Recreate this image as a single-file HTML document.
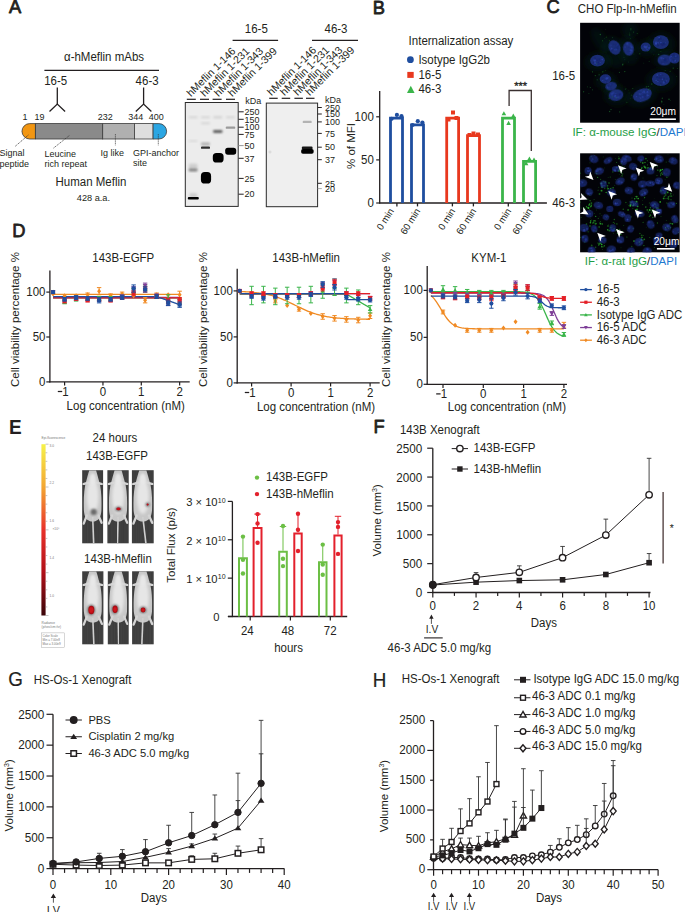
<!DOCTYPE html>
<html><head><meta charset="utf-8"><style>
html,body{margin:0;padding:0;background:#fff;}
body{width:685px;height:912px;overflow:hidden;}
svg{display:block;font-family:"Liberation Sans", sans-serif;}
</style></head><body>
<svg width="685" height="912" viewBox="0 0 685 912">
<rect x="0" y="0" width="685" height="912" fill="#fff"/>
<text transform="translate(8.90,13.20) scale(1,1.05)" font-size="18.3" text-anchor="start" fill="#231f20" stroke="#231f20" stroke-width="0.75" stroke-linejoin="round">A</text>
<text transform="translate(64.00,61.00) scale(1,1.05)" font-size="11.5" text-anchor="start" fill="#231f20" >α-hMeflin mAbs</text>
<line x1="44.40" y1="70.40" x2="159.00" y2="70.40" stroke="#231f20" stroke-width="1.3" />
<text transform="translate(44.20,85.00) scale(1,1.05)" font-size="11.5" text-anchor="start" fill="#231f20" >16-5</text>
<text transform="translate(135.60,85.00) scale(1,1.05)" font-size="11.5" text-anchor="start" fill="#231f20" >46-3</text>
<polyline points="57.30,87.50 57.30,104.10" fill="none" stroke="#231f20" stroke-width="1.3" />
<polyline points="49.50,111.50 57.30,104.10 65.10,111.50" fill="none" stroke="#231f20" stroke-width="1.3" />
<polyline points="143.60,87.50 143.60,104.10" fill="none" stroke="#231f20" stroke-width="1.3" />
<polyline points="135.80,111.50 143.60,104.10 151.40,111.50" fill="none" stroke="#231f20" stroke-width="1.3" />
<text transform="translate(22.50,120.00) scale(1,1.05)" font-size="9" text-anchor="start" fill="#231f20" >1</text>
<text transform="translate(34.50,120.00) scale(1,1.05)" font-size="9" text-anchor="start" fill="#231f20" >19</text>
<text transform="translate(97.80,120.00) scale(1,1.05)" font-size="9" text-anchor="start" fill="#231f20" >232</text>
<text transform="translate(128.20,120.00) scale(1,1.05)" font-size="9" text-anchor="start" fill="#231f20" >344</text>
<text transform="translate(148.70,120.00) scale(1,1.05)" font-size="9" text-anchor="start" fill="#231f20" >400</text>
<path d="M35.4,123.6 L29.700000000000003,123.6 A7.700000000000003,7.700000000000003 0 0 0 29.700000000000003,139.0 L35.4,139.0 Z" fill="#f29612" stroke="#3a3a3a" stroke-width="0.8"/>
<rect x="35.40" y="123.60" width="67.30" height="15.40" fill="#8a8a8a" stroke="#3a3a3a" stroke-width="0.8" />
<rect x="102.70" y="123.60" width="31.70" height="15.40" fill="#b0b0b0" stroke="#3a3a3a" stroke-width="0.8" />
<rect x="134.40" y="123.60" width="18.70" height="15.40" fill="#dedede" stroke="#3a3a3a" stroke-width="0.8" />
<path d="M153.1,123.6 L158.89999999999998,123.6 A7.700000000000003,7.700000000000003 0 0 1 158.89999999999998,139.0 L153.1,139.0 Z" fill="#2ba6e3" stroke="#3a3a3a" stroke-width="0.8"/>
<line x1="28.40" y1="135.00" x2="15.00" y2="146.50" stroke="#333" stroke-width="0.8" stroke-dasharray="1.2,0.9"/>
<line x1="69.30" y1="135.60" x2="53.00" y2="148.50" stroke="#333" stroke-width="0.8" stroke-dasharray="1.2,0.9"/>
<line x1="115.40" y1="134.20" x2="115.40" y2="145.30" stroke="#333" stroke-width="0.8" stroke-dasharray="1.2,0.9"/>
<line x1="158.30" y1="134.20" x2="158.30" y2="145.30" stroke="#333" stroke-width="0.8" stroke-dasharray="1.2,0.9"/>
<text transform="translate(-0.50,156.20) scale(1,1.05)" font-size="9" text-anchor="start" fill="#231f20" >Signal</text>
<text transform="translate(-0.50,166.80) scale(1,1.05)" font-size="9" text-anchor="start" fill="#231f20" >peptide</text>
<text transform="translate(44.60,156.60) scale(1,1.05)" font-size="9" text-anchor="start" fill="#231f20" >Leucine</text>
<text transform="translate(44.60,166.80) scale(1,1.05)" font-size="9" text-anchor="start" fill="#231f20" >rich repeat</text>
<text transform="translate(100.60,155.80) scale(1,1.05)" font-size="9" text-anchor="start" fill="#231f20" >Ig like</text>
<text transform="translate(133.00,155.80) scale(1,1.05)" font-size="9" text-anchor="start" fill="#231f20" >GPI-anchor</text>
<text transform="translate(133.00,165.60) scale(1,1.05)" font-size="9" text-anchor="start" fill="#231f20" >site</text>
<text transform="translate(55.50,186.00) scale(1,1.05)" font-size="11.5" text-anchor="start" fill="#231f20" >Human Meflin</text>
<text transform="translate(76.80,200.60) scale(1,1.05)" font-size="9.2" text-anchor="start" fill="#231f20" >428 a.a.</text>
<defs><filter id="b1" x="-50%" y="-50%" width="200%" height="200%"><feGaussianBlur stdDeviation="0.1"/></filter><filter id="b2" x="-50%" y="-50%" width="200%" height="200%"><feGaussianBlur stdDeviation="0.2"/></filter><filter id="b3" x="-50%" y="-50%" width="200%" height="200%"><feGaussianBlur stdDeviation="0.3"/></filter><filter id="b4" x="-50%" y="-50%" width="200%" height="200%"><feGaussianBlur stdDeviation="0.4"/></filter><filter id="b5" x="-50%" y="-50%" width="200%" height="200%"><feGaussianBlur stdDeviation="0.5"/></filter><filter id="b6" x="-50%" y="-50%" width="200%" height="200%"><feGaussianBlur stdDeviation="0.6"/></filter><filter id="b7" x="-50%" y="-50%" width="200%" height="200%"><feGaussianBlur stdDeviation="0.7"/></filter><filter id="b8" x="-50%" y="-50%" width="200%" height="200%"><feGaussianBlur stdDeviation="0.8"/></filter><filter id="b9" x="-50%" y="-50%" width="200%" height="200%"><feGaussianBlur stdDeviation="0.9"/></filter><filter id="b10" x="-50%" y="-50%" width="200%" height="200%"><feGaussianBlur stdDeviation="1.0"/></filter><filter id="b11" x="-50%" y="-50%" width="200%" height="200%"><feGaussianBlur stdDeviation="1.1"/></filter><filter id="b12" x="-50%" y="-50%" width="200%" height="200%"><feGaussianBlur stdDeviation="1.2"/></filter><filter id="b13" x="-50%" y="-50%" width="200%" height="200%"><feGaussianBlur stdDeviation="1.3"/></filter><filter id="b14" x="-50%" y="-50%" width="200%" height="200%"><feGaussianBlur stdDeviation="1.4"/></filter><filter id="b15" x="-50%" y="-50%" width="200%" height="200%"><feGaussianBlur stdDeviation="1.5"/></filter><filter id="b16" x="-50%" y="-50%" width="200%" height="200%"><feGaussianBlur stdDeviation="1.6"/></filter><filter id="b17" x="-50%" y="-50%" width="200%" height="200%"><feGaussianBlur stdDeviation="1.7"/></filter><filter id="b18" x="-50%" y="-50%" width="200%" height="200%"><feGaussianBlur stdDeviation="1.8"/></filter><filter id="b19" x="-50%" y="-50%" width="200%" height="200%"><feGaussianBlur stdDeviation="1.9"/></filter><filter id="b20" x="-50%" y="-50%" width="200%" height="200%"><feGaussianBlur stdDeviation="2.0"/></filter><filter id="b21" x="-50%" y="-50%" width="200%" height="200%"><feGaussianBlur stdDeviation="2.1"/></filter><filter id="b22" x="-50%" y="-50%" width="200%" height="200%"><feGaussianBlur stdDeviation="2.2"/></filter><filter id="b23" x="-50%" y="-50%" width="200%" height="200%"><feGaussianBlur stdDeviation="2.3"/></filter><filter id="b24" x="-50%" y="-50%" width="200%" height="200%"><feGaussianBlur stdDeviation="2.4"/></filter><filter id="b25" x="-50%" y="-50%" width="200%" height="200%"><feGaussianBlur stdDeviation="2.5"/></filter><filter id="b26" x="-50%" y="-50%" width="200%" height="200%"><feGaussianBlur stdDeviation="2.6"/></filter><filter id="b27" x="-50%" y="-50%" width="200%" height="200%"><feGaussianBlur stdDeviation="2.7"/></filter><filter id="b28" x="-50%" y="-50%" width="200%" height="200%"><feGaussianBlur stdDeviation="2.8"/></filter><filter id="b29" x="-50%" y="-50%" width="200%" height="200%"><feGaussianBlur stdDeviation="2.9"/></filter><filter id="b30" x="-50%" y="-50%" width="200%" height="200%"><feGaussianBlur stdDeviation="3.0"/></filter><filter id="b31" x="-50%" y="-50%" width="200%" height="200%"><feGaussianBlur stdDeviation="3.1"/></filter><filter id="b32" x="-50%" y="-50%" width="200%" height="200%"><feGaussianBlur stdDeviation="3.2"/></filter><filter id="b33" x="-50%" y="-50%" width="200%" height="200%"><feGaussianBlur stdDeviation="3.3"/></filter><filter id="b34" x="-50%" y="-50%" width="200%" height="200%"><feGaussianBlur stdDeviation="3.4"/></filter><filter id="b35" x="-50%" y="-50%" width="200%" height="200%"><feGaussianBlur stdDeviation="3.5"/></filter><filter id="b36" x="-50%" y="-50%" width="200%" height="200%"><feGaussianBlur stdDeviation="3.6"/></filter><filter id="b37" x="-50%" y="-50%" width="200%" height="200%"><feGaussianBlur stdDeviation="3.7"/></filter><filter id="b38" x="-50%" y="-50%" width="200%" height="200%"><feGaussianBlur stdDeviation="3.8"/></filter><filter id="b39" x="-50%" y="-50%" width="200%" height="200%"><feGaussianBlur stdDeviation="3.9"/></filter></defs>
<text transform="translate(244.80,33.40) scale(1,1.05)" font-size="11.5" text-anchor="start" fill="#231f20" >16-5</text>
<line x1="232.60" y1="40.40" x2="278.10" y2="40.40" stroke="#231f20" stroke-width="1.3" />
<text transform="translate(324.50,33.40) scale(1,1.05)" font-size="11.5" text-anchor="start" fill="#231f20" >46-3</text>
<line x1="312.00" y1="40.40" x2="358.00" y2="40.40" stroke="#231f20" stroke-width="1.3" />
<rect x="185.30" y="102.50" width="52.90" height="103.90" fill="#ececec" stroke="#2a2a2a" stroke-width="1" />
<clipPath id="cb1"><rect x="185.8" y="103" width="51.9" height="102.9"/></clipPath><g clip-path="url(#cb1)">
<rect x="187.80" y="196.90" width="11.00" height="2.60" rx="0.99" fill="#000" fill-opacity="1" filter="url(#b5)"/>
<rect x="189.30" y="193.00" width="8.00" height="5.00" rx="1.90" fill="#000" fill-opacity="0.12" filter="url(#b10)"/>
<rect x="188.60" y="168.40" width="9.00" height="3.00" rx="1.14" fill="#000" fill-opacity="0.45" filter="url(#b9)"/>
<rect x="188.60" y="163.50" width="9.00" height="5.00" rx="1.90" fill="#000" fill-opacity="0.12" filter="url(#b12)"/>
<rect x="188.60" y="140.00" width="9.00" height="2.00" rx="0.76" fill="#000" fill-opacity="0.08" filter="url(#b10)"/>
<rect x="188.60" y="116.30" width="9.00" height="2.00" rx="0.76" fill="#000" fill-opacity="0.1" filter="url(#b8)"/>
<rect x="200.90" y="172.05" width="10.20" height="11.50" rx="3.88" fill="#000" fill-opacity="1" filter="url(#b7)"/>
<rect x="201.00" y="146.40" width="9.00" height="2.40" rx="0.91" fill="#000" fill-opacity="0.8" filter="url(#b6)"/>
<rect x="201.00" y="142.50" width="9.00" height="3.00" rx="1.14" fill="#000" fill-opacity="0.25" filter="url(#b10)"/>
<rect x="201.00" y="122.30" width="9.00" height="2.00" rx="0.76" fill="#000" fill-opacity="0.1" filter="url(#b10)"/>
<rect x="201.00" y="116.30" width="9.00" height="2.00" rx="0.76" fill="#000" fill-opacity="0.1" filter="url(#b8)"/>
<rect x="212.80" y="153.00" width="10.80" height="9.60" rx="3.65" fill="#000" fill-opacity="1" filter="url(#b7)"/>
<rect x="213.05" y="130.00" width="9.50" height="3.00" rx="1.14" fill="#000" fill-opacity="0.6" filter="url(#b8)"/>
<rect x="213.30" y="116.05" width="9.00" height="2.50" rx="0.95" fill="#000" fill-opacity="0.1" filter="url(#b8)"/>
<rect x="225.20" y="147.70" width="11.00" height="7.00" rx="2.66" fill="#000" fill-opacity="1" filter="url(#b6)"/>
<rect x="225.75" y="126.40" width="9.50" height="2.40" rx="0.91" fill="#000" fill-opacity="0.35" filter="url(#b7)"/>
<rect x="226.00" y="116.30" width="9.00" height="2.00" rx="0.76" fill="#000" fill-opacity="0.1" filter="url(#b8)"/>
</g>
<line x1="186.80" y1="99.30" x2="195.80" y2="99.30" stroke="#231f20" stroke-width="1.2" />
<line x1="200.00" y1="99.30" x2="209.00" y2="99.30" stroke="#231f20" stroke-width="1.2" />
<line x1="212.60" y1="99.30" x2="221.60" y2="99.30" stroke="#231f20" stroke-width="1.2" />
<line x1="226.00" y1="99.30" x2="235.00" y2="99.30" stroke="#231f20" stroke-width="1.2" />
<text transform="translate(245.30,103.90) scale(1,1.05)" font-size="9" text-anchor="start" fill="#231f20" >kDa</text>
<line x1="238.50" y1="111.80" x2="243.70" y2="111.80" stroke="#231f20" stroke-width="1" />
<text transform="translate(244.40,115.00) scale(1,1.05)" font-size="9" text-anchor="start" fill="#231f20" >250</text>
<line x1="238.50" y1="119.30" x2="243.70" y2="119.30" stroke="#231f20" stroke-width="1" />
<text transform="translate(244.40,122.50) scale(1,1.05)" font-size="9" text-anchor="start" fill="#231f20" >150</text>
<line x1="238.50" y1="127.20" x2="243.70" y2="127.20" stroke="#231f20" stroke-width="1" />
<text transform="translate(244.40,130.40) scale(1,1.05)" font-size="9" text-anchor="start" fill="#231f20" >100</text>
<line x1="238.50" y1="134.40" x2="243.70" y2="134.40" stroke="#231f20" stroke-width="1" />
<text transform="translate(244.40,137.60) scale(1,1.05)" font-size="9" text-anchor="start" fill="#231f20" >75</text>
<line x1="238.50" y1="145.60" x2="243.70" y2="145.60" stroke="#999" stroke-width="1" />
<text transform="translate(244.40,148.80) scale(1,1.05)" font-size="9" text-anchor="start" fill="#231f20" >50</text>
<line x1="238.50" y1="158.30" x2="243.70" y2="158.30" stroke="#231f20" stroke-width="1" />
<text transform="translate(244.40,161.50) scale(1,1.05)" font-size="9" text-anchor="start" fill="#231f20" >37</text>
<line x1="238.50" y1="178.40" x2="243.70" y2="178.40" stroke="#231f20" stroke-width="1" />
<text transform="translate(244.40,181.60) scale(1,1.05)" font-size="9" text-anchor="start" fill="#231f20" >25</text>
<line x1="238.50" y1="194.20" x2="243.70" y2="194.20" stroke="#231f20" stroke-width="1" />
<text transform="translate(244.40,197.40) scale(1,1.05)" font-size="9" text-anchor="start" fill="#231f20" >20</text>
<rect x="266.30" y="103.10" width="51.30" height="103.60" fill="#efefef" stroke="#2a2a2a" stroke-width="1" />
<clipPath id="cb2"><rect x="266.8" y="103.6" width="50.3" height="102.6"/></clipPath><g clip-path="url(#cb2)">
<rect x="301.80" y="146.40" width="10.80" height="3.00" rx="1.14" fill="#000" fill-opacity="0.9" filter="url(#b6)"/>
<rect x="301.15" y="149.10" width="12.50" height="4.60" rx="1.75" fill="#000" fill-opacity="1" filter="url(#b6)"/>
<rect x="302.70" y="120.80" width="9.00" height="2.20" rx="0.84" fill="#000" fill-opacity="0.25" filter="url(#b7)"/>
<rect x="268.50" y="150.50" width="3.00" height="3.00" rx="1.14" fill="#000" fill-opacity="0.08" filter="url(#b7)"/>
</g>
<line x1="269.20" y1="98.30" x2="277.70" y2="98.30" stroke="#231f20" stroke-width="1.2" />
<line x1="281.70" y1="98.30" x2="290.20" y2="98.30" stroke="#231f20" stroke-width="1.2" />
<line x1="294.40" y1="98.30" x2="302.90" y2="98.30" stroke="#231f20" stroke-width="1.2" />
<line x1="306.00" y1="98.30" x2="314.50" y2="98.30" stroke="#231f20" stroke-width="1.2" />
<text transform="translate(325.00,102.90) scale(1,1.05)" font-size="9" text-anchor="start" fill="#231f20" >kDa</text>
<line x1="317.80" y1="107.50" x2="321.80" y2="107.50" stroke="#231f20" stroke-width="1" />
<text transform="translate(325.00,110.70) scale(1,1.05)" font-size="9" text-anchor="start" fill="#231f20" >250</text>
<line x1="317.80" y1="114.00" x2="321.80" y2="114.00" stroke="#231f20" stroke-width="1" />
<text transform="translate(325.00,117.20) scale(1,1.05)" font-size="9" text-anchor="start" fill="#231f20" >150</text>
<line x1="317.80" y1="121.90" x2="321.80" y2="121.90" stroke="#231f20" stroke-width="1" />
<text transform="translate(325.00,125.10) scale(1,1.05)" font-size="9" text-anchor="start" fill="#231f20" >100</text>
<line x1="317.80" y1="133.40" x2="321.80" y2="133.40" stroke="#231f20" stroke-width="1" />
<text transform="translate(325.00,136.60) scale(1,1.05)" font-size="9" text-anchor="start" fill="#231f20" >75</text>
<line x1="317.80" y1="147.20" x2="321.80" y2="147.20" stroke="#231f20" stroke-width="1" />
<text transform="translate(325.00,150.40) scale(1,1.05)" font-size="9" text-anchor="start" fill="#231f20" >50</text>
<line x1="317.80" y1="159.70" x2="321.80" y2="159.70" stroke="#231f20" stroke-width="1" />
<text transform="translate(325.00,162.90) scale(1,1.05)" font-size="9" text-anchor="start" fill="#231f20" >37</text>
<line x1="317.80" y1="183.30" x2="321.80" y2="183.30" stroke="#231f20" stroke-width="1" />
<text transform="translate(325.00,186.50) scale(1,1.05)" font-size="9" text-anchor="start" fill="#231f20" >25</text>
<line x1="317.80" y1="188.60" x2="321.80" y2="188.60" stroke="#aaa" stroke-width="1" />
<text transform="translate(325.00,191.80) scale(1,1.05)" font-size="9" text-anchor="start" fill="#231f20" >20</text>
<text x="0" y="0" font-size="10.6" text-anchor="start" fill="#231f20" transform="translate(190.9,97.2) rotate(-45)">hMeflin 1-146</text>
<text x="0" y="0" font-size="10.6" text-anchor="start" fill="#231f20" transform="translate(271.5,96.2) rotate(-45)">hMeflin 1-146</text>
<text x="0" y="0" font-size="10.6" text-anchor="start" fill="#231f20" transform="translate(204.7,97.2) rotate(-45)">hMeflin 1-231</text>
<text x="0" y="0" font-size="10.6" text-anchor="start" fill="#231f20" transform="translate(284.6,96.2) rotate(-45)">hMeflin 1-231</text>
<text x="0" y="0" font-size="10.6" text-anchor="start" fill="#231f20" transform="translate(218.5,97.2) rotate(-45)">hMeflin 1-343</text>
<text x="0" y="0" font-size="10.6" text-anchor="start" fill="#231f20" transform="translate(297.7,96.2) rotate(-45)">hMeflin 1-343</text>
<text x="0" y="0" font-size="10.6" text-anchor="start" fill="#231f20" transform="translate(232.3,97.2) rotate(-45)">hMeflin 1-399</text>
<text x="0" y="0" font-size="10.6" text-anchor="start" fill="#231f20" transform="translate(309.8,96.2) rotate(-45)">hMeflin 1-399</text>
<text transform="translate(372.80,13.60) scale(1,1.05)" font-size="18.3" text-anchor="start" fill="#231f20" stroke="#231f20" stroke-width="0.75" stroke-linejoin="round">B</text>
<text transform="translate(408.60,44.80) scale(1,1.05)" font-size="11.5" text-anchor="start" fill="#231f20" >Internalization assay</text>
<circle cx="410.40" cy="59.70" r="3.4" fill="#1f4e9f" stroke="none" stroke-width="1"/>
<text transform="translate(418.40,63.60) scale(1,1.05)" font-size="11.5" text-anchor="start" fill="#231f20" >Isotype IgG2b</text>
<rect x="407.30" y="71.90" width="6.40" height="6.00" fill="#e8381e" stroke="none" stroke-width="1" />
<text transform="translate(418.40,78.80) scale(1,1.05)" font-size="11.5" text-anchor="start" fill="#231f20" >16-5</text>
<polygon points="410.80,85.80 407.00,92.90 414.60,92.90" fill="#3bb54a" stroke="none" stroke-width="1"/>
<text transform="translate(418.40,92.80) scale(1,1.05)" font-size="11.5" text-anchor="start" fill="#231f20" >46-3</text>
<line x1="379.70" y1="90.90" x2="379.70" y2="203.60" stroke="#231f20" stroke-width="1.3" />
<line x1="379.10" y1="203.00" x2="546.90" y2="203.00" stroke="#231f20" stroke-width="1.3" />
<line x1="376.20" y1="116.80" x2="379.70" y2="116.80" stroke="#231f20" stroke-width="1.2" />
<text transform="translate(373.80,120.80) scale(1,1.05)" font-size="11.5" text-anchor="end" fill="#231f20" >100</text>
<line x1="376.20" y1="159.90" x2="379.70" y2="159.90" stroke="#231f20" stroke-width="1.2" />
<text transform="translate(373.80,163.90) scale(1,1.05)" font-size="11.5" text-anchor="end" fill="#231f20" >50</text>
<line x1="376.20" y1="203.00" x2="379.70" y2="203.00" stroke="#231f20" stroke-width="1.2" />
<text transform="translate(373.80,207.00) scale(1,1.05)" font-size="11.5" text-anchor="end" fill="#231f20" >0</text>
<text x="0" y="0" font-size="11.5" text-anchor="middle" fill="#231f20" transform="translate(355.0,146.0) rotate(-90)">% of MFI</text>
<path d="M390.50,203.0 V118.20 H402.50 V203.0" fill="none" stroke="#1f4e9f" stroke-width="2.8"/>
<path d="M411.50,203.0 V124.92 H423.50 V203.0" fill="none" stroke="#1f4e9f" stroke-width="2.8"/>
<path d="M446.70,203.0 V118.20 H458.60 V203.0" fill="none" stroke="#e8381e" stroke-width="2.8"/>
<path d="M467.50,203.0 V135.70 H479.50 V203.0" fill="none" stroke="#e8381e" stroke-width="2.8"/>
<path d="M502.50,203.0 V118.20 H514.50 V203.0" fill="none" stroke="#3bb54a" stroke-width="2.8"/>
<path d="M523.50,203.0 V161.39 H535.60 V203.0" fill="none" stroke="#3bb54a" stroke-width="2.8"/>
<circle cx="391.60" cy="118.80" r="2.1" fill="#1f4e9f" stroke="none" stroke-width="1"/>
<circle cx="396.90" cy="114.90" r="2.1" fill="#1f4e9f" stroke="none" stroke-width="1"/>
<circle cx="401.50" cy="116.20" r="2.1" fill="#1f4e9f" stroke="none" stroke-width="1"/>
<circle cx="412.60" cy="125.00" r="2.1" fill="#1f4e9f" stroke="none" stroke-width="1"/>
<circle cx="417.80" cy="121.20" r="2.1" fill="#1f4e9f" stroke="none" stroke-width="1"/>
<circle cx="422.40" cy="122.60" r="2.1" fill="#1f4e9f" stroke="none" stroke-width="1"/>
<rect x="446.50" y="117.50" width="4.00" height="4.00" fill="#e8381e" stroke="none" stroke-width="1" />
<rect x="451.00" y="110.50" width="4.00" height="4.00" fill="#e8381e" stroke="none" stroke-width="1" />
<rect x="454.50" y="116.00" width="4.00" height="4.00" fill="#e8381e" stroke="none" stroke-width="1" />
<rect x="467.50" y="133.00" width="4.00" height="4.00" fill="#e8381e" stroke="none" stroke-width="1" />
<rect x="471.50" y="131.50" width="4.00" height="4.00" fill="#e8381e" stroke="none" stroke-width="1" />
<rect x="476.00" y="132.50" width="4.00" height="4.00" fill="#e8381e" stroke="none" stroke-width="1" />
<polygon points="503.90,111.20 501.60,115.30 506.20,115.30" fill="#3bb54a" stroke="none" stroke-width="1"/>
<polygon points="508.60,120.80 506.30,124.90 510.90,124.90" fill="#3bb54a" stroke="none" stroke-width="1"/>
<polygon points="513.30,113.60 511.00,117.70 515.60,117.70" fill="#3bb54a" stroke="none" stroke-width="1"/>
<polygon points="529.40,156.40 527.10,160.50 531.70,160.50" fill="#3bb54a" stroke="none" stroke-width="1"/>
<polygon points="534.00,157.40 531.70,161.50 536.30,161.50" fill="#3bb54a" stroke="none" stroke-width="1"/>
<polygon points="526.10,161.20 523.80,165.30 528.40,165.30" fill="#3bb54a" stroke="none" stroke-width="1"/>
<polyline points="509.10,105.90 509.10,90.50 531.30,90.50 531.30,150.90" fill="none" stroke="#3a3030" stroke-width="1.3" />
<text transform="translate(520.60,90.40) scale(1,1.05)" font-size="11" text-anchor="middle" fill="#231f20" stroke="#231f20" stroke-width="0.3">***</text>
<line x1="396.90" y1="203.00" x2="396.90" y2="206.40" stroke="#231f20" stroke-width="1.3" />
<text x="0" y="0" font-size="9.6" text-anchor="end" fill="#231f20" transform="translate(394.3,210.9) rotate(-58)">0 min</text>
<line x1="417.50" y1="203.00" x2="417.50" y2="206.40" stroke="#231f20" stroke-width="1.3" />
<text x="0" y="0" font-size="9.6" text-anchor="end" fill="#231f20" transform="translate(420.7,210.9) rotate(-58)">60 min</text>
<line x1="452.40" y1="203.00" x2="452.40" y2="206.40" stroke="#231f20" stroke-width="1.3" />
<text x="0" y="0" font-size="9.6" text-anchor="end" fill="#231f20" transform="translate(455.6,210.9) rotate(-58)">0 min</text>
<line x1="473.40" y1="203.00" x2="473.40" y2="206.40" stroke="#231f20" stroke-width="1.3" />
<text x="0" y="0" font-size="9.6" text-anchor="end" fill="#231f20" transform="translate(476.6,210.9) rotate(-58)">60 min</text>
<line x1="508.30" y1="203.00" x2="508.30" y2="206.40" stroke="#231f20" stroke-width="1.3" />
<text x="0" y="0" font-size="9.6" text-anchor="end" fill="#231f20" transform="translate(511.5,210.9) rotate(-58)">0 min</text>
<line x1="529.50" y1="203.00" x2="529.50" y2="206.40" stroke="#231f20" stroke-width="1.3" />
<text x="0" y="0" font-size="9.6" text-anchor="end" fill="#231f20" transform="translate(532.7,210.9) rotate(-58)">60 min</text>
<text transform="translate(546.60,13.40) scale(1,1.05)" font-size="18.3" text-anchor="start" fill="#231f20" stroke="#231f20" stroke-width="0.75" stroke-linejoin="round">C</text>
<text transform="translate(577.80,12.80) scale(1,1.05)" font-size="11.5" text-anchor="start" fill="#231f20" >CHO Flp-In-hMeflin</text>
<rect x="580.10" y="22.80" width="99.60" height="99.90" fill="#020308" stroke="none" stroke-width="1" />
<clipPath id="cc1"><rect x="580.1" y="22.8" width="99.6" height="99.9"/></clipPath><g clip-path="url(#cc1)">
<ellipse cx="614" cy="52" rx="12" ry="16" transform="rotate(-20 614 52)" fill="#0c2a22" fill-opacity="0.28" filter="url(#b30)"/>
<ellipse cx="629" cy="50" rx="10" ry="15" transform="rotate(-10 629 50)" fill="#0c2a22" fill-opacity="0.28" filter="url(#b30)"/>
<ellipse cx="647" cy="48" rx="10" ry="9" transform="rotate(0 647 48)" fill="#0c2a22" fill-opacity="0.28" filter="url(#b30)"/>
<ellipse cx="661" cy="44" rx="14" ry="12" transform="rotate(0 661 44)" fill="#0c2a22" fill-opacity="0.28" filter="url(#b30)"/>
<ellipse cx="668" cy="60" rx="15" ry="9" transform="rotate(0 668 60)" fill="#0c2a22" fill-opacity="0.28" filter="url(#b30)"/>
<ellipse cx="598" cy="62" rx="13" ry="10" transform="rotate(0 598 62)" fill="#0c2a22" fill-opacity="0.28" filter="url(#b30)"/>
<ellipse cx="606" cy="81" rx="11" ry="9" transform="rotate(0 606 81)" fill="#0c2a22" fill-opacity="0.28" filter="url(#b30)"/>
<ellipse cx="612" cy="88" rx="10" ry="7" transform="rotate(0 612 88)" fill="#0c2a22" fill-opacity="0.28" filter="url(#b30)"/>
<ellipse cx="617" cy="96" rx="13" ry="10" transform="rotate(0 617 96)" fill="#0c2a22" fill-opacity="0.28" filter="url(#b30)"/>
<ellipse cx="661" cy="80" rx="15" ry="11" transform="rotate(0 661 80)" fill="#0c2a22" fill-opacity="0.28" filter="url(#b30)"/>
<ellipse cx="642" cy="96" rx="16" ry="10" transform="rotate(-20 642 96)" fill="#0c2a22" fill-opacity="0.28" filter="url(#b30)"/>
<ellipse cx="600" cy="40" rx="6" ry="14" transform="rotate(-30 600 40)" fill="#0c2a22" fill-opacity="0.28" filter="url(#b30)"/>
<ellipse cx="630" cy="30" rx="8" ry="8" transform="rotate(0 630 30)" fill="#0c2a22" fill-opacity="0.28" filter="url(#b30)"/>
<g transform="rotate(-25.0 614.5 47.5)">
<ellipse cx="614.5" cy="47.5" rx="5.8" ry="7.4" fill="#22338f" fill-opacity="0.8" filter="url(#b5)"/>
<circle cx="611.6" cy="48.6" r="0.83" fill="#16236a" fill-opacity="0.6" filter="url(#b4)"/>
<circle cx="611.4" cy="47.3" r="0.86" fill="#2e46b0" fill-opacity="0.6" filter="url(#b4)"/>
<circle cx="612.0" cy="44.1" r="0.71" fill="#2e46b0" fill-opacity="0.6" filter="url(#b4)"/>
<circle cx="617.6" cy="50.0" r="0.53" fill="#16236a" fill-opacity="0.6" filter="url(#b4)"/>
<circle cx="618.5" cy="46.9" r="0.93" fill="#16236a" fill-opacity="0.6" filter="url(#b4)"/>
<circle cx="614.8" cy="48.0" r="0.54" fill="#16236a" fill-opacity="0.6" filter="url(#b4)"/>
<circle cx="615.2" cy="49.9" r="0.82" fill="#2e46b0" fill-opacity="0.6" filter="url(#b4)"/>
<circle cx="611.0" cy="49.2" r="0.95" fill="#16236a" fill-opacity="0.6" filter="url(#b4)"/>
<circle cx="611.2" cy="47.5" r="0.69" fill="#2e46b0" fill-opacity="0.6" filter="url(#b4)"/>
<circle cx="618.6" cy="47.4" r="1.00" fill="#16236a" fill-opacity="0.6" filter="url(#b4)"/>
<circle cx="613.7" cy="49.8" r="0.55" fill="#2e46b0" fill-opacity="0.6" filter="url(#b4)"/>
<circle cx="614.8" cy="44.2" r="0.77" fill="#16236a" fill-opacity="0.6" filter="url(#b4)"/>
<circle cx="618.1" cy="46.3" r="0.65" fill="#2e46b0" fill-opacity="0.6" filter="url(#b4)"/>
<circle cx="616.9" cy="45.6" r="0.78" fill="#16236a" fill-opacity="0.6" filter="url(#b4)"/>
<circle cx="617.4" cy="49.3" r="0.69" fill="#16236a" fill-opacity="0.6" filter="url(#b4)"/>
<circle cx="616.5" cy="49.1" r="1.03" fill="#16236a" fill-opacity="0.6" filter="url(#b4)"/>
</g>
<g transform="rotate(-10.0 628.5 48.6)">
<ellipse cx="628.5" cy="48.6" rx="5.4" ry="7.2" fill="#22338f" fill-opacity="0.8" filter="url(#b5)"/>
<circle cx="629.9" cy="50.3" r="0.54" fill="#2e46b0" fill-opacity="0.6" filter="url(#b4)"/>
<circle cx="629.0" cy="46.6" r="0.81" fill="#16236a" fill-opacity="0.6" filter="url(#b4)"/>
<circle cx="629.7" cy="52.6" r="0.95" fill="#2e46b0" fill-opacity="0.6" filter="url(#b4)"/>
<circle cx="630.3" cy="50.8" r="0.69" fill="#2e46b0" fill-opacity="0.6" filter="url(#b4)"/>
<circle cx="631.8" cy="47.8" r="1.12" fill="#2e46b0" fill-opacity="0.6" filter="url(#b4)"/>
<circle cx="629.1" cy="51.7" r="0.95" fill="#16236a" fill-opacity="0.6" filter="url(#b4)"/>
<circle cx="631.5" cy="51.6" r="0.68" fill="#2e46b0" fill-opacity="0.6" filter="url(#b4)"/>
<circle cx="628.8" cy="45.7" r="0.55" fill="#2e46b0" fill-opacity="0.6" filter="url(#b4)"/>
<circle cx="630.9" cy="50.7" r="0.92" fill="#2e46b0" fill-opacity="0.6" filter="url(#b4)"/>
<circle cx="626.7" cy="51.0" r="0.84" fill="#16236a" fill-opacity="0.6" filter="url(#b4)"/>
<circle cx="625.4" cy="46.5" r="0.61" fill="#2e46b0" fill-opacity="0.6" filter="url(#b4)"/>
<circle cx="631.4" cy="46.1" r="0.63" fill="#2e46b0" fill-opacity="0.6" filter="url(#b4)"/>
<circle cx="628.3" cy="43.7" r="1.17" fill="#2e46b0" fill-opacity="0.6" filter="url(#b4)"/>
<circle cx="630.7" cy="46.0" r="0.57" fill="#2e46b0" fill-opacity="0.6" filter="url(#b4)"/>
</g>
<g transform="rotate(0.0 645.7 47.0)">
<ellipse cx="645.7" cy="47.0" rx="5.0" ry="4.6" fill="#22338f" fill-opacity="0.8" filter="url(#b5)"/>
<circle cx="649.0" cy="47.8" r="0.99" fill="#2e46b0" fill-opacity="0.6" filter="url(#b4)"/>
<circle cx="645.6" cy="49.9" r="0.71" fill="#16236a" fill-opacity="0.6" filter="url(#b4)"/>
<circle cx="647.0" cy="49.4" r="0.66" fill="#2e46b0" fill-opacity="0.6" filter="url(#b4)"/>
<circle cx="642.7" cy="45.9" r="0.70" fill="#16236a" fill-opacity="0.6" filter="url(#b4)"/>
<circle cx="647.1" cy="46.3" r="0.69" fill="#2e46b0" fill-opacity="0.6" filter="url(#b4)"/>
<circle cx="644.9" cy="47.3" r="0.76" fill="#2e46b0" fill-opacity="0.6" filter="url(#b4)"/>
<circle cx="644.6" cy="46.5" r="1.12" fill="#2e46b0" fill-opacity="0.6" filter="url(#b4)"/>
<circle cx="648.5" cy="46.7" r="0.91" fill="#16236a" fill-opacity="0.6" filter="url(#b4)"/>
<circle cx="646.1" cy="47.5" r="1.14" fill="#2e46b0" fill-opacity="0.6" filter="url(#b4)"/>
</g>
<g transform="rotate(0.0 660.9 42.1)">
<ellipse cx="660.9" cy="42.1" rx="8.0" ry="6.8" fill="#22338f" fill-opacity="0.8" filter="url(#b5)"/>
<circle cx="659.2" cy="37.6" r="0.95" fill="#2e46b0" fill-opacity="0.6" filter="url(#b4)"/>
<circle cx="656.1" cy="42.6" r="1.20" fill="#2e46b0" fill-opacity="0.6" filter="url(#b4)"/>
<circle cx="664.6" cy="43.7" r="1.13" fill="#16236a" fill-opacity="0.6" filter="url(#b4)"/>
<circle cx="660.5" cy="38.1" r="1.14" fill="#16236a" fill-opacity="0.6" filter="url(#b4)"/>
<circle cx="658.1" cy="45.3" r="1.11" fill="#16236a" fill-opacity="0.6" filter="url(#b4)"/>
<circle cx="656.6" cy="44.2" r="0.90" fill="#16236a" fill-opacity="0.6" filter="url(#b4)"/>
<circle cx="658.5" cy="40.0" r="0.93" fill="#16236a" fill-opacity="0.6" filter="url(#b4)"/>
<circle cx="664.8" cy="43.9" r="1.12" fill="#16236a" fill-opacity="0.6" filter="url(#b4)"/>
<circle cx="660.4" cy="39.2" r="0.91" fill="#16236a" fill-opacity="0.6" filter="url(#b4)"/>
<circle cx="656.1" cy="43.7" r="1.03" fill="#2e46b0" fill-opacity="0.6" filter="url(#b4)"/>
<circle cx="665.2" cy="42.8" r="0.66" fill="#2e46b0" fill-opacity="0.6" filter="url(#b4)"/>
<circle cx="659.6" cy="38.9" r="1.14" fill="#16236a" fill-opacity="0.6" filter="url(#b4)"/>
<circle cx="660.9" cy="42.6" r="0.97" fill="#2e46b0" fill-opacity="0.6" filter="url(#b4)"/>
<circle cx="661.6" cy="44.0" r="0.96" fill="#16236a" fill-opacity="0.6" filter="url(#b4)"/>
<circle cx="656.0" cy="43.7" r="0.97" fill="#2e46b0" fill-opacity="0.6" filter="url(#b4)"/>
<circle cx="662.1" cy="45.1" r="1.14" fill="#16236a" fill-opacity="0.6" filter="url(#b4)"/>
<circle cx="663.4" cy="40.1" r="0.72" fill="#16236a" fill-opacity="0.6" filter="url(#b4)"/>
<circle cx="663.5" cy="44.6" r="1.09" fill="#16236a" fill-opacity="0.6" filter="url(#b4)"/>
<circle cx="659.6" cy="37.6" r="0.62" fill="#2e46b0" fill-opacity="0.6" filter="url(#b4)"/>
<circle cx="658.1" cy="42.9" r="0.79" fill="#2e46b0" fill-opacity="0.6" filter="url(#b4)"/>
</g>
<g transform="rotate(-5.0 664.5 60.0)">
<ellipse cx="664.5" cy="60.0" rx="7.0" ry="5.6" fill="#22338f" fill-opacity="0.8" filter="url(#b5)"/>
<circle cx="662.1" cy="58.0" r="1.09" fill="#2e46b0" fill-opacity="0.6" filter="url(#b4)"/>
<circle cx="667.8" cy="59.7" r="0.52" fill="#2e46b0" fill-opacity="0.6" filter="url(#b4)"/>
<circle cx="665.2" cy="59.4" r="0.90" fill="#16236a" fill-opacity="0.6" filter="url(#b4)"/>
<circle cx="662.9" cy="63.3" r="0.60" fill="#2e46b0" fill-opacity="0.6" filter="url(#b4)"/>
<circle cx="663.8" cy="60.2" r="0.67" fill="#16236a" fill-opacity="0.6" filter="url(#b4)"/>
<circle cx="665.2" cy="60.7" r="0.81" fill="#16236a" fill-opacity="0.6" filter="url(#b4)"/>
<circle cx="661.8" cy="57.7" r="1.17" fill="#16236a" fill-opacity="0.6" filter="url(#b4)"/>
<circle cx="663.6" cy="58.4" r="0.63" fill="#2e46b0" fill-opacity="0.6" filter="url(#b4)"/>
<circle cx="667.9" cy="60.2" r="0.63" fill="#16236a" fill-opacity="0.6" filter="url(#b4)"/>
<circle cx="664.1" cy="62.3" r="0.86" fill="#16236a" fill-opacity="0.6" filter="url(#b4)"/>
<circle cx="661.3" cy="57.8" r="1.05" fill="#2e46b0" fill-opacity="0.6" filter="url(#b4)"/>
<circle cx="665.7" cy="59.4" r="1.01" fill="#16236a" fill-opacity="0.6" filter="url(#b4)"/>
<circle cx="666.8" cy="61.9" r="1.14" fill="#16236a" fill-opacity="0.6" filter="url(#b4)"/>
<circle cx="661.9" cy="62.1" r="1.06" fill="#16236a" fill-opacity="0.6" filter="url(#b4)"/>
<circle cx="667.6" cy="59.1" r="0.64" fill="#16236a" fill-opacity="0.6" filter="url(#b4)"/>
</g>
<g transform="rotate(0.0 674.5 58.0)">
<ellipse cx="674.5" cy="58.0" rx="5.5" ry="5.6" fill="#22338f" fill-opacity="0.8" filter="url(#b5)"/>
<circle cx="673.9" cy="54.5" r="1.00" fill="#16236a" fill-opacity="0.6" filter="url(#b4)"/>
<circle cx="675.3" cy="61.6" r="1.18" fill="#16236a" fill-opacity="0.6" filter="url(#b4)"/>
<circle cx="671.2" cy="57.2" r="1.14" fill="#2e46b0" fill-opacity="0.6" filter="url(#b4)"/>
<circle cx="675.9" cy="56.2" r="0.81" fill="#2e46b0" fill-opacity="0.6" filter="url(#b4)"/>
<circle cx="671.3" cy="56.9" r="0.52" fill="#2e46b0" fill-opacity="0.6" filter="url(#b4)"/>
<circle cx="674.9" cy="57.1" r="0.62" fill="#16236a" fill-opacity="0.6" filter="url(#b4)"/>
<circle cx="672.8" cy="61.0" r="0.60" fill="#2e46b0" fill-opacity="0.6" filter="url(#b4)"/>
<circle cx="671.2" cy="57.7" r="0.98" fill="#16236a" fill-opacity="0.6" filter="url(#b4)"/>
<circle cx="677.0" cy="57.1" r="0.56" fill="#16236a" fill-opacity="0.6" filter="url(#b4)"/>
<circle cx="675.0" cy="60.8" r="1.01" fill="#2e46b0" fill-opacity="0.6" filter="url(#b4)"/>
<circle cx="672.7" cy="55.8" r="0.89" fill="#16236a" fill-opacity="0.6" filter="url(#b4)"/>
<circle cx="673.6" cy="60.2" r="1.13" fill="#16236a" fill-opacity="0.6" filter="url(#b4)"/>
</g>
<g transform="rotate(0.0 597.5 60.6)">
<ellipse cx="597.5" cy="60.6" rx="7.4" ry="5.8" fill="#22338f" fill-opacity="0.8" filter="url(#b5)"/>
<circle cx="598.7" cy="64.2" r="0.87" fill="#16236a" fill-opacity="0.6" filter="url(#b4)"/>
<circle cx="595.4" cy="59.8" r="0.85" fill="#16236a" fill-opacity="0.6" filter="url(#b4)"/>
<circle cx="596.8" cy="60.2" r="0.86" fill="#16236a" fill-opacity="0.6" filter="url(#b4)"/>
<circle cx="593.7" cy="62.7" r="0.84" fill="#16236a" fill-opacity="0.6" filter="url(#b4)"/>
<circle cx="597.0" cy="59.6" r="0.79" fill="#16236a" fill-opacity="0.6" filter="url(#b4)"/>
<circle cx="602.3" cy="59.6" r="0.83" fill="#2e46b0" fill-opacity="0.6" filter="url(#b4)"/>
<circle cx="599.9" cy="62.5" r="1.13" fill="#16236a" fill-opacity="0.6" filter="url(#b4)"/>
<circle cx="594.6" cy="60.9" r="0.93" fill="#2e46b0" fill-opacity="0.6" filter="url(#b4)"/>
<circle cx="599.2" cy="59.9" r="0.52" fill="#16236a" fill-opacity="0.6" filter="url(#b4)"/>
<circle cx="598.3" cy="62.4" r="0.73" fill="#16236a" fill-opacity="0.6" filter="url(#b4)"/>
<circle cx="595.0" cy="63.1" r="1.01" fill="#2e46b0" fill-opacity="0.6" filter="url(#b4)"/>
<circle cx="600.2" cy="62.6" r="0.64" fill="#2e46b0" fill-opacity="0.6" filter="url(#b4)"/>
<circle cx="594.1" cy="60.1" r="0.79" fill="#2e46b0" fill-opacity="0.6" filter="url(#b4)"/>
<circle cx="595.5" cy="60.3" r="0.94" fill="#2e46b0" fill-opacity="0.6" filter="url(#b4)"/>
<circle cx="595.1" cy="58.3" r="0.93" fill="#16236a" fill-opacity="0.6" filter="url(#b4)"/>
<circle cx="599.1" cy="59.1" r="1.07" fill="#16236a" fill-opacity="0.6" filter="url(#b4)"/>
</g>
<g transform="rotate(0.0 605.5 79.0)">
<ellipse cx="605.5" cy="79.0" rx="5.8" ry="4.7" fill="#22338f" fill-opacity="0.8" filter="url(#b5)"/>
<circle cx="607.4" cy="77.9" r="1.15" fill="#2e46b0" fill-opacity="0.6" filter="url(#b4)"/>
<circle cx="606.3" cy="82.2" r="0.59" fill="#16236a" fill-opacity="0.6" filter="url(#b4)"/>
<circle cx="605.7" cy="81.8" r="0.57" fill="#2e46b0" fill-opacity="0.6" filter="url(#b4)"/>
<circle cx="606.8" cy="77.1" r="0.59" fill="#16236a" fill-opacity="0.6" filter="url(#b4)"/>
<circle cx="602.7" cy="80.6" r="0.64" fill="#2e46b0" fill-opacity="0.6" filter="url(#b4)"/>
<circle cx="603.9" cy="76.1" r="0.58" fill="#16236a" fill-opacity="0.6" filter="url(#b4)"/>
<circle cx="602.0" cy="78.9" r="0.98" fill="#16236a" fill-opacity="0.6" filter="url(#b4)"/>
<circle cx="605.9" cy="79.8" r="0.53" fill="#2e46b0" fill-opacity="0.6" filter="url(#b4)"/>
<circle cx="602.7" cy="78.2" r="0.60" fill="#16236a" fill-opacity="0.6" filter="url(#b4)"/>
<circle cx="606.2" cy="80.4" r="1.19" fill="#16236a" fill-opacity="0.6" filter="url(#b4)"/>
<circle cx="606.6" cy="78.5" r="1.17" fill="#2e46b0" fill-opacity="0.6" filter="url(#b4)"/>
</g>
<g transform="rotate(-10.0 611.1 86.3)">
<ellipse cx="611.1" cy="86.3" rx="5.8" ry="4.2" fill="#22338f" fill-opacity="0.8" filter="url(#b5)"/>
<circle cx="607.7" cy="86.9" r="0.83" fill="#2e46b0" fill-opacity="0.6" filter="url(#b4)"/>
<circle cx="608.4" cy="86.1" r="0.51" fill="#16236a" fill-opacity="0.6" filter="url(#b4)"/>
<circle cx="610.0" cy="83.7" r="0.82" fill="#2e46b0" fill-opacity="0.6" filter="url(#b4)"/>
<circle cx="610.9" cy="84.4" r="0.62" fill="#2e46b0" fill-opacity="0.6" filter="url(#b4)"/>
<circle cx="610.6" cy="86.3" r="1.06" fill="#16236a" fill-opacity="0.6" filter="url(#b4)"/>
<circle cx="610.0" cy="83.7" r="0.78" fill="#16236a" fill-opacity="0.6" filter="url(#b4)"/>
<circle cx="608.8" cy="85.1" r="1.06" fill="#16236a" fill-opacity="0.6" filter="url(#b4)"/>
<circle cx="610.9" cy="89.1" r="1.04" fill="#16236a" fill-opacity="0.6" filter="url(#b4)"/>
<circle cx="612.1" cy="84.6" r="1.12" fill="#16236a" fill-opacity="0.6" filter="url(#b4)"/>
<circle cx="609.9" cy="83.9" r="0.78" fill="#16236a" fill-opacity="0.6" filter="url(#b4)"/>
</g>
<g transform="rotate(-10.0 616.0 95.1)">
<ellipse cx="616.0" cy="95.1" rx="7.4" ry="5.8" fill="#22338f" fill-opacity="0.8" filter="url(#b5)"/>
<circle cx="615.8" cy="94.0" r="0.83" fill="#2e46b0" fill-opacity="0.6" filter="url(#b4)"/>
<circle cx="619.1" cy="95.3" r="0.94" fill="#16236a" fill-opacity="0.6" filter="url(#b4)"/>
<circle cx="616.6" cy="99.0" r="0.74" fill="#16236a" fill-opacity="0.6" filter="url(#b4)"/>
<circle cx="613.9" cy="92.5" r="0.77" fill="#16236a" fill-opacity="0.6" filter="url(#b4)"/>
<circle cx="620.2" cy="95.1" r="1.03" fill="#16236a" fill-opacity="0.6" filter="url(#b4)"/>
<circle cx="616.8" cy="95.0" r="1.02" fill="#16236a" fill-opacity="0.6" filter="url(#b4)"/>
<circle cx="615.9" cy="97.7" r="0.64" fill="#2e46b0" fill-opacity="0.6" filter="url(#b4)"/>
<circle cx="614.8" cy="96.0" r="1.13" fill="#2e46b0" fill-opacity="0.6" filter="url(#b4)"/>
<circle cx="612.5" cy="94.2" r="0.90" fill="#16236a" fill-opacity="0.6" filter="url(#b4)"/>
<circle cx="620.1" cy="95.0" r="0.55" fill="#16236a" fill-opacity="0.6" filter="url(#b4)"/>
<circle cx="612.3" cy="93.1" r="1.15" fill="#2e46b0" fill-opacity="0.6" filter="url(#b4)"/>
<circle cx="617.9" cy="97.5" r="0.85" fill="#2e46b0" fill-opacity="0.6" filter="url(#b4)"/>
<circle cx="615.0" cy="94.5" r="0.79" fill="#16236a" fill-opacity="0.6" filter="url(#b4)"/>
<circle cx="612.1" cy="94.6" r="0.70" fill="#2e46b0" fill-opacity="0.6" filter="url(#b4)"/>
<circle cx="613.8" cy="92.6" r="1.00" fill="#2e46b0" fill-opacity="0.6" filter="url(#b4)"/>
<circle cx="615.8" cy="95.6" r="0.53" fill="#2e46b0" fill-opacity="0.6" filter="url(#b4)"/>
</g>
<g transform="rotate(0.0 660.9 79.0)">
<ellipse cx="660.9" cy="79.0" rx="9.0" ry="6.9" fill="#22338f" fill-opacity="0.8" filter="url(#b5)"/>
<circle cx="663.9" cy="82.5" r="1.13" fill="#2e46b0" fill-opacity="0.6" filter="url(#b4)"/>
<circle cx="660.9" cy="77.9" r="1.16" fill="#16236a" fill-opacity="0.6" filter="url(#b4)"/>
<circle cx="666.3" cy="81.0" r="0.83" fill="#2e46b0" fill-opacity="0.6" filter="url(#b4)"/>
<circle cx="664.0" cy="78.6" r="1.16" fill="#16236a" fill-opacity="0.6" filter="url(#b4)"/>
<circle cx="660.2" cy="75.7" r="1.07" fill="#16236a" fill-opacity="0.6" filter="url(#b4)"/>
<circle cx="659.2" cy="78.0" r="0.82" fill="#16236a" fill-opacity="0.6" filter="url(#b4)"/>
<circle cx="661.3" cy="80.1" r="0.59" fill="#16236a" fill-opacity="0.6" filter="url(#b4)"/>
<circle cx="656.1" cy="80.4" r="0.68" fill="#2e46b0" fill-opacity="0.6" filter="url(#b4)"/>
<circle cx="657.4" cy="77.5" r="0.87" fill="#16236a" fill-opacity="0.6" filter="url(#b4)"/>
<circle cx="667.0" cy="78.9" r="0.67" fill="#16236a" fill-opacity="0.6" filter="url(#b4)"/>
<circle cx="665.4" cy="82.0" r="0.94" fill="#16236a" fill-opacity="0.6" filter="url(#b4)"/>
<circle cx="658.8" cy="80.9" r="0.90" fill="#16236a" fill-opacity="0.6" filter="url(#b4)"/>
<circle cx="656.7" cy="76.9" r="0.63" fill="#16236a" fill-opacity="0.6" filter="url(#b4)"/>
<circle cx="660.9" cy="83.8" r="1.12" fill="#16236a" fill-opacity="0.6" filter="url(#b4)"/>
<circle cx="662.4" cy="79.3" r="0.80" fill="#2e46b0" fill-opacity="0.6" filter="url(#b4)"/>
<circle cx="659.5" cy="77.9" r="0.55" fill="#16236a" fill-opacity="0.6" filter="url(#b4)"/>
<circle cx="665.3" cy="81.1" r="0.94" fill="#16236a" fill-opacity="0.6" filter="url(#b4)"/>
<circle cx="657.9" cy="81.4" r="0.74" fill="#2e46b0" fill-opacity="0.6" filter="url(#b4)"/>
<circle cx="660.7" cy="74.6" r="0.58" fill="#2e46b0" fill-opacity="0.6" filter="url(#b4)"/>
<circle cx="662.7" cy="75.4" r="0.65" fill="#16236a" fill-opacity="0.6" filter="url(#b4)"/>
<circle cx="658.1" cy="80.1" r="0.76" fill="#16236a" fill-opacity="0.6" filter="url(#b4)"/>
<circle cx="657.3" cy="75.1" r="0.88" fill="#2e46b0" fill-opacity="0.6" filter="url(#b4)"/>
</g>
<g transform="rotate(-20.0 642.4 95.1)">
<ellipse cx="642.4" cy="95.1" rx="9.8" ry="6.4" fill="#22338f" fill-opacity="0.8" filter="url(#b5)"/>
<circle cx="642.2" cy="90.8" r="0.76" fill="#2e46b0" fill-opacity="0.6" filter="url(#b4)"/>
<circle cx="647.7" cy="97.5" r="0.56" fill="#2e46b0" fill-opacity="0.6" filter="url(#b4)"/>
<circle cx="638.0" cy="93.9" r="0.71" fill="#16236a" fill-opacity="0.6" filter="url(#b4)"/>
<circle cx="642.7" cy="93.9" r="0.96" fill="#2e46b0" fill-opacity="0.6" filter="url(#b4)"/>
<circle cx="645.7" cy="96.3" r="0.99" fill="#16236a" fill-opacity="0.6" filter="url(#b4)"/>
<circle cx="641.9" cy="96.8" r="1.01" fill="#2e46b0" fill-opacity="0.6" filter="url(#b4)"/>
<circle cx="640.8" cy="96.2" r="0.90" fill="#16236a" fill-opacity="0.6" filter="url(#b4)"/>
<circle cx="648.2" cy="93.0" r="0.81" fill="#16236a" fill-opacity="0.6" filter="url(#b4)"/>
<circle cx="643.6" cy="92.8" r="0.78" fill="#2e46b0" fill-opacity="0.6" filter="url(#b4)"/>
<circle cx="648.3" cy="93.4" r="0.75" fill="#2e46b0" fill-opacity="0.6" filter="url(#b4)"/>
<circle cx="639.7" cy="97.1" r="0.77" fill="#2e46b0" fill-opacity="0.6" filter="url(#b4)"/>
<circle cx="644.1" cy="98.3" r="0.88" fill="#16236a" fill-opacity="0.6" filter="url(#b4)"/>
<circle cx="645.1" cy="92.2" r="1.03" fill="#2e46b0" fill-opacity="0.6" filter="url(#b4)"/>
<circle cx="645.1" cy="93.5" r="0.86" fill="#2e46b0" fill-opacity="0.6" filter="url(#b4)"/>
<circle cx="637.4" cy="94.2" r="0.96" fill="#16236a" fill-opacity="0.6" filter="url(#b4)"/>
<circle cx="643.0" cy="94.0" r="1.05" fill="#16236a" fill-opacity="0.6" filter="url(#b4)"/>
<circle cx="644.1" cy="95.7" r="1.13" fill="#16236a" fill-opacity="0.6" filter="url(#b4)"/>
<circle cx="647.1" cy="96.9" r="1.02" fill="#2e46b0" fill-opacity="0.6" filter="url(#b4)"/>
<circle cx="640.4" cy="93.3" r="1.04" fill="#2e46b0" fill-opacity="0.6" filter="url(#b4)"/>
<circle cx="636.5" cy="94.6" r="0.74" fill="#2e46b0" fill-opacity="0.6" filter="url(#b4)"/>
<circle cx="647.9" cy="94.4" r="0.88" fill="#2e46b0" fill-opacity="0.6" filter="url(#b4)"/>
<circle cx="641.4" cy="91.4" r="0.79" fill="#16236a" fill-opacity="0.6" filter="url(#b4)"/>
</g>
<circle cx="600.3" cy="34.5" r="0.67" fill="#2a9a3a" fill-opacity="0.53"/>
<circle cx="605.3" cy="29.2" r="0.36" fill="#2a9a3a" fill-opacity="0.39"/>
<circle cx="612.5" cy="37.6" r="0.71" fill="#2a9a3a" fill-opacity="0.28"/>
<circle cx="602.5" cy="40.7" r="0.57" fill="#2a9a3a" fill-opacity="0.42"/>
<circle cx="609.3" cy="40.3" r="0.46" fill="#2a9a3a" fill-opacity="0.52"/>
<circle cx="606.3" cy="37.2" r="0.67" fill="#2a9a3a" fill-opacity="0.29"/>
<circle cx="604.2" cy="38.3" r="0.35" fill="#2a9a3a" fill-opacity="0.51"/>
<circle cx="622.7" cy="64.8" r="0.74" fill="#2a9a3a" fill-opacity="0.51"/>
<circle cx="619.4" cy="72.4" r="0.57" fill="#2a9a3a" fill-opacity="0.45"/>
<circle cx="624.8" cy="71.6" r="0.63" fill="#2a9a3a" fill-opacity="0.54"/>
<circle cx="624.8" cy="59.8" r="0.49" fill="#2a9a3a" fill-opacity="0.30"/>
<circle cx="622.9" cy="63.2" r="0.47" fill="#2a9a3a" fill-opacity="0.43"/>
<circle cx="628.3" cy="62.1" r="0.49" fill="#2a9a3a" fill-opacity="0.34"/>
<circle cx="624.0" cy="57.6" r="0.48" fill="#2a9a3a" fill-opacity="0.39"/>
<circle cx="639.7" cy="53.8" r="0.74" fill="#2a9a3a" fill-opacity="0.26"/>
<circle cx="640.0" cy="48.0" r="0.36" fill="#2a9a3a" fill-opacity="0.49"/>
<circle cx="636.8" cy="58.5" r="0.35" fill="#2a9a3a" fill-opacity="0.26"/>
<circle cx="643.8" cy="63.1" r="0.43" fill="#2a9a3a" fill-opacity="0.48"/>
<circle cx="647.8" cy="51.3" r="0.49" fill="#2a9a3a" fill-opacity="0.36"/>
<circle cx="633.9" cy="54.0" r="0.39" fill="#2a9a3a" fill-opacity="0.47"/>
<circle cx="642.1" cy="48.2" r="0.36" fill="#2a9a3a" fill-opacity="0.53"/>
<circle cx="658.7" cy="54.4" r="0.59" fill="#2a9a3a" fill-opacity="0.53"/>
<circle cx="649.2" cy="61.2" r="0.57" fill="#2a9a3a" fill-opacity="0.34"/>
<circle cx="653.8" cy="54.7" r="0.38" fill="#2a9a3a" fill-opacity="0.29"/>
<circle cx="648.9" cy="36.9" r="0.41" fill="#2a9a3a" fill-opacity="0.26"/>
<circle cx="660.9" cy="51.5" r="0.51" fill="#2a9a3a" fill-opacity="0.32"/>
<circle cx="647.5" cy="47.0" r="0.53" fill="#2a9a3a" fill-opacity="0.38"/>
<circle cx="665.0" cy="55.7" r="0.36" fill="#2a9a3a" fill-opacity="0.40"/>
<circle cx="673.2" cy="68.1" r="0.64" fill="#2a9a3a" fill-opacity="0.53"/>
<circle cx="666.9" cy="64.6" r="0.39" fill="#2a9a3a" fill-opacity="0.38"/>
<circle cx="676.8" cy="76.5" r="0.47" fill="#2a9a3a" fill-opacity="0.39"/>
<circle cx="680.2" cy="70.0" r="0.74" fill="#2a9a3a" fill-opacity="0.39"/>
<circle cx="665.2" cy="70.5" r="0.54" fill="#2a9a3a" fill-opacity="0.34"/>
<circle cx="670.1" cy="71.3" r="0.50" fill="#2a9a3a" fill-opacity="0.55"/>
<circle cx="677.7" cy="68.5" r="0.55" fill="#2a9a3a" fill-opacity="0.35"/>
<circle cx="602.8" cy="71.8" r="0.66" fill="#2a9a3a" fill-opacity="0.51"/>
<circle cx="595.3" cy="75.6" r="0.66" fill="#2a9a3a" fill-opacity="0.46"/>
<circle cx="596.4" cy="63.9" r="0.50" fill="#2a9a3a" fill-opacity="0.46"/>
<circle cx="599.1" cy="74.8" r="0.66" fill="#2a9a3a" fill-opacity="0.46"/>
<circle cx="597.2" cy="79.8" r="0.61" fill="#2a9a3a" fill-opacity="0.42"/>
<circle cx="605.3" cy="70.4" r="0.45" fill="#2a9a3a" fill-opacity="0.45"/>
<circle cx="592.5" cy="71.8" r="0.61" fill="#2a9a3a" fill-opacity="0.49"/>
<circle cx="611.0" cy="109.6" r="0.65" fill="#2a9a3a" fill-opacity="0.50"/>
<circle cx="609.6" cy="111.5" r="0.70" fill="#2a9a3a" fill-opacity="0.46"/>
<circle cx="626.9" cy="102.2" r="0.56" fill="#2a9a3a" fill-opacity="0.41"/>
<circle cx="619.6" cy="111.9" r="0.72" fill="#2a9a3a" fill-opacity="0.39"/>
<circle cx="612.2" cy="96.9" r="0.64" fill="#2a9a3a" fill-opacity="0.30"/>
<circle cx="616.2" cy="97.8" r="0.62" fill="#2a9a3a" fill-opacity="0.38"/>
<circle cx="609.1" cy="98.2" r="0.60" fill="#2a9a3a" fill-opacity="0.47"/>
<circle cx="632.8" cy="88.5" r="0.53" fill="#2a9a3a" fill-opacity="0.45"/>
<circle cx="631.4" cy="95.2" r="0.60" fill="#2a9a3a" fill-opacity="0.26"/>
<circle cx="626.6" cy="88.6" r="0.37" fill="#2a9a3a" fill-opacity="0.29"/>
<circle cx="628.8" cy="90.8" r="0.43" fill="#2a9a3a" fill-opacity="0.26"/>
<circle cx="625.4" cy="89.0" r="0.59" fill="#2a9a3a" fill-opacity="0.43"/>
<circle cx="630.8" cy="98.3" r="0.35" fill="#2a9a3a" fill-opacity="0.37"/>
<circle cx="629.1" cy="92.9" r="0.40" fill="#2a9a3a" fill-opacity="0.50"/>
<circle cx="649.2" cy="88.8" r="0.60" fill="#2a9a3a" fill-opacity="0.28"/>
<circle cx="646.3" cy="86.9" r="0.58" fill="#2a9a3a" fill-opacity="0.54"/>
<circle cx="651.8" cy="84.0" r="0.68" fill="#2a9a3a" fill-opacity="0.44"/>
<circle cx="648.4" cy="89.7" r="0.59" fill="#2a9a3a" fill-opacity="0.42"/>
<circle cx="660.6" cy="85.1" r="0.59" fill="#2a9a3a" fill-opacity="0.36"/>
<circle cx="650.1" cy="87.9" r="0.39" fill="#2a9a3a" fill-opacity="0.42"/>
<circle cx="648.3" cy="86.5" r="0.60" fill="#2a9a3a" fill-opacity="0.52"/>
<circle cx="661.8" cy="103.1" r="0.44" fill="#2a9a3a" fill-opacity="0.34"/>
<circle cx="669.0" cy="99.3" r="0.73" fill="#2a9a3a" fill-opacity="0.52"/>
<circle cx="662.3" cy="98.2" r="0.74" fill="#2a9a3a" fill-opacity="0.40"/>
<circle cx="661.8" cy="101.9" r="0.74" fill="#2a9a3a" fill-opacity="0.40"/>
<circle cx="663.9" cy="104.7" r="0.40" fill="#2a9a3a" fill-opacity="0.44"/>
<circle cx="661.7" cy="101.2" r="0.66" fill="#2a9a3a" fill-opacity="0.50"/>
<circle cx="670.2" cy="100.4" r="0.46" fill="#2a9a3a" fill-opacity="0.53"/>
<circle cx="590.4" cy="87.8" r="0.46" fill="#2a9a3a" fill-opacity="0.30"/>
<circle cx="592.5" cy="89.8" r="0.59" fill="#2a9a3a" fill-opacity="0.39"/>
<circle cx="587.5" cy="86.8" r="0.65" fill="#2a9a3a" fill-opacity="0.29"/>
<circle cx="590.2" cy="87.5" r="0.56" fill="#2a9a3a" fill-opacity="0.35"/>
<circle cx="588.9" cy="93.5" r="0.54" fill="#2a9a3a" fill-opacity="0.36"/>
<circle cx="589.9" cy="86.0" r="0.36" fill="#2a9a3a" fill-opacity="0.33"/>
<circle cx="583.6" cy="91.8" r="0.71" fill="#2a9a3a" fill-opacity="0.41"/>
<circle cx="637.2" cy="33.5" r="0.52" fill="#2a9a3a" fill-opacity="0.42"/>
<circle cx="630.9" cy="28.9" r="0.54" fill="#2a9a3a" fill-opacity="0.52"/>
<circle cx="629.7" cy="35.0" r="0.69" fill="#2a9a3a" fill-opacity="0.31"/>
<circle cx="630.4" cy="38.4" r="0.38" fill="#2a9a3a" fill-opacity="0.50"/>
<circle cx="630.9" cy="30.0" r="0.46" fill="#2a9a3a" fill-opacity="0.48"/>
<circle cx="633.4" cy="32.1" r="0.54" fill="#2a9a3a" fill-opacity="0.41"/>
<circle cx="629.3" cy="33.0" r="0.41" fill="#2a9a3a" fill-opacity="0.43"/>
</g>
<text transform="translate(650.30,115.20) scale(1,1.05)" font-size="10.2" text-anchor="start" fill="#fff" >20μm</text>
<line x1="649.70" y1="119.20" x2="675.90" y2="119.20" stroke="#fff" stroke-width="1.6" />
<text transform="translate(552.20,79.80) scale(1,1.05)" font-size="11.5" text-anchor="start" fill="#231f20" >16-5</text>
<text x="572.4" y="135.6" font-size="11.6" fill="#1f9e48">IF: α-mouse IgG<tspan fill="#231f20">/</tspan><tspan fill="#1f7ad0">DAPI</tspan></text>
<rect x="580.10" y="153.30" width="99.60" height="99.00" fill="#020308" stroke="none" stroke-width="1" />
<clipPath id="cc2"><rect x="580.1" y="153.3" width="99.6" height="99.1"/></clipPath><g clip-path="url(#cc2)">
<circle cx="604.7" cy="188.5" r="0.74" fill="#2fc02f" fill-opacity="0.39"/>
<circle cx="601.4" cy="184.9" r="0.38" fill="#2fc02f" fill-opacity="0.60"/>
<circle cx="611.1" cy="187.2" r="0.39" fill="#2fc02f" fill-opacity="0.40"/>
<circle cx="597.8" cy="190.2" r="0.42" fill="#2fc02f" fill-opacity="0.46"/>
<circle cx="597.6" cy="177.4" r="0.70" fill="#2fc02f" fill-opacity="0.55"/>
<circle cx="607.5" cy="185.8" r="0.87" fill="#2fc02f" fill-opacity="0.49"/>
<circle cx="607.5" cy="188.0" r="0.54" fill="#2fc02f" fill-opacity="0.76"/>
<circle cx="608.8" cy="191.9" r="0.73" fill="#2fc02f" fill-opacity="0.54"/>
<circle cx="604.3" cy="185.5" r="0.39" fill="#2fc02f" fill-opacity="0.45"/>
<circle cx="603.8" cy="181.3" r="0.54" fill="#2fc02f" fill-opacity="0.64"/>
<circle cx="602.0" cy="187.2" r="0.83" fill="#2fc02f" fill-opacity="0.70"/>
<circle cx="606.2" cy="192.5" r="0.67" fill="#2fc02f" fill-opacity="0.79"/>
<circle cx="605.5" cy="182.0" r="0.94" fill="#2fc02f" fill-opacity="0.41"/>
<circle cx="598.7" cy="190.1" r="0.44" fill="#2fc02f" fill-opacity="0.59"/>
<circle cx="613.1" cy="187.8" r="0.81" fill="#2fc02f" fill-opacity="0.64"/>
<circle cx="609.0" cy="183.0" r="0.77" fill="#2fc02f" fill-opacity="0.65"/>
<circle cx="601.2" cy="183.4" r="0.85" fill="#2fc02f" fill-opacity="0.82"/>
<circle cx="598.8" cy="187.2" r="0.39" fill="#2fc02f" fill-opacity="0.70"/>
<circle cx="596.6" cy="173.5" r="0.84" fill="#2fc02f" fill-opacity="0.49"/>
<circle cx="600.5" cy="190.8" r="0.36" fill="#2fc02f" fill-opacity="0.58"/>
<circle cx="607.2" cy="188.2" r="0.39" fill="#2fc02f" fill-opacity="0.73"/>
<circle cx="608.6" cy="188.7" r="0.58" fill="#2fc02f" fill-opacity="0.79"/>
<circle cx="610.7" cy="188.6" r="0.68" fill="#2fc02f" fill-opacity="0.79"/>
<circle cx="610.2" cy="177.0" r="0.52" fill="#2fc02f" fill-opacity="0.56"/>
<circle cx="599.5" cy="194.0" r="0.92" fill="#2fc02f" fill-opacity="0.43"/>
<circle cx="607.6" cy="189.2" r="0.49" fill="#2fc02f" fill-opacity="0.59"/>
<circle cx="602.7" cy="183.9" r="0.35" fill="#2fc02f" fill-opacity="0.56"/>
<circle cx="601.6" cy="190.7" r="0.92" fill="#2fc02f" fill-opacity="0.70"/>
<circle cx="625.9" cy="202.4" r="0.76" fill="#2fc02f" fill-opacity="0.38"/>
<circle cx="638.2" cy="198.5" r="0.87" fill="#2fc02f" fill-opacity="0.75"/>
<circle cx="628.5" cy="205.8" r="0.41" fill="#2fc02f" fill-opacity="0.67"/>
<circle cx="633.5" cy="203.6" r="0.48" fill="#2fc02f" fill-opacity="0.43"/>
<circle cx="631.2" cy="204.2" r="0.35" fill="#2fc02f" fill-opacity="0.43"/>
<circle cx="635.4" cy="205.5" r="0.37" fill="#2fc02f" fill-opacity="0.79"/>
<circle cx="630.1" cy="201.4" r="0.50" fill="#2fc02f" fill-opacity="0.52"/>
<circle cx="630.5" cy="204.7" r="0.86" fill="#2fc02f" fill-opacity="0.85"/>
<circle cx="627.1" cy="204.1" r="0.40" fill="#2fc02f" fill-opacity="0.40"/>
<circle cx="630.1" cy="205.9" r="0.85" fill="#2fc02f" fill-opacity="0.43"/>
<circle cx="642.7" cy="204.6" r="0.67" fill="#2fc02f" fill-opacity="0.42"/>
<circle cx="631.0" cy="202.7" r="0.67" fill="#2fc02f" fill-opacity="0.84"/>
<circle cx="636.4" cy="197.9" r="0.51" fill="#2fc02f" fill-opacity="0.53"/>
<circle cx="635.8" cy="209.6" r="0.67" fill="#2fc02f" fill-opacity="0.74"/>
<circle cx="630.5" cy="205.7" r="0.84" fill="#2fc02f" fill-opacity="0.84"/>
<circle cx="636.8" cy="196.6" r="0.84" fill="#2fc02f" fill-opacity="0.72"/>
<circle cx="632.8" cy="208.3" r="0.56" fill="#2fc02f" fill-opacity="0.36"/>
<circle cx="635.5" cy="203.6" r="0.51" fill="#2fc02f" fill-opacity="0.70"/>
<circle cx="636.6" cy="201.7" r="0.91" fill="#2fc02f" fill-opacity="0.84"/>
<circle cx="636.0" cy="201.8" r="0.48" fill="#2fc02f" fill-opacity="0.46"/>
<circle cx="633.0" cy="205.8" r="0.72" fill="#2fc02f" fill-opacity="0.80"/>
<circle cx="634.7" cy="198.8" r="0.74" fill="#2fc02f" fill-opacity="0.75"/>
<circle cx="637.6" cy="206.3" r="0.90" fill="#2fc02f" fill-opacity="0.74"/>
<circle cx="632.0" cy="198.0" r="0.46" fill="#2fc02f" fill-opacity="0.74"/>
<circle cx="628.1" cy="209.9" r="0.93" fill="#2fc02f" fill-opacity="0.55"/>
<circle cx="623.3" cy="209.2" r="0.78" fill="#2fc02f" fill-opacity="0.44"/>
<circle cx="633.8" cy="204.8" r="0.89" fill="#2fc02f" fill-opacity="0.75"/>
<circle cx="637.0" cy="209.5" r="0.94" fill="#2fc02f" fill-opacity="0.68"/>
<circle cx="645.5" cy="168.4" r="0.43" fill="#2fc02f" fill-opacity="0.36"/>
<circle cx="652.7" cy="164.1" r="0.67" fill="#2fc02f" fill-opacity="0.82"/>
<circle cx="641.9" cy="167.7" r="0.85" fill="#2fc02f" fill-opacity="0.46"/>
<circle cx="648.0" cy="167.7" r="0.49" fill="#2fc02f" fill-opacity="0.64"/>
<circle cx="647.8" cy="168.4" r="0.43" fill="#2fc02f" fill-opacity="0.81"/>
<circle cx="645.8" cy="167.9" r="0.70" fill="#2fc02f" fill-opacity="0.80"/>
<circle cx="641.5" cy="168.5" r="0.65" fill="#2fc02f" fill-opacity="0.62"/>
<circle cx="647.4" cy="164.9" r="0.61" fill="#2fc02f" fill-opacity="0.44"/>
<circle cx="653.9" cy="165.1" r="0.45" fill="#2fc02f" fill-opacity="0.59"/>
<circle cx="647.3" cy="160.8" r="0.55" fill="#2fc02f" fill-opacity="0.61"/>
<circle cx="642.6" cy="163.0" r="0.41" fill="#2fc02f" fill-opacity="0.63"/>
<circle cx="648.0" cy="167.7" r="0.81" fill="#2fc02f" fill-opacity="0.60"/>
<circle cx="642.8" cy="162.9" r="0.90" fill="#2fc02f" fill-opacity="0.57"/>
<circle cx="645.0" cy="162.5" r="0.66" fill="#2fc02f" fill-opacity="0.70"/>
<circle cx="644.1" cy="166.2" r="0.64" fill="#2fc02f" fill-opacity="0.82"/>
<circle cx="645.9" cy="158.6" r="0.92" fill="#2fc02f" fill-opacity="0.48"/>
<circle cx="640.6" cy="162.1" r="0.85" fill="#2fc02f" fill-opacity="0.42"/>
<circle cx="650.6" cy="167.5" r="0.39" fill="#2fc02f" fill-opacity="0.47"/>
<circle cx="652.4" cy="167.2" r="0.82" fill="#2fc02f" fill-opacity="0.80"/>
<circle cx="651.0" cy="169.3" r="0.75" fill="#2fc02f" fill-opacity="0.42"/>
<circle cx="654.4" cy="159.2" r="0.48" fill="#2fc02f" fill-opacity="0.83"/>
<circle cx="644.9" cy="167.3" r="0.94" fill="#2fc02f" fill-opacity="0.77"/>
<circle cx="596.2" cy="223.5" r="0.66" fill="#2fc02f" fill-opacity="0.52"/>
<circle cx="595.1" cy="223.2" r="0.78" fill="#2fc02f" fill-opacity="0.36"/>
<circle cx="590.1" cy="218.6" r="0.36" fill="#2fc02f" fill-opacity="0.52"/>
<circle cx="590.7" cy="216.8" r="0.39" fill="#2fc02f" fill-opacity="0.84"/>
<circle cx="596.5" cy="210.0" r="0.41" fill="#2fc02f" fill-opacity="0.48"/>
<circle cx="600.5" cy="221.6" r="0.51" fill="#2fc02f" fill-opacity="0.41"/>
<circle cx="586.5" cy="224.0" r="0.84" fill="#2fc02f" fill-opacity="0.48"/>
<circle cx="599.1" cy="227.0" r="0.69" fill="#2fc02f" fill-opacity="0.70"/>
<circle cx="595.1" cy="220.7" r="0.76" fill="#2fc02f" fill-opacity="0.56"/>
<circle cx="602.2" cy="224.0" r="0.73" fill="#2fc02f" fill-opacity="0.75"/>
<circle cx="600.6" cy="223.8" r="0.39" fill="#2fc02f" fill-opacity="0.78"/>
<circle cx="590.6" cy="221.0" r="0.68" fill="#2fc02f" fill-opacity="0.81"/>
<circle cx="593.8" cy="222.0" r="0.67" fill="#2fc02f" fill-opacity="0.47"/>
<circle cx="595.8" cy="221.5" r="0.38" fill="#2fc02f" fill-opacity="0.45"/>
<circle cx="592.8" cy="223.0" r="0.81" fill="#2fc02f" fill-opacity="0.49"/>
<circle cx="591.6" cy="220.0" r="0.56" fill="#2fc02f" fill-opacity="0.36"/>
<circle cx="594.0" cy="220.7" r="0.79" fill="#2fc02f" fill-opacity="0.63"/>
<circle cx="595.6" cy="224.1" r="0.91" fill="#2fc02f" fill-opacity="0.40"/>
<circle cx="595.7" cy="216.3" r="0.65" fill="#2fc02f" fill-opacity="0.77"/>
<circle cx="590.4" cy="222.8" r="0.76" fill="#2fc02f" fill-opacity="0.84"/>
<circle cx="590.0" cy="226.1" r="0.77" fill="#2fc02f" fill-opacity="0.67"/>
<circle cx="591.1" cy="222.0" r="0.38" fill="#2fc02f" fill-opacity="0.41"/>
<circle cx="599.7" cy="222.7" r="0.50" fill="#2fc02f" fill-opacity="0.43"/>
<circle cx="600.4" cy="223.7" r="0.87" fill="#2fc02f" fill-opacity="0.69"/>
<circle cx="593.4" cy="222.8" r="0.53" fill="#2fc02f" fill-opacity="0.58"/>
<circle cx="617.3" cy="233.5" r="0.51" fill="#2fc02f" fill-opacity="0.83"/>
<circle cx="619.8" cy="229.2" r="0.50" fill="#2fc02f" fill-opacity="0.83"/>
<circle cx="613.7" cy="233.4" r="0.35" fill="#2fc02f" fill-opacity="0.54"/>
<circle cx="610.5" cy="230.7" r="0.47" fill="#2fc02f" fill-opacity="0.60"/>
<circle cx="618.0" cy="230.1" r="0.40" fill="#2fc02f" fill-opacity="0.55"/>
<circle cx="615.8" cy="230.2" r="0.53" fill="#2fc02f" fill-opacity="0.47"/>
<circle cx="610.9" cy="227.6" r="0.80" fill="#2fc02f" fill-opacity="0.68"/>
<circle cx="613.3" cy="222.3" r="0.58" fill="#2fc02f" fill-opacity="0.51"/>
<circle cx="617.2" cy="229.8" r="0.78" fill="#2fc02f" fill-opacity="0.67"/>
<circle cx="622.0" cy="232.0" r="0.89" fill="#2fc02f" fill-opacity="0.66"/>
<circle cx="614.3" cy="223.0" r="0.43" fill="#2fc02f" fill-opacity="0.61"/>
<circle cx="607.7" cy="229.8" r="0.83" fill="#2fc02f" fill-opacity="0.76"/>
<circle cx="608.0" cy="225.9" r="0.76" fill="#2fc02f" fill-opacity="0.70"/>
<circle cx="615.1" cy="231.0" r="0.43" fill="#2fc02f" fill-opacity="0.53"/>
<circle cx="620.8" cy="234.5" r="0.69" fill="#2fc02f" fill-opacity="0.66"/>
<circle cx="610.9" cy="225.9" r="0.64" fill="#2fc02f" fill-opacity="0.35"/>
<circle cx="616.9" cy="223.9" r="0.65" fill="#2fc02f" fill-opacity="0.62"/>
<circle cx="614.2" cy="228.8" r="0.79" fill="#2fc02f" fill-opacity="0.48"/>
<circle cx="617.7" cy="231.4" r="0.79" fill="#2fc02f" fill-opacity="0.45"/>
<circle cx="614.3" cy="219.5" r="0.65" fill="#2fc02f" fill-opacity="0.54"/>
<circle cx="609.2" cy="230.8" r="0.81" fill="#2fc02f" fill-opacity="0.66"/>
<circle cx="614.0" cy="228.8" r="0.44" fill="#2fc02f" fill-opacity="0.48"/>
<circle cx="665.9" cy="193.2" r="0.69" fill="#2fc02f" fill-opacity="0.36"/>
<circle cx="668.4" cy="197.0" r="0.75" fill="#2fc02f" fill-opacity="0.70"/>
<circle cx="664.8" cy="193.6" r="0.66" fill="#2fc02f" fill-opacity="0.58"/>
<circle cx="664.4" cy="196.3" r="0.89" fill="#2fc02f" fill-opacity="0.45"/>
<circle cx="673.7" cy="194.9" r="0.36" fill="#2fc02f" fill-opacity="0.58"/>
<circle cx="669.7" cy="188.2" r="0.62" fill="#2fc02f" fill-opacity="0.48"/>
<circle cx="668.0" cy="203.7" r="0.48" fill="#2fc02f" fill-opacity="0.64"/>
<circle cx="668.5" cy="199.1" r="0.92" fill="#2fc02f" fill-opacity="0.42"/>
<circle cx="667.7" cy="192.4" r="0.88" fill="#2fc02f" fill-opacity="0.70"/>
<circle cx="666.8" cy="203.0" r="0.64" fill="#2fc02f" fill-opacity="0.36"/>
<circle cx="669.8" cy="196.1" r="0.62" fill="#2fc02f" fill-opacity="0.50"/>
<circle cx="667.9" cy="198.3" r="0.54" fill="#2fc02f" fill-opacity="0.77"/>
<circle cx="671.5" cy="196.1" r="0.85" fill="#2fc02f" fill-opacity="0.41"/>
<circle cx="670.7" cy="193.7" r="0.89" fill="#2fc02f" fill-opacity="0.49"/>
<circle cx="663.7" cy="198.4" r="0.95" fill="#2fc02f" fill-opacity="0.64"/>
<circle cx="663.8" cy="198.7" r="0.52" fill="#2fc02f" fill-opacity="0.37"/>
<circle cx="671.0" cy="199.7" r="0.52" fill="#2fc02f" fill-opacity="0.82"/>
<circle cx="666.0" cy="198.6" r="0.66" fill="#2fc02f" fill-opacity="0.44"/>
<circle cx="660.2" cy="201.9" r="0.88" fill="#2fc02f" fill-opacity="0.76"/>
<circle cx="661.0" cy="190.7" r="0.91" fill="#2fc02f" fill-opacity="0.62"/>
<circle cx="665.8" cy="195.0" r="0.79" fill="#2fc02f" fill-opacity="0.58"/>
<circle cx="666.1" cy="191.3" r="0.52" fill="#2fc02f" fill-opacity="0.37"/>
<circle cx="653.5" cy="209.2" r="0.63" fill="#2fc02f" fill-opacity="0.52"/>
<circle cx="650.4" cy="215.2" r="0.94" fill="#2fc02f" fill-opacity="0.48"/>
<circle cx="650.4" cy="207.7" r="0.68" fill="#2fc02f" fill-opacity="0.55"/>
<circle cx="653.0" cy="211.7" r="0.47" fill="#2fc02f" fill-opacity="0.80"/>
<circle cx="649.7" cy="210.0" r="0.89" fill="#2fc02f" fill-opacity="0.85"/>
<circle cx="650.3" cy="210.6" r="0.47" fill="#2fc02f" fill-opacity="0.40"/>
<circle cx="651.2" cy="211.2" r="0.49" fill="#2fc02f" fill-opacity="0.48"/>
<circle cx="645.8" cy="207.1" r="0.80" fill="#2fc02f" fill-opacity="0.56"/>
<circle cx="648.6" cy="212.1" r="0.58" fill="#2fc02f" fill-opacity="0.52"/>
<circle cx="654.5" cy="211.0" r="0.93" fill="#2fc02f" fill-opacity="0.41"/>
<circle cx="647.3" cy="209.9" r="0.87" fill="#2fc02f" fill-opacity="0.46"/>
<circle cx="651.7" cy="212.5" r="0.59" fill="#2fc02f" fill-opacity="0.57"/>
<circle cx="658.1" cy="208.2" r="0.87" fill="#2fc02f" fill-opacity="0.36"/>
<circle cx="657.1" cy="211.0" r="0.89" fill="#2fc02f" fill-opacity="0.59"/>
<circle cx="651.9" cy="210.0" r="0.58" fill="#2fc02f" fill-opacity="0.81"/>
<circle cx="655.0" cy="204.2" r="0.93" fill="#2fc02f" fill-opacity="0.47"/>
<circle cx="653.5" cy="211.2" r="0.66" fill="#2fc02f" fill-opacity="0.69"/>
<circle cx="656.9" cy="208.1" r="0.74" fill="#2fc02f" fill-opacity="0.73"/>
<circle cx="648.0" cy="211.1" r="0.37" fill="#2fc02f" fill-opacity="0.74"/>
<circle cx="652.8" cy="217.4" r="0.74" fill="#2fc02f" fill-opacity="0.50"/>
<circle cx="653.7" cy="211.8" r="0.73" fill="#2fc02f" fill-opacity="0.70"/>
<circle cx="653.0" cy="210.8" r="0.66" fill="#2fc02f" fill-opacity="0.64"/>
<circle cx="618.5" cy="169.3" r="0.71" fill="#2fc02f" fill-opacity="0.36"/>
<circle cx="619.0" cy="170.9" r="0.93" fill="#2fc02f" fill-opacity="0.67"/>
<circle cx="622.3" cy="165.9" r="0.49" fill="#2fc02f" fill-opacity="0.47"/>
<circle cx="624.2" cy="166.9" r="0.53" fill="#2fc02f" fill-opacity="0.36"/>
<circle cx="615.9" cy="168.0" r="0.60" fill="#2fc02f" fill-opacity="0.48"/>
<circle cx="616.9" cy="162.6" r="0.49" fill="#2fc02f" fill-opacity="0.37"/>
<circle cx="618.5" cy="170.4" r="0.76" fill="#2fc02f" fill-opacity="0.45"/>
<circle cx="621.3" cy="163.7" r="0.65" fill="#2fc02f" fill-opacity="0.45"/>
<circle cx="622.3" cy="167.6" r="0.84" fill="#2fc02f" fill-opacity="0.47"/>
<circle cx="620.8" cy="172.6" r="0.53" fill="#2fc02f" fill-opacity="0.83"/>
<circle cx="618.2" cy="168.0" r="0.48" fill="#2fc02f" fill-opacity="0.56"/>
<circle cx="616.6" cy="162.2" r="0.44" fill="#2fc02f" fill-opacity="0.55"/>
<circle cx="621.7" cy="175.2" r="0.44" fill="#2fc02f" fill-opacity="0.38"/>
<circle cx="622.6" cy="169.0" r="0.89" fill="#2fc02f" fill-opacity="0.79"/>
<circle cx="619.0" cy="158.5" r="0.91" fill="#2fc02f" fill-opacity="0.51"/>
<circle cx="622.5" cy="173.9" r="0.80" fill="#2fc02f" fill-opacity="0.37"/>
<circle cx="618.6" cy="165.7" r="0.57" fill="#2fc02f" fill-opacity="0.52"/>
<circle cx="620.1" cy="168.2" r="0.52" fill="#2fc02f" fill-opacity="0.53"/>
<circle cx="621.4" cy="167.6" r="0.93" fill="#2fc02f" fill-opacity="0.45"/>
<circle cx="584.8" cy="209.0" r="0.84" fill="#2fc02f" fill-opacity="0.57"/>
<circle cx="591.0" cy="205.9" r="0.57" fill="#2fc02f" fill-opacity="0.81"/>
<circle cx="588.9" cy="207.5" r="0.89" fill="#2fc02f" fill-opacity="0.37"/>
<circle cx="583.7" cy="207.7" r="0.81" fill="#2fc02f" fill-opacity="0.37"/>
<circle cx="589.0" cy="205.2" r="0.90" fill="#2fc02f" fill-opacity="0.48"/>
<circle cx="587.9" cy="199.1" r="0.55" fill="#2fc02f" fill-opacity="0.49"/>
<circle cx="591.7" cy="204.0" r="0.51" fill="#2fc02f" fill-opacity="0.71"/>
<circle cx="587.1" cy="207.0" r="0.35" fill="#2fc02f" fill-opacity="0.73"/>
<circle cx="591.4" cy="203.0" r="0.92" fill="#2fc02f" fill-opacity="0.36"/>
<circle cx="588.3" cy="208.1" r="0.92" fill="#2fc02f" fill-opacity="0.83"/>
<circle cx="586.4" cy="206.4" r="0.61" fill="#2fc02f" fill-opacity="0.60"/>
<circle cx="589.6" cy="204.2" r="0.83" fill="#2fc02f" fill-opacity="0.72"/>
<circle cx="590.1" cy="200.8" r="0.71" fill="#2fc02f" fill-opacity="0.51"/>
<circle cx="586.9" cy="207.4" r="0.82" fill="#2fc02f" fill-opacity="0.39"/>
<circle cx="589.5" cy="209.3" r="0.50" fill="#2fc02f" fill-opacity="0.38"/>
<circle cx="591.4" cy="205.7" r="0.55" fill="#2fc02f" fill-opacity="0.84"/>
<circle cx="594.1" cy="199.5" r="0.51" fill="#2fc02f" fill-opacity="0.39"/>
<circle cx="590.7" cy="206.8" r="0.78" fill="#2fc02f" fill-opacity="0.57"/>
<circle cx="588.3" cy="207.8" r="0.72" fill="#2fc02f" fill-opacity="0.69"/>
<circle cx="639.9" cy="233.6" r="0.75" fill="#2fc02f" fill-opacity="0.41"/>
<circle cx="641.5" cy="237.7" r="0.69" fill="#2fc02f" fill-opacity="0.54"/>
<circle cx="639.8" cy="237.8" r="0.50" fill="#2fc02f" fill-opacity="0.47"/>
<circle cx="643.9" cy="245.6" r="0.70" fill="#2fc02f" fill-opacity="0.51"/>
<circle cx="631.8" cy="246.3" r="0.65" fill="#2fc02f" fill-opacity="0.47"/>
<circle cx="641.7" cy="235.5" r="0.94" fill="#2fc02f" fill-opacity="0.40"/>
<circle cx="634.0" cy="241.0" r="0.85" fill="#2fc02f" fill-opacity="0.81"/>
<circle cx="642.7" cy="240.7" r="0.42" fill="#2fc02f" fill-opacity="0.44"/>
<circle cx="644.3" cy="239.3" r="0.91" fill="#2fc02f" fill-opacity="0.54"/>
<circle cx="642.4" cy="237.3" r="0.51" fill="#2fc02f" fill-opacity="0.74"/>
<circle cx="641.5" cy="239.5" r="0.71" fill="#2fc02f" fill-opacity="0.66"/>
<circle cx="640.6" cy="243.1" r="0.43" fill="#2fc02f" fill-opacity="0.45"/>
<circle cx="639.9" cy="244.5" r="0.74" fill="#2fc02f" fill-opacity="0.45"/>
<circle cx="642.9" cy="240.2" r="0.76" fill="#2fc02f" fill-opacity="0.44"/>
<circle cx="639.2" cy="242.1" r="0.83" fill="#2fc02f" fill-opacity="0.62"/>
<circle cx="641.4" cy="240.6" r="0.59" fill="#2fc02f" fill-opacity="0.63"/>
<circle cx="669.2" cy="224.1" r="0.45" fill="#2fc02f" fill-opacity="0.70"/>
<circle cx="668.1" cy="226.2" r="0.53" fill="#2fc02f" fill-opacity="0.83"/>
<circle cx="668.6" cy="228.3" r="0.56" fill="#2fc02f" fill-opacity="0.56"/>
<circle cx="676.1" cy="218.0" r="0.57" fill="#2fc02f" fill-opacity="0.45"/>
<circle cx="669.7" cy="223.2" r="0.35" fill="#2fc02f" fill-opacity="0.80"/>
<circle cx="665.5" cy="227.3" r="0.59" fill="#2fc02f" fill-opacity="0.79"/>
<circle cx="668.4" cy="225.4" r="0.36" fill="#2fc02f" fill-opacity="0.63"/>
<circle cx="666.2" cy="220.3" r="0.40" fill="#2fc02f" fill-opacity="0.66"/>
<circle cx="667.8" cy="227.4" r="0.44" fill="#2fc02f" fill-opacity="0.49"/>
<circle cx="663.8" cy="224.2" r="0.42" fill="#2fc02f" fill-opacity="0.60"/>
<circle cx="672.4" cy="218.2" r="0.47" fill="#2fc02f" fill-opacity="0.41"/>
<circle cx="677.0" cy="222.4" r="0.64" fill="#2fc02f" fill-opacity="0.38"/>
<circle cx="672.4" cy="223.8" r="0.89" fill="#2fc02f" fill-opacity="0.66"/>
<circle cx="670.7" cy="223.5" r="0.82" fill="#2fc02f" fill-opacity="0.46"/>
<circle cx="665.6" cy="228.0" r="0.85" fill="#2fc02f" fill-opacity="0.44"/>
<circle cx="670.6" cy="227.7" r="0.66" fill="#2fc02f" fill-opacity="0.54"/>
<circle cx="601.8" cy="246.7" r="0.78" fill="#2fc02f" fill-opacity="0.80"/>
<circle cx="604.1" cy="246.1" r="0.80" fill="#2fc02f" fill-opacity="0.37"/>
<circle cx="600.9" cy="243.6" r="0.71" fill="#2fc02f" fill-opacity="0.63"/>
<circle cx="598.0" cy="243.0" r="0.60" fill="#2fc02f" fill-opacity="0.64"/>
<circle cx="595.7" cy="247.2" r="0.62" fill="#2fc02f" fill-opacity="0.57"/>
<circle cx="604.5" cy="245.7" r="0.64" fill="#2fc02f" fill-opacity="0.47"/>
<circle cx="600.5" cy="239.3" r="0.62" fill="#2fc02f" fill-opacity="0.44"/>
<circle cx="598.5" cy="245.3" r="0.43" fill="#2fc02f" fill-opacity="0.57"/>
<circle cx="603.0" cy="246.9" r="0.66" fill="#2fc02f" fill-opacity="0.37"/>
<circle cx="599.1" cy="244.0" r="0.79" fill="#2fc02f" fill-opacity="0.74"/>
<circle cx="598.9" cy="244.9" r="0.65" fill="#2fc02f" fill-opacity="0.54"/>
<circle cx="601.7" cy="244.5" r="0.86" fill="#2fc02f" fill-opacity="0.85"/>
<circle cx="599.3" cy="239.0" r="0.47" fill="#2fc02f" fill-opacity="0.84"/>
<circle cx="591.7" cy="245.4" r="0.90" fill="#2fc02f" fill-opacity="0.43"/>
<circle cx="601.8" cy="237.6" r="0.39" fill="#2fc02f" fill-opacity="0.53"/>
<circle cx="600.1" cy="243.1" r="0.89" fill="#2fc02f" fill-opacity="0.49"/>
<circle cx="660.6" cy="170.6" r="0.65" fill="#2fc02f" fill-opacity="0.81"/>
<circle cx="660.6" cy="174.1" r="0.65" fill="#2fc02f" fill-opacity="0.51"/>
<circle cx="661.7" cy="172.4" r="0.45" fill="#2fc02f" fill-opacity="0.82"/>
<circle cx="657.5" cy="166.7" r="0.45" fill="#2fc02f" fill-opacity="0.74"/>
<circle cx="662.5" cy="174.2" r="0.73" fill="#2fc02f" fill-opacity="0.53"/>
<circle cx="662.4" cy="169.5" r="0.70" fill="#2fc02f" fill-opacity="0.79"/>
<circle cx="666.9" cy="177.3" r="0.73" fill="#2fc02f" fill-opacity="0.55"/>
<circle cx="660.6" cy="169.9" r="0.94" fill="#2fc02f" fill-opacity="0.64"/>
<circle cx="657.0" cy="175.6" r="0.62" fill="#2fc02f" fill-opacity="0.44"/>
<circle cx="660.0" cy="171.1" r="0.84" fill="#2fc02f" fill-opacity="0.48"/>
<circle cx="654.9" cy="165.9" r="0.70" fill="#2fc02f" fill-opacity="0.68"/>
<circle cx="659.9" cy="172.2" r="0.37" fill="#2fc02f" fill-opacity="0.42"/>
<circle cx="657.8" cy="170.1" r="0.66" fill="#2fc02f" fill-opacity="0.80"/>
<circle cx="661.3" cy="173.5" r="0.74" fill="#2fc02f" fill-opacity="0.36"/>
<circle cx="662.6" cy="172.0" r="0.41" fill="#2fc02f" fill-opacity="0.53"/>
<circle cx="660.6" cy="175.6" r="0.70" fill="#2fc02f" fill-opacity="0.45"/>
<circle cx="642.4" cy="200.5" r="0.35" fill="#2fb52f" fill-opacity="0.62"/>
<circle cx="604.4" cy="167.9" r="0.34" fill="#2fb52f" fill-opacity="0.51"/>
<circle cx="667.1" cy="231.2" r="0.46" fill="#2fb52f" fill-opacity="0.36"/>
<circle cx="581.1" cy="217.5" r="0.52" fill="#2fb52f" fill-opacity="0.39"/>
<circle cx="644.6" cy="197.4" r="0.67" fill="#2fb52f" fill-opacity="0.54"/>
<circle cx="604.8" cy="243.4" r="0.32" fill="#2fb52f" fill-opacity="0.46"/>
<circle cx="620.6" cy="176.8" r="0.32" fill="#2fb52f" fill-opacity="0.56"/>
<circle cx="581.2" cy="208.1" r="0.68" fill="#2fb52f" fill-opacity="0.31"/>
<circle cx="600.0" cy="213.8" r="0.50" fill="#2fb52f" fill-opacity="0.51"/>
<circle cx="661.3" cy="170.5" r="0.42" fill="#2fb52f" fill-opacity="0.37"/>
<circle cx="584.8" cy="241.9" r="0.61" fill="#2fb52f" fill-opacity="0.54"/>
<circle cx="580.6" cy="237.4" r="0.60" fill="#2fb52f" fill-opacity="0.44"/>
<circle cx="654.2" cy="198.2" r="0.39" fill="#2fb52f" fill-opacity="0.29"/>
<circle cx="603.2" cy="156.9" r="0.43" fill="#2fb52f" fill-opacity="0.55"/>
<circle cx="649.5" cy="237.5" r="0.58" fill="#2fb52f" fill-opacity="0.36"/>
<circle cx="635.4" cy="196.6" r="0.62" fill="#2fb52f" fill-opacity="0.46"/>
<circle cx="606.5" cy="217.2" r="0.69" fill="#2fb52f" fill-opacity="0.34"/>
<circle cx="668.0" cy="154.5" r="0.40" fill="#2fb52f" fill-opacity="0.34"/>
<circle cx="654.4" cy="247.5" r="0.60" fill="#2fb52f" fill-opacity="0.38"/>
<circle cx="668.0" cy="185.9" r="0.40" fill="#2fb52f" fill-opacity="0.61"/>
<circle cx="643.1" cy="222.3" r="0.57" fill="#2fb52f" fill-opacity="0.64"/>
<circle cx="626.9" cy="237.0" r="0.58" fill="#2fb52f" fill-opacity="0.59"/>
<circle cx="623.7" cy="225.5" r="0.53" fill="#2fb52f" fill-opacity="0.37"/>
<circle cx="601.2" cy="215.3" r="0.33" fill="#2fb52f" fill-opacity="0.61"/>
<circle cx="594.5" cy="155.7" r="0.34" fill="#2fb52f" fill-opacity="0.62"/>
<circle cx="614.5" cy="167.2" r="0.31" fill="#2fb52f" fill-opacity="0.27"/>
<circle cx="649.3" cy="216.4" r="0.58" fill="#2fb52f" fill-opacity="0.54"/>
<circle cx="586.6" cy="212.0" r="0.45" fill="#2fb52f" fill-opacity="0.58"/>
<circle cx="662.0" cy="242.1" r="0.33" fill="#2fb52f" fill-opacity="0.60"/>
<circle cx="671.4" cy="247.4" r="0.34" fill="#2fb52f" fill-opacity="0.33"/>
<circle cx="591.2" cy="156.4" r="0.64" fill="#2fb52f" fill-opacity="0.57"/>
<circle cx="643.4" cy="235.5" r="0.55" fill="#2fb52f" fill-opacity="0.36"/>
<circle cx="590.0" cy="162.8" r="0.60" fill="#2fb52f" fill-opacity="0.33"/>
<circle cx="611.9" cy="195.4" r="0.31" fill="#2fb52f" fill-opacity="0.35"/>
<circle cx="608.3" cy="224.6" r="0.45" fill="#2fb52f" fill-opacity="0.38"/>
<circle cx="676.4" cy="203.4" r="0.64" fill="#2fb52f" fill-opacity="0.50"/>
<circle cx="583.1" cy="194.3" r="0.47" fill="#2fb52f" fill-opacity="0.56"/>
<circle cx="614.7" cy="223.5" r="0.52" fill="#2fb52f" fill-opacity="0.34"/>
<circle cx="666.2" cy="162.1" r="0.63" fill="#2fb52f" fill-opacity="0.32"/>
<circle cx="580.1" cy="173.2" r="0.60" fill="#2fb52f" fill-opacity="0.64"/>
<circle cx="580.4" cy="202.1" r="0.50" fill="#2fb52f" fill-opacity="0.57"/>
<circle cx="598.5" cy="202.5" r="0.44" fill="#2fb52f" fill-opacity="0.58"/>
<circle cx="606.1" cy="247.4" r="0.41" fill="#2fb52f" fill-opacity="0.34"/>
<circle cx="649.9" cy="202.8" r="0.34" fill="#2fb52f" fill-opacity="0.50"/>
<circle cx="588.1" cy="231.8" r="0.58" fill="#2fb52f" fill-opacity="0.56"/>
<circle cx="642.8" cy="188.6" r="0.46" fill="#2fb52f" fill-opacity="0.41"/>
<circle cx="669.0" cy="161.6" r="0.66" fill="#2fb52f" fill-opacity="0.26"/>
<circle cx="600.6" cy="179.3" r="0.66" fill="#2fb52f" fill-opacity="0.45"/>
<circle cx="617.9" cy="241.4" r="0.39" fill="#2fb52f" fill-opacity="0.43"/>
<circle cx="633.2" cy="228.4" r="0.60" fill="#2fb52f" fill-opacity="0.51"/>
<circle cx="614.8" cy="185.7" r="0.36" fill="#2fb52f" fill-opacity="0.59"/>
<circle cx="646.2" cy="227.2" r="0.37" fill="#2fb52f" fill-opacity="0.43"/>
<circle cx="657.3" cy="210.9" r="0.35" fill="#2fb52f" fill-opacity="0.43"/>
<circle cx="668.5" cy="176.8" r="0.38" fill="#2fb52f" fill-opacity="0.37"/>
<circle cx="650.3" cy="237.4" r="0.36" fill="#2fb52f" fill-opacity="0.31"/>
<circle cx="604.8" cy="185.7" r="0.51" fill="#2fb52f" fill-opacity="0.31"/>
<circle cx="612.8" cy="171.9" r="0.69" fill="#2fb52f" fill-opacity="0.54"/>
<circle cx="590.2" cy="249.2" r="0.34" fill="#2fb52f" fill-opacity="0.40"/>
<circle cx="678.4" cy="232.5" r="0.59" fill="#2fb52f" fill-opacity="0.42"/>
<circle cx="599.6" cy="216.8" r="0.34" fill="#2fb52f" fill-opacity="0.33"/>
<circle cx="618.8" cy="156.4" r="0.46" fill="#2fb52f" fill-opacity="0.57"/>
<circle cx="649.3" cy="203.0" r="0.55" fill="#2fb52f" fill-opacity="0.44"/>
<circle cx="594.2" cy="213.4" r="0.46" fill="#2fb52f" fill-opacity="0.55"/>
<circle cx="670.8" cy="196.0" r="0.53" fill="#2fb52f" fill-opacity="0.55"/>
<circle cx="622.1" cy="175.9" r="0.59" fill="#2fb52f" fill-opacity="0.60"/>
<circle cx="657.4" cy="223.0" r="0.64" fill="#2fb52f" fill-opacity="0.52"/>
<circle cx="644.2" cy="198.4" r="0.43" fill="#2fb52f" fill-opacity="0.50"/>
<circle cx="589.8" cy="195.0" r="0.61" fill="#2fb52f" fill-opacity="0.54"/>
<circle cx="643.0" cy="178.0" r="0.47" fill="#2fb52f" fill-opacity="0.43"/>
<circle cx="642.2" cy="193.9" r="0.57" fill="#2fb52f" fill-opacity="0.62"/>
<circle cx="598.3" cy="218.4" r="0.61" fill="#2fb52f" fill-opacity="0.41"/>
<circle cx="629.0" cy="250.5" r="0.32" fill="#2fb52f" fill-opacity="0.47"/>
<circle cx="596.1" cy="231.2" r="0.68" fill="#2fb52f" fill-opacity="0.46"/>
<circle cx="590.1" cy="210.5" r="0.52" fill="#2fb52f" fill-opacity="0.54"/>
<circle cx="631.2" cy="216.9" r="0.63" fill="#2fb52f" fill-opacity="0.46"/>
<circle cx="621.0" cy="247.8" r="0.38" fill="#2fb52f" fill-opacity="0.52"/>
<circle cx="619.2" cy="229.3" r="0.35" fill="#2fb52f" fill-opacity="0.64"/>
<circle cx="615.5" cy="158.7" r="0.41" fill="#2fb52f" fill-opacity="0.41"/>
<circle cx="581.3" cy="194.9" r="0.47" fill="#2fb52f" fill-opacity="0.53"/>
<circle cx="615.2" cy="179.5" r="0.39" fill="#2fb52f" fill-opacity="0.55"/>
<circle cx="674.0" cy="205.7" r="0.39" fill="#2fb52f" fill-opacity="0.57"/>
<circle cx="619.2" cy="174.2" r="0.35" fill="#2fb52f" fill-opacity="0.56"/>
<circle cx="661.0" cy="216.4" r="0.49" fill="#2fb52f" fill-opacity="0.47"/>
<circle cx="602.6" cy="249.4" r="0.44" fill="#2fb52f" fill-opacity="0.51"/>
<circle cx="661.9" cy="234.6" r="0.49" fill="#2fb52f" fill-opacity="0.37"/>
<circle cx="634.8" cy="165.5" r="0.63" fill="#2fb52f" fill-opacity="0.39"/>
<circle cx="665.1" cy="179.7" r="0.45" fill="#2fb52f" fill-opacity="0.35"/>
<circle cx="622.6" cy="171.6" r="0.30" fill="#2fb52f" fill-opacity="0.54"/>
<circle cx="608.1" cy="177.5" r="0.42" fill="#2fb52f" fill-opacity="0.44"/>
<circle cx="622.8" cy="216.7" r="0.56" fill="#2fb52f" fill-opacity="0.39"/>
<g transform="rotate(24.3 593.7 159.0)">
<ellipse cx="593.7" cy="159.0" rx="4.9" ry="4.0" fill="#22338f" fill-opacity="0.55" filter="url(#b5)"/>
<circle cx="595.0" cy="157.0" r="1.06" fill="#16236a" fill-opacity="0.6" filter="url(#b4)"/>
<circle cx="595.3" cy="156.7" r="0.95" fill="#16236a" fill-opacity="0.6" filter="url(#b4)"/>
<circle cx="590.8" cy="158.6" r="0.80" fill="#16236a" fill-opacity="0.6" filter="url(#b4)"/>
<circle cx="592.5" cy="159.5" r="1.19" fill="#16236a" fill-opacity="0.6" filter="url(#b4)"/>
<circle cx="592.7" cy="159.8" r="0.80" fill="#2e46b0" fill-opacity="0.6" filter="url(#b4)"/>
<circle cx="592.8" cy="161.6" r="0.72" fill="#2e46b0" fill-opacity="0.6" filter="url(#b4)"/>
<circle cx="595.7" cy="160.5" r="0.63" fill="#16236a" fill-opacity="0.6" filter="url(#b4)"/>
<circle cx="595.8" cy="159.7" r="1.14" fill="#16236a" fill-opacity="0.6" filter="url(#b4)"/>
</g>
<g transform="rotate(-29.1 608.0 160.4)">
<ellipse cx="608.0" cy="160.4" rx="4.6" ry="3.0" fill="#22338f" fill-opacity="0.55" filter="url(#b5)"/>
<circle cx="609.0" cy="160.6" r="0.65" fill="#2e46b0" fill-opacity="0.6" filter="url(#b4)"/>
<circle cx="608.2" cy="162.2" r="0.66" fill="#16236a" fill-opacity="0.6" filter="url(#b4)"/>
<circle cx="608.7" cy="161.4" r="1.03" fill="#2e46b0" fill-opacity="0.6" filter="url(#b4)"/>
<circle cx="607.1" cy="161.8" r="0.84" fill="#16236a" fill-opacity="0.6" filter="url(#b4)"/>
<circle cx="607.8" cy="162.4" r="0.74" fill="#16236a" fill-opacity="0.6" filter="url(#b4)"/>
<circle cx="605.0" cy="159.8" r="0.65" fill="#2e46b0" fill-opacity="0.6" filter="url(#b4)"/>
</g>
<g transform="rotate(-23.9 623.5 161.3)">
<ellipse cx="623.5" cy="161.3" rx="3.2" ry="4.1" fill="#22338f" fill-opacity="0.55" filter="url(#b5)"/>
<circle cx="625.6" cy="162.1" r="0.77" fill="#16236a" fill-opacity="0.6" filter="url(#b4)"/>
<circle cx="621.9" cy="160.9" r="1.19" fill="#2e46b0" fill-opacity="0.6" filter="url(#b4)"/>
<circle cx="622.9" cy="160.1" r="0.83" fill="#2e46b0" fill-opacity="0.6" filter="url(#b4)"/>
<circle cx="622.1" cy="163.1" r="0.92" fill="#16236a" fill-opacity="0.6" filter="url(#b4)"/>
<circle cx="624.0" cy="162.2" r="0.68" fill="#2e46b0" fill-opacity="0.6" filter="url(#b4)"/>
<circle cx="624.6" cy="159.7" r="1.20" fill="#16236a" fill-opacity="0.6" filter="url(#b4)"/>
</g>
<g transform="rotate(-20.8 640.8 158.5)">
<ellipse cx="640.8" cy="158.5" rx="3.5" ry="3.1" fill="#22338f" fill-opacity="0.55" filter="url(#b5)"/>
<circle cx="640.6" cy="160.1" r="1.04" fill="#2e46b0" fill-opacity="0.6" filter="url(#b4)"/>
<circle cx="643.0" cy="158.6" r="1.08" fill="#16236a" fill-opacity="0.6" filter="url(#b4)"/>
<circle cx="641.9" cy="159.1" r="0.57" fill="#16236a" fill-opacity="0.6" filter="url(#b4)"/>
<circle cx="639.2" cy="158.7" r="0.91" fill="#16236a" fill-opacity="0.6" filter="url(#b4)"/>
<circle cx="641.7" cy="157.6" r="0.79" fill="#16236a" fill-opacity="0.6" filter="url(#b4)"/>
</g>
<g transform="rotate(6.5 659.0 159.2)">
<ellipse cx="659.0" cy="159.2" rx="4.8" ry="3.9" fill="#22338f" fill-opacity="0.55" filter="url(#b5)"/>
<circle cx="659.9" cy="158.8" r="0.65" fill="#16236a" fill-opacity="0.6" filter="url(#b4)"/>
<circle cx="656.6" cy="158.6" r="1.08" fill="#2e46b0" fill-opacity="0.6" filter="url(#b4)"/>
<circle cx="658.3" cy="160.6" r="0.71" fill="#2e46b0" fill-opacity="0.6" filter="url(#b4)"/>
<circle cx="656.2" cy="159.6" r="0.98" fill="#2e46b0" fill-opacity="0.6" filter="url(#b4)"/>
<circle cx="660.7" cy="160.2" r="1.18" fill="#2e46b0" fill-opacity="0.6" filter="url(#b4)"/>
<circle cx="660.3" cy="157.2" r="0.76" fill="#2e46b0" fill-opacity="0.6" filter="url(#b4)"/>
<circle cx="658.6" cy="157.9" r="0.82" fill="#16236a" fill-opacity="0.6" filter="url(#b4)"/>
<circle cx="662.4" cy="159.4" r="0.64" fill="#16236a" fill-opacity="0.6" filter="url(#b4)"/>
</g>
<g transform="rotate(20.3 673.2 160.9)">
<ellipse cx="673.2" cy="160.9" rx="4.6" ry="3.7" fill="#22338f" fill-opacity="0.55" filter="url(#b5)"/>
<circle cx="671.9" cy="159.9" r="0.88" fill="#2e46b0" fill-opacity="0.6" filter="url(#b4)"/>
<circle cx="672.6" cy="162.3" r="0.97" fill="#2e46b0" fill-opacity="0.6" filter="url(#b4)"/>
<circle cx="673.1" cy="162.0" r="0.73" fill="#16236a" fill-opacity="0.6" filter="url(#b4)"/>
<circle cx="675.5" cy="160.2" r="0.73" fill="#16236a" fill-opacity="0.6" filter="url(#b4)"/>
<circle cx="673.6" cy="160.2" r="0.57" fill="#2e46b0" fill-opacity="0.6" filter="url(#b4)"/>
<circle cx="672.0" cy="158.9" r="0.78" fill="#2e46b0" fill-opacity="0.6" filter="url(#b4)"/>
<circle cx="674.5" cy="159.1" r="0.66" fill="#2e46b0" fill-opacity="0.6" filter="url(#b4)"/>
</g>
<g transform="rotate(-3.7 588.1 170.7)">
<ellipse cx="588.1" cy="170.7" rx="3.6" ry="3.8" fill="#22338f" fill-opacity="0.55" filter="url(#b5)"/>
<circle cx="588.6" cy="171.5" r="0.55" fill="#2e46b0" fill-opacity="0.6" filter="url(#b4)"/>
<circle cx="589.5" cy="169.9" r="0.95" fill="#16236a" fill-opacity="0.6" filter="url(#b4)"/>
<circle cx="588.3" cy="168.3" r="0.73" fill="#2e46b0" fill-opacity="0.6" filter="url(#b4)"/>
<circle cx="587.8" cy="170.9" r="0.99" fill="#2e46b0" fill-opacity="0.6" filter="url(#b4)"/>
<circle cx="590.3" cy="170.5" r="0.93" fill="#16236a" fill-opacity="0.6" filter="url(#b4)"/>
<circle cx="589.5" cy="170.9" r="0.96" fill="#2e46b0" fill-opacity="0.6" filter="url(#b4)"/>
</g>
<g transform="rotate(-21.6 599.3 171.2)">
<ellipse cx="599.3" cy="171.2" rx="4.8" ry="3.6" fill="#22338f" fill-opacity="0.55" filter="url(#b5)"/>
<circle cx="600.9" cy="172.2" r="1.05" fill="#16236a" fill-opacity="0.6" filter="url(#b4)"/>
<circle cx="600.5" cy="169.5" r="1.04" fill="#2e46b0" fill-opacity="0.6" filter="url(#b4)"/>
<circle cx="601.3" cy="170.1" r="0.85" fill="#2e46b0" fill-opacity="0.6" filter="url(#b4)"/>
<circle cx="601.1" cy="172.8" r="0.86" fill="#16236a" fill-opacity="0.6" filter="url(#b4)"/>
<circle cx="598.6" cy="169.0" r="1.16" fill="#2e46b0" fill-opacity="0.6" filter="url(#b4)"/>
<circle cx="598.3" cy="170.4" r="0.67" fill="#2e46b0" fill-opacity="0.6" filter="url(#b4)"/>
<circle cx="596.8" cy="170.2" r="1.15" fill="#2e46b0" fill-opacity="0.6" filter="url(#b4)"/>
</g>
<g transform="rotate(-0.5 615.9 168.9)">
<ellipse cx="615.9" cy="168.9" rx="4.1" ry="2.9" fill="#22338f" fill-opacity="0.55" filter="url(#b5)"/>
<circle cx="614.6" cy="170.0" r="1.18" fill="#2e46b0" fill-opacity="0.6" filter="url(#b4)"/>
<circle cx="617.7" cy="170.4" r="0.89" fill="#16236a" fill-opacity="0.6" filter="url(#b4)"/>
<circle cx="614.5" cy="168.5" r="1.19" fill="#16236a" fill-opacity="0.6" filter="url(#b4)"/>
<circle cx="616.8" cy="167.5" r="1.08" fill="#2e46b0" fill-opacity="0.6" filter="url(#b4)"/>
<circle cx="615.3" cy="170.8" r="0.90" fill="#2e46b0" fill-opacity="0.6" filter="url(#b4)"/>
</g>
<g transform="rotate(20.4 633.1 166.5)">
<ellipse cx="633.1" cy="166.5" rx="4.1" ry="3.6" fill="#22338f" fill-opacity="0.55" filter="url(#b5)"/>
<circle cx="633.7" cy="165.6" r="0.55" fill="#16236a" fill-opacity="0.6" filter="url(#b4)"/>
<circle cx="634.3" cy="166.7" r="1.16" fill="#16236a" fill-opacity="0.6" filter="url(#b4)"/>
<circle cx="632.2" cy="165.4" r="1.02" fill="#16236a" fill-opacity="0.6" filter="url(#b4)"/>
<circle cx="631.5" cy="167.8" r="0.51" fill="#16236a" fill-opacity="0.6" filter="url(#b4)"/>
<circle cx="633.7" cy="168.1" r="0.77" fill="#2e46b0" fill-opacity="0.6" filter="url(#b4)"/>
<circle cx="632.0" cy="166.1" r="0.68" fill="#16236a" fill-opacity="0.6" filter="url(#b4)"/>
</g>
<g transform="rotate(-7.5 650.5 171.0)">
<ellipse cx="650.5" cy="171.0" rx="4.0" ry="3.6" fill="#22338f" fill-opacity="0.55" filter="url(#b5)"/>
<circle cx="649.0" cy="170.4" r="0.53" fill="#16236a" fill-opacity="0.6" filter="url(#b4)"/>
<circle cx="650.0" cy="170.2" r="0.92" fill="#16236a" fill-opacity="0.6" filter="url(#b4)"/>
<circle cx="648.7" cy="171.3" r="0.98" fill="#16236a" fill-opacity="0.6" filter="url(#b4)"/>
<circle cx="650.6" cy="168.8" r="1.20" fill="#2e46b0" fill-opacity="0.6" filter="url(#b4)"/>
<circle cx="651.9" cy="169.0" r="0.80" fill="#2e46b0" fill-opacity="0.6" filter="url(#b4)"/>
<circle cx="648.0" cy="170.1" r="0.87" fill="#16236a" fill-opacity="0.6" filter="url(#b4)"/>
</g>
<g transform="rotate(8.2 666.7 172.4)">
<ellipse cx="666.7" cy="172.4" rx="4.0" ry="4.1" fill="#22338f" fill-opacity="0.55" filter="url(#b5)"/>
<circle cx="664.3" cy="173.6" r="0.54" fill="#2e46b0" fill-opacity="0.6" filter="url(#b4)"/>
<circle cx="666.3" cy="169.7" r="0.92" fill="#16236a" fill-opacity="0.6" filter="url(#b4)"/>
<circle cx="666.7" cy="170.8" r="0.55" fill="#16236a" fill-opacity="0.6" filter="url(#b4)"/>
<circle cx="668.0" cy="173.8" r="0.78" fill="#16236a" fill-opacity="0.6" filter="url(#b4)"/>
<circle cx="668.9" cy="173.2" r="0.67" fill="#16236a" fill-opacity="0.6" filter="url(#b4)"/>
<circle cx="666.1" cy="174.1" r="0.55" fill="#2e46b0" fill-opacity="0.6" filter="url(#b4)"/>
<circle cx="669.0" cy="170.9" r="1.11" fill="#16236a" fill-opacity="0.6" filter="url(#b4)"/>
</g>
<g transform="rotate(-10.2 603.5 184.3)">
<ellipse cx="603.5" cy="184.3" rx="3.3" ry="3.7" fill="#22338f" fill-opacity="0.55" filter="url(#b5)"/>
<circle cx="601.7" cy="185.4" r="1.02" fill="#2e46b0" fill-opacity="0.6" filter="url(#b4)"/>
<circle cx="601.6" cy="183.3" r="1.05" fill="#2e46b0" fill-opacity="0.6" filter="url(#b4)"/>
<circle cx="604.7" cy="185.6" r="0.50" fill="#16236a" fill-opacity="0.6" filter="url(#b4)"/>
<circle cx="603.6" cy="185.7" r="0.54" fill="#2e46b0" fill-opacity="0.6" filter="url(#b4)"/>
<circle cx="605.2" cy="182.9" r="0.75" fill="#2e46b0" fill-opacity="0.6" filter="url(#b4)"/>
</g>
<g transform="rotate(-28.0 620.0 181.2)">
<ellipse cx="620.0" cy="181.2" rx="5.0" ry="3.5" fill="#22338f" fill-opacity="0.55" filter="url(#b5)"/>
<circle cx="619.3" cy="180.9" r="1.13" fill="#2e46b0" fill-opacity="0.6" filter="url(#b4)"/>
<circle cx="619.1" cy="182.8" r="1.18" fill="#16236a" fill-opacity="0.6" filter="url(#b4)"/>
<circle cx="618.4" cy="181.4" r="1.15" fill="#2e46b0" fill-opacity="0.6" filter="url(#b4)"/>
<circle cx="621.2" cy="180.5" r="0.75" fill="#16236a" fill-opacity="0.6" filter="url(#b4)"/>
<circle cx="618.5" cy="181.4" r="1.20" fill="#16236a" fill-opacity="0.6" filter="url(#b4)"/>
<circle cx="620.8" cy="183.1" r="1.12" fill="#2e46b0" fill-opacity="0.6" filter="url(#b4)"/>
<circle cx="621.0" cy="181.4" r="0.72" fill="#16236a" fill-opacity="0.6" filter="url(#b4)"/>
</g>
<g transform="rotate(-8.0 642.5 184.1)">
<ellipse cx="642.5" cy="184.1" rx="4.5" ry="3.7" fill="#22338f" fill-opacity="0.55" filter="url(#b5)"/>
<circle cx="644.9" cy="182.7" r="0.59" fill="#16236a" fill-opacity="0.6" filter="url(#b4)"/>
<circle cx="641.5" cy="181.7" r="0.56" fill="#2e46b0" fill-opacity="0.6" filter="url(#b4)"/>
<circle cx="642.8" cy="185.5" r="0.64" fill="#16236a" fill-opacity="0.6" filter="url(#b4)"/>
<circle cx="643.2" cy="185.2" r="1.05" fill="#16236a" fill-opacity="0.6" filter="url(#b4)"/>
<circle cx="640.7" cy="185.6" r="0.91" fill="#16236a" fill-opacity="0.6" filter="url(#b4)"/>
<circle cx="642.7" cy="185.5" r="0.97" fill="#16236a" fill-opacity="0.6" filter="url(#b4)"/>
<circle cx="642.1" cy="186.1" r="1.19" fill="#2e46b0" fill-opacity="0.6" filter="url(#b4)"/>
</g>
<g transform="rotate(-3.9 658.8 181.1)">
<ellipse cx="658.8" cy="181.1" rx="4.1" ry="3.5" fill="#22338f" fill-opacity="0.55" filter="url(#b5)"/>
<circle cx="656.9" cy="181.8" r="0.53" fill="#16236a" fill-opacity="0.6" filter="url(#b4)"/>
<circle cx="657.6" cy="180.4" r="1.06" fill="#2e46b0" fill-opacity="0.6" filter="url(#b4)"/>
<circle cx="660.1" cy="181.8" r="0.67" fill="#16236a" fill-opacity="0.6" filter="url(#b4)"/>
<circle cx="658.4" cy="182.9" r="1.13" fill="#2e46b0" fill-opacity="0.6" filter="url(#b4)"/>
<circle cx="659.3" cy="181.1" r="1.03" fill="#2e46b0" fill-opacity="0.6" filter="url(#b4)"/>
<circle cx="656.8" cy="182.7" r="0.63" fill="#2e46b0" fill-opacity="0.6" filter="url(#b4)"/>
</g>
<g transform="rotate(19.7 677.0 185.4)">
<ellipse cx="677.0" cy="185.4" rx="4.0" ry="3.6" fill="#22338f" fill-opacity="0.55" filter="url(#b5)"/>
<circle cx="674.9" cy="184.7" r="0.96" fill="#2e46b0" fill-opacity="0.6" filter="url(#b4)"/>
<circle cx="677.4" cy="183.6" r="1.09" fill="#16236a" fill-opacity="0.6" filter="url(#b4)"/>
<circle cx="676.2" cy="183.7" r="0.62" fill="#16236a" fill-opacity="0.6" filter="url(#b4)"/>
<circle cx="677.2" cy="184.4" r="0.66" fill="#16236a" fill-opacity="0.6" filter="url(#b4)"/>
<circle cx="674.7" cy="186.2" r="1.05" fill="#16236a" fill-opacity="0.6" filter="url(#b4)"/>
<circle cx="677.2" cy="187.1" r="0.91" fill="#2e46b0" fill-opacity="0.6" filter="url(#b4)"/>
</g>
<g transform="rotate(28.5 589.3 192.0)">
<ellipse cx="589.3" cy="192.0" rx="3.9" ry="3.5" fill="#22338f" fill-opacity="0.55" filter="url(#b5)"/>
<circle cx="588.8" cy="192.0" r="1.00" fill="#16236a" fill-opacity="0.6" filter="url(#b4)"/>
<circle cx="587.0" cy="191.0" r="0.61" fill="#2e46b0" fill-opacity="0.6" filter="url(#b4)"/>
<circle cx="591.2" cy="192.2" r="0.81" fill="#2e46b0" fill-opacity="0.6" filter="url(#b4)"/>
<circle cx="589.1" cy="194.2" r="1.14" fill="#2e46b0" fill-opacity="0.6" filter="url(#b4)"/>
<circle cx="587.5" cy="191.3" r="0.67" fill="#16236a" fill-opacity="0.6" filter="url(#b4)"/>
<circle cx="590.2" cy="193.1" r="0.72" fill="#2e46b0" fill-opacity="0.6" filter="url(#b4)"/>
</g>
<g transform="rotate(-12.0 611.5 192.5)">
<ellipse cx="611.5" cy="192.5" rx="4.4" ry="3.9" fill="#22338f" fill-opacity="0.55" filter="url(#b5)"/>
<circle cx="609.9" cy="191.1" r="0.91" fill="#2e46b0" fill-opacity="0.6" filter="url(#b4)"/>
<circle cx="613.9" cy="193.8" r="0.68" fill="#2e46b0" fill-opacity="0.6" filter="url(#b4)"/>
<circle cx="612.9" cy="194.4" r="1.05" fill="#16236a" fill-opacity="0.6" filter="url(#b4)"/>
<circle cx="613.3" cy="193.1" r="0.65" fill="#2e46b0" fill-opacity="0.6" filter="url(#b4)"/>
<circle cx="612.1" cy="192.3" r="1.03" fill="#2e46b0" fill-opacity="0.6" filter="url(#b4)"/>
<circle cx="612.7" cy="192.4" r="1.02" fill="#2e46b0" fill-opacity="0.6" filter="url(#b4)"/>
<circle cx="613.0" cy="192.8" r="0.60" fill="#16236a" fill-opacity="0.6" filter="url(#b4)"/>
</g>
<g transform="rotate(13.4 628.9 190.6)">
<ellipse cx="628.9" cy="190.6" rx="4.3" ry="3.7" fill="#22338f" fill-opacity="0.55" filter="url(#b5)"/>
<circle cx="627.6" cy="191.5" r="0.55" fill="#2e46b0" fill-opacity="0.6" filter="url(#b4)"/>
<circle cx="631.8" cy="191.2" r="1.01" fill="#16236a" fill-opacity="0.6" filter="url(#b4)"/>
<circle cx="629.0" cy="191.9" r="0.67" fill="#16236a" fill-opacity="0.6" filter="url(#b4)"/>
<circle cx="626.1" cy="191.2" r="0.74" fill="#2e46b0" fill-opacity="0.6" filter="url(#b4)"/>
<circle cx="631.2" cy="190.4" r="0.78" fill="#2e46b0" fill-opacity="0.6" filter="url(#b4)"/>
<circle cx="628.4" cy="190.1" r="0.99" fill="#2e46b0" fill-opacity="0.6" filter="url(#b4)"/>
<circle cx="630.4" cy="189.1" r="0.82" fill="#16236a" fill-opacity="0.6" filter="url(#b4)"/>
</g>
<g transform="rotate(-29.6 643.6 192.4)">
<ellipse cx="643.6" cy="192.4" rx="4.8" ry="3.6" fill="#22338f" fill-opacity="0.55" filter="url(#b5)"/>
<circle cx="641.2" cy="193.8" r="1.05" fill="#2e46b0" fill-opacity="0.6" filter="url(#b4)"/>
<circle cx="644.1" cy="193.8" r="0.88" fill="#2e46b0" fill-opacity="0.6" filter="url(#b4)"/>
<circle cx="644.4" cy="193.4" r="0.83" fill="#2e46b0" fill-opacity="0.6" filter="url(#b4)"/>
<circle cx="642.8" cy="194.0" r="0.98" fill="#16236a" fill-opacity="0.6" filter="url(#b4)"/>
<circle cx="644.6" cy="191.5" r="0.55" fill="#2e46b0" fill-opacity="0.6" filter="url(#b4)"/>
<circle cx="642.9" cy="191.0" r="0.51" fill="#2e46b0" fill-opacity="0.6" filter="url(#b4)"/>
<circle cx="644.4" cy="193.6" r="1.15" fill="#2e46b0" fill-opacity="0.6" filter="url(#b4)"/>
</g>
<g transform="rotate(17.3 663.3 190.5)">
<ellipse cx="663.3" cy="190.5" rx="3.5" ry="4.1" fill="#22338f" fill-opacity="0.55" filter="url(#b5)"/>
<circle cx="663.0" cy="189.0" r="0.61" fill="#2e46b0" fill-opacity="0.6" filter="url(#b4)"/>
<circle cx="664.7" cy="189.8" r="1.01" fill="#16236a" fill-opacity="0.6" filter="url(#b4)"/>
<circle cx="663.6" cy="190.2" r="0.77" fill="#2e46b0" fill-opacity="0.6" filter="url(#b4)"/>
<circle cx="665.3" cy="191.8" r="1.04" fill="#2e46b0" fill-opacity="0.6" filter="url(#b4)"/>
<circle cx="662.7" cy="190.4" r="0.67" fill="#2e46b0" fill-opacity="0.6" filter="url(#b4)"/>
<circle cx="664.3" cy="190.8" r="0.52" fill="#16236a" fill-opacity="0.6" filter="url(#b4)"/>
</g>
<g transform="rotate(11.8 598.4 205.4)">
<ellipse cx="598.4" cy="205.4" rx="4.8" ry="3.7" fill="#22338f" fill-opacity="0.55" filter="url(#b5)"/>
<circle cx="597.5" cy="206.9" r="0.60" fill="#16236a" fill-opacity="0.6" filter="url(#b4)"/>
<circle cx="597.9" cy="204.1" r="0.97" fill="#16236a" fill-opacity="0.6" filter="url(#b4)"/>
<circle cx="599.3" cy="206.3" r="1.00" fill="#2e46b0" fill-opacity="0.6" filter="url(#b4)"/>
<circle cx="596.6" cy="206.3" r="0.66" fill="#16236a" fill-opacity="0.6" filter="url(#b4)"/>
<circle cx="597.8" cy="206.8" r="0.53" fill="#2e46b0" fill-opacity="0.6" filter="url(#b4)"/>
<circle cx="601.0" cy="205.7" r="1.07" fill="#16236a" fill-opacity="0.6" filter="url(#b4)"/>
<circle cx="600.2" cy="205.2" r="1.14" fill="#16236a" fill-opacity="0.6" filter="url(#b4)"/>
</g>
<g transform="rotate(-2.5 617.1 202.5)">
<ellipse cx="617.1" cy="202.5" rx="4.3" ry="3.8" fill="#22338f" fill-opacity="0.55" filter="url(#b5)"/>
<circle cx="617.7" cy="204.6" r="1.17" fill="#16236a" fill-opacity="0.6" filter="url(#b4)"/>
<circle cx="618.1" cy="201.6" r="0.56" fill="#16236a" fill-opacity="0.6" filter="url(#b4)"/>
<circle cx="615.5" cy="203.2" r="0.77" fill="#2e46b0" fill-opacity="0.6" filter="url(#b4)"/>
<circle cx="616.1" cy="204.1" r="0.61" fill="#2e46b0" fill-opacity="0.6" filter="url(#b4)"/>
<circle cx="615.5" cy="203.5" r="0.97" fill="#2e46b0" fill-opacity="0.6" filter="url(#b4)"/>
<circle cx="617.2" cy="203.3" r="0.80" fill="#2e46b0" fill-opacity="0.6" filter="url(#b4)"/>
<circle cx="618.5" cy="204.1" r="0.89" fill="#16236a" fill-opacity="0.6" filter="url(#b4)"/>
</g>
<g transform="rotate(16.5 634.0 203.6)">
<ellipse cx="634.0" cy="203.6" rx="4.6" ry="2.9" fill="#22338f" fill-opacity="0.55" filter="url(#b5)"/>
<circle cx="633.9" cy="203.3" r="0.76" fill="#2e46b0" fill-opacity="0.6" filter="url(#b4)"/>
<circle cx="635.9" cy="204.1" r="0.85" fill="#2e46b0" fill-opacity="0.6" filter="url(#b4)"/>
<circle cx="632.2" cy="202.9" r="0.68" fill="#2e46b0" fill-opacity="0.6" filter="url(#b4)"/>
<circle cx="635.9" cy="203.8" r="0.90" fill="#16236a" fill-opacity="0.6" filter="url(#b4)"/>
<circle cx="633.8" cy="205.3" r="0.83" fill="#2e46b0" fill-opacity="0.6" filter="url(#b4)"/>
<circle cx="631.7" cy="202.3" r="0.90" fill="#2e46b0" fill-opacity="0.6" filter="url(#b4)"/>
</g>
<g transform="rotate(17.2 654.6 205.0)">
<ellipse cx="654.6" cy="205.0" rx="4.8" ry="3.7" fill="#22338f" fill-opacity="0.55" filter="url(#b5)"/>
<circle cx="657.4" cy="204.2" r="0.93" fill="#16236a" fill-opacity="0.6" filter="url(#b4)"/>
<circle cx="652.8" cy="205.9" r="1.08" fill="#2e46b0" fill-opacity="0.6" filter="url(#b4)"/>
<circle cx="656.1" cy="203.9" r="0.53" fill="#16236a" fill-opacity="0.6" filter="url(#b4)"/>
<circle cx="656.2" cy="206.4" r="0.75" fill="#2e46b0" fill-opacity="0.6" filter="url(#b4)"/>
<circle cx="655.9" cy="204.8" r="0.66" fill="#2e46b0" fill-opacity="0.6" filter="url(#b4)"/>
<circle cx="653.9" cy="203.8" r="0.88" fill="#2e46b0" fill-opacity="0.6" filter="url(#b4)"/>
<circle cx="653.3" cy="205.8" r="0.96" fill="#2e46b0" fill-opacity="0.6" filter="url(#b4)"/>
<circle cx="652.0" cy="204.4" r="1.08" fill="#16236a" fill-opacity="0.6" filter="url(#b4)"/>
</g>
<g transform="rotate(-10.9 671.4 204.8)">
<ellipse cx="671.4" cy="204.8" rx="4.2" ry="3.2" fill="#22338f" fill-opacity="0.55" filter="url(#b5)"/>
<circle cx="673.1" cy="204.5" r="1.12" fill="#2e46b0" fill-opacity="0.6" filter="url(#b4)"/>
<circle cx="670.4" cy="206.5" r="0.98" fill="#16236a" fill-opacity="0.6" filter="url(#b4)"/>
<circle cx="674.0" cy="204.3" r="0.94" fill="#2e46b0" fill-opacity="0.6" filter="url(#b4)"/>
<circle cx="669.2" cy="204.9" r="0.70" fill="#2e46b0" fill-opacity="0.6" filter="url(#b4)"/>
<circle cx="671.4" cy="203.1" r="0.67" fill="#2e46b0" fill-opacity="0.6" filter="url(#b4)"/>
<circle cx="670.8" cy="205.6" r="0.59" fill="#16236a" fill-opacity="0.6" filter="url(#b4)"/>
</g>
<g transform="rotate(4.1 589.3 213.7)">
<ellipse cx="589.3" cy="213.7" rx="4.0" ry="3.7" fill="#22338f" fill-opacity="0.55" filter="url(#b5)"/>
<circle cx="590.0" cy="213.9" r="0.99" fill="#2e46b0" fill-opacity="0.6" filter="url(#b4)"/>
<circle cx="590.7" cy="214.8" r="0.84" fill="#16236a" fill-opacity="0.6" filter="url(#b4)"/>
<circle cx="590.7" cy="215.7" r="0.54" fill="#16236a" fill-opacity="0.6" filter="url(#b4)"/>
<circle cx="589.3" cy="215.5" r="0.77" fill="#16236a" fill-opacity="0.6" filter="url(#b4)"/>
<circle cx="589.0" cy="212.4" r="0.73" fill="#16236a" fill-opacity="0.6" filter="url(#b4)"/>
<circle cx="588.1" cy="215.6" r="1.08" fill="#16236a" fill-opacity="0.6" filter="url(#b4)"/>
</g>
<g transform="rotate(25.1 605.9 217.2)">
<ellipse cx="605.9" cy="217.2" rx="3.3" ry="3.0" fill="#22338f" fill-opacity="0.55" filter="url(#b5)"/>
<circle cx="604.6" cy="216.7" r="0.94" fill="#16236a" fill-opacity="0.6" filter="url(#b4)"/>
<circle cx="606.9" cy="215.6" r="0.76" fill="#2e46b0" fill-opacity="0.6" filter="url(#b4)"/>
<circle cx="605.4" cy="216.4" r="0.51" fill="#2e46b0" fill-opacity="0.6" filter="url(#b4)"/>
<circle cx="604.0" cy="216.2" r="0.59" fill="#16236a" fill-opacity="0.6" filter="url(#b4)"/>
<circle cx="605.4" cy="216.0" r="0.78" fill="#16236a" fill-opacity="0.6" filter="url(#b4)"/>
</g>
<g transform="rotate(26.3 621.7 214.3)">
<ellipse cx="621.7" cy="214.3" rx="4.0" ry="2.8" fill="#22338f" fill-opacity="0.55" filter="url(#b5)"/>
<circle cx="624.2" cy="213.5" r="1.00" fill="#2e46b0" fill-opacity="0.6" filter="url(#b4)"/>
<circle cx="622.1" cy="214.6" r="1.01" fill="#2e46b0" fill-opacity="0.6" filter="url(#b4)"/>
<circle cx="622.6" cy="214.2" r="0.52" fill="#2e46b0" fill-opacity="0.6" filter="url(#b4)"/>
<circle cx="619.8" cy="213.9" r="0.72" fill="#2e46b0" fill-opacity="0.6" filter="url(#b4)"/>
<circle cx="622.5" cy="212.6" r="0.77" fill="#2e46b0" fill-opacity="0.6" filter="url(#b4)"/>
</g>
<g transform="rotate(8.7 639.7 213.8)">
<ellipse cx="639.7" cy="213.8" rx="5.0" ry="3.5" fill="#22338f" fill-opacity="0.55" filter="url(#b5)"/>
<circle cx="637.5" cy="212.4" r="0.77" fill="#16236a" fill-opacity="0.6" filter="url(#b4)"/>
<circle cx="638.9" cy="212.1" r="0.60" fill="#16236a" fill-opacity="0.6" filter="url(#b4)"/>
<circle cx="640.3" cy="214.5" r="0.68" fill="#16236a" fill-opacity="0.6" filter="url(#b4)"/>
<circle cx="638.5" cy="213.9" r="0.51" fill="#2e46b0" fill-opacity="0.6" filter="url(#b4)"/>
<circle cx="638.5" cy="213.4" r="0.69" fill="#16236a" fill-opacity="0.6" filter="url(#b4)"/>
<circle cx="640.1" cy="215.5" r="0.68" fill="#2e46b0" fill-opacity="0.6" filter="url(#b4)"/>
<circle cx="640.6" cy="214.0" r="0.72" fill="#16236a" fill-opacity="0.6" filter="url(#b4)"/>
</g>
<g transform="rotate(11.0 658.5 211.5)">
<ellipse cx="658.5" cy="211.5" rx="3.6" ry="3.0" fill="#22338f" fill-opacity="0.55" filter="url(#b5)"/>
<circle cx="659.5" cy="211.9" r="1.20" fill="#2e46b0" fill-opacity="0.6" filter="url(#b4)"/>
<circle cx="659.2" cy="213.4" r="0.79" fill="#2e46b0" fill-opacity="0.6" filter="url(#b4)"/>
<circle cx="659.1" cy="210.3" r="0.89" fill="#2e46b0" fill-opacity="0.6" filter="url(#b4)"/>
<circle cx="657.5" cy="210.1" r="1.16" fill="#2e46b0" fill-opacity="0.6" filter="url(#b4)"/>
<circle cx="660.2" cy="209.9" r="1.08" fill="#2e46b0" fill-opacity="0.6" filter="url(#b4)"/>
</g>
<g transform="rotate(-22.3 674.8 219.1)">
<ellipse cx="674.8" cy="219.1" rx="3.4" ry="4.2" fill="#22338f" fill-opacity="0.55" filter="url(#b5)"/>
<circle cx="674.6" cy="217.9" r="0.62" fill="#2e46b0" fill-opacity="0.6" filter="url(#b4)"/>
<circle cx="675.2" cy="219.6" r="1.03" fill="#2e46b0" fill-opacity="0.6" filter="url(#b4)"/>
<circle cx="674.1" cy="221.0" r="0.65" fill="#2e46b0" fill-opacity="0.6" filter="url(#b4)"/>
<circle cx="675.0" cy="219.0" r="1.07" fill="#16236a" fill-opacity="0.6" filter="url(#b4)"/>
<circle cx="675.3" cy="216.7" r="1.06" fill="#2e46b0" fill-opacity="0.6" filter="url(#b4)"/>
<circle cx="675.7" cy="216.9" r="0.57" fill="#16236a" fill-opacity="0.6" filter="url(#b4)"/>
</g>
<g transform="rotate(-18.8 594.2 228.7)">
<ellipse cx="594.2" cy="228.7" rx="3.2" ry="3.8" fill="#22338f" fill-opacity="0.55" filter="url(#b5)"/>
<circle cx="595.6" cy="228.2" r="0.68" fill="#16236a" fill-opacity="0.6" filter="url(#b4)"/>
<circle cx="594.5" cy="228.5" r="0.66" fill="#16236a" fill-opacity="0.6" filter="url(#b4)"/>
<circle cx="593.2" cy="229.7" r="1.07" fill="#16236a" fill-opacity="0.6" filter="url(#b4)"/>
<circle cx="593.0" cy="230.3" r="0.70" fill="#2e46b0" fill-opacity="0.6" filter="url(#b4)"/>
<circle cx="595.3" cy="227.9" r="0.73" fill="#2e46b0" fill-opacity="0.6" filter="url(#b4)"/>
<circle cx="594.2" cy="227.5" r="0.88" fill="#16236a" fill-opacity="0.6" filter="url(#b4)"/>
</g>
<g transform="rotate(13.8 612.6 228.1)">
<ellipse cx="612.6" cy="228.1" rx="3.3" ry="3.9" fill="#22338f" fill-opacity="0.55" filter="url(#b5)"/>
<circle cx="612.2" cy="227.0" r="0.60" fill="#2e46b0" fill-opacity="0.6" filter="url(#b4)"/>
<circle cx="611.7" cy="229.5" r="0.85" fill="#2e46b0" fill-opacity="0.6" filter="url(#b4)"/>
<circle cx="611.6" cy="228.9" r="1.17" fill="#16236a" fill-opacity="0.6" filter="url(#b4)"/>
<circle cx="613.2" cy="230.5" r="1.03" fill="#2e46b0" fill-opacity="0.6" filter="url(#b4)"/>
<circle cx="614.4" cy="229.8" r="1.17" fill="#2e46b0" fill-opacity="0.6" filter="url(#b4)"/>
<circle cx="612.9" cy="229.8" r="0.62" fill="#16236a" fill-opacity="0.6" filter="url(#b4)"/>
</g>
<g transform="rotate(25.9 630.6 228.9)">
<ellipse cx="630.6" cy="228.9" rx="3.4" ry="3.7" fill="#22338f" fill-opacity="0.55" filter="url(#b5)"/>
<circle cx="630.3" cy="231.0" r="0.73" fill="#16236a" fill-opacity="0.6" filter="url(#b4)"/>
<circle cx="631.2" cy="230.3" r="0.60" fill="#16236a" fill-opacity="0.6" filter="url(#b4)"/>
<circle cx="629.7" cy="227.7" r="0.65" fill="#16236a" fill-opacity="0.6" filter="url(#b4)"/>
<circle cx="629.0" cy="227.3" r="0.94" fill="#16236a" fill-opacity="0.6" filter="url(#b4)"/>
<circle cx="628.9" cy="228.8" r="1.09" fill="#2e46b0" fill-opacity="0.6" filter="url(#b4)"/>
<circle cx="630.0" cy="227.3" r="0.79" fill="#16236a" fill-opacity="0.6" filter="url(#b4)"/>
</g>
<g transform="rotate(-29.1 650.7 224.5)">
<ellipse cx="650.7" cy="224.5" rx="3.7" ry="4.2" fill="#22338f" fill-opacity="0.55" filter="url(#b5)"/>
<circle cx="649.7" cy="225.5" r="0.90" fill="#16236a" fill-opacity="0.6" filter="url(#b4)"/>
<circle cx="650.2" cy="224.5" r="0.81" fill="#16236a" fill-opacity="0.6" filter="url(#b4)"/>
<circle cx="649.0" cy="223.3" r="0.61" fill="#16236a" fill-opacity="0.6" filter="url(#b4)"/>
<circle cx="648.1" cy="225.1" r="0.72" fill="#16236a" fill-opacity="0.6" filter="url(#b4)"/>
<circle cx="650.4" cy="221.7" r="1.11" fill="#2e46b0" fill-opacity="0.6" filter="url(#b4)"/>
<circle cx="652.4" cy="226.6" r="0.66" fill="#2e46b0" fill-opacity="0.6" filter="url(#b4)"/>
<circle cx="651.8" cy="222.6" r="1.08" fill="#16236a" fill-opacity="0.6" filter="url(#b4)"/>
</g>
<g transform="rotate(13.8 666.7 227.4)">
<ellipse cx="666.7" cy="227.4" rx="4.4" ry="3.9" fill="#22338f" fill-opacity="0.55" filter="url(#b5)"/>
<circle cx="667.4" cy="225.5" r="0.55" fill="#16236a" fill-opacity="0.6" filter="url(#b4)"/>
<circle cx="668.5" cy="225.7" r="1.07" fill="#2e46b0" fill-opacity="0.6" filter="url(#b4)"/>
<circle cx="664.6" cy="228.0" r="0.64" fill="#16236a" fill-opacity="0.6" filter="url(#b4)"/>
<circle cx="666.3" cy="229.6" r="0.89" fill="#2e46b0" fill-opacity="0.6" filter="url(#b4)"/>
<circle cx="667.2" cy="225.6" r="1.06" fill="#2e46b0" fill-opacity="0.6" filter="url(#b4)"/>
<circle cx="668.4" cy="225.5" r="1.13" fill="#16236a" fill-opacity="0.6" filter="url(#b4)"/>
<circle cx="667.1" cy="226.4" r="0.57" fill="#2e46b0" fill-opacity="0.6" filter="url(#b4)"/>
</g>
<g transform="rotate(-7.9 585.0 238.7)">
<ellipse cx="585.0" cy="238.7" rx="3.5" ry="4.0" fill="#22338f" fill-opacity="0.55" filter="url(#b5)"/>
<circle cx="586.4" cy="239.1" r="1.08" fill="#16236a" fill-opacity="0.6" filter="url(#b4)"/>
<circle cx="585.7" cy="239.5" r="1.09" fill="#2e46b0" fill-opacity="0.6" filter="url(#b4)"/>
<circle cx="583.2" cy="236.9" r="1.19" fill="#2e46b0" fill-opacity="0.6" filter="url(#b4)"/>
<circle cx="585.5" cy="240.8" r="1.01" fill="#16236a" fill-opacity="0.6" filter="url(#b4)"/>
<circle cx="585.6" cy="240.8" r="0.51" fill="#2e46b0" fill-opacity="0.6" filter="url(#b4)"/>
<circle cx="584.2" cy="240.0" r="0.69" fill="#16236a" fill-opacity="0.6" filter="url(#b4)"/>
</g>
<g transform="rotate(17.8 602.5 239.9)">
<ellipse cx="602.5" cy="239.9" rx="4.2" ry="3.4" fill="#22338f" fill-opacity="0.55" filter="url(#b5)"/>
<circle cx="600.6" cy="238.7" r="0.59" fill="#2e46b0" fill-opacity="0.6" filter="url(#b4)"/>
<circle cx="601.8" cy="238.4" r="0.58" fill="#2e46b0" fill-opacity="0.6" filter="url(#b4)"/>
<circle cx="604.7" cy="239.3" r="0.64" fill="#2e46b0" fill-opacity="0.6" filter="url(#b4)"/>
<circle cx="605.0" cy="239.9" r="0.75" fill="#16236a" fill-opacity="0.6" filter="url(#b4)"/>
<circle cx="601.8" cy="241.4" r="0.94" fill="#2e46b0" fill-opacity="0.6" filter="url(#b4)"/>
<circle cx="600.1" cy="240.9" r="0.82" fill="#2e46b0" fill-opacity="0.6" filter="url(#b4)"/>
</g>
<g transform="rotate(-6.9 620.4 239.8)">
<ellipse cx="620.4" cy="239.8" rx="3.9" ry="3.7" fill="#22338f" fill-opacity="0.55" filter="url(#b5)"/>
<circle cx="617.8" cy="239.7" r="0.99" fill="#2e46b0" fill-opacity="0.6" filter="url(#b4)"/>
<circle cx="620.6" cy="241.7" r="1.11" fill="#2e46b0" fill-opacity="0.6" filter="url(#b4)"/>
<circle cx="619.8" cy="242.1" r="0.82" fill="#16236a" fill-opacity="0.6" filter="url(#b4)"/>
<circle cx="621.9" cy="239.1" r="0.92" fill="#16236a" fill-opacity="0.6" filter="url(#b4)"/>
<circle cx="619.7" cy="240.0" r="0.70" fill="#2e46b0" fill-opacity="0.6" filter="url(#b4)"/>
<circle cx="617.9" cy="240.7" r="0.99" fill="#2e46b0" fill-opacity="0.6" filter="url(#b4)"/>
</g>
<g transform="rotate(-12.5 638.9 242.2)">
<ellipse cx="638.9" cy="242.2" rx="4.6" ry="4.1" fill="#22338f" fill-opacity="0.55" filter="url(#b5)"/>
<circle cx="638.1" cy="240.9" r="0.59" fill="#2e46b0" fill-opacity="0.6" filter="url(#b4)"/>
<circle cx="640.1" cy="241.3" r="0.74" fill="#2e46b0" fill-opacity="0.6" filter="url(#b4)"/>
<circle cx="640.1" cy="239.8" r="0.88" fill="#16236a" fill-opacity="0.6" filter="url(#b4)"/>
<circle cx="641.3" cy="243.8" r="0.75" fill="#2e46b0" fill-opacity="0.6" filter="url(#b4)"/>
<circle cx="636.9" cy="243.9" r="0.74" fill="#16236a" fill-opacity="0.6" filter="url(#b4)"/>
<circle cx="641.4" cy="240.5" r="0.94" fill="#2e46b0" fill-opacity="0.6" filter="url(#b4)"/>
<circle cx="636.9" cy="242.5" r="0.72" fill="#2e46b0" fill-opacity="0.6" filter="url(#b4)"/>
<circle cx="637.7" cy="240.2" r="1.18" fill="#16236a" fill-opacity="0.6" filter="url(#b4)"/>
</g>
<g transform="rotate(-10.1 656.6 241.0)">
<ellipse cx="656.6" cy="241.0" rx="3.3" ry="4.2" fill="#22338f" fill-opacity="0.55" filter="url(#b5)"/>
<circle cx="658.1" cy="240.9" r="0.95" fill="#16236a" fill-opacity="0.6" filter="url(#b4)"/>
<circle cx="655.9" cy="238.2" r="0.82" fill="#2e46b0" fill-opacity="0.6" filter="url(#b4)"/>
<circle cx="655.1" cy="242.4" r="1.19" fill="#2e46b0" fill-opacity="0.6" filter="url(#b4)"/>
<circle cx="657.0" cy="242.7" r="0.78" fill="#2e46b0" fill-opacity="0.6" filter="url(#b4)"/>
<circle cx="656.6" cy="240.1" r="0.95" fill="#2e46b0" fill-opacity="0.6" filter="url(#b4)"/>
<circle cx="655.2" cy="239.2" r="1.07" fill="#2e46b0" fill-opacity="0.6" filter="url(#b4)"/>
</g>
<g transform="rotate(-11.5 673.0 244.3)">
<ellipse cx="673.0" cy="244.3" rx="4.3" ry="4.2" fill="#22338f" fill-opacity="0.55" filter="url(#b5)"/>
<circle cx="672.7" cy="241.8" r="0.83" fill="#2e46b0" fill-opacity="0.6" filter="url(#b4)"/>
<circle cx="675.8" cy="244.6" r="1.13" fill="#16236a" fill-opacity="0.6" filter="url(#b4)"/>
<circle cx="674.8" cy="244.6" r="0.87" fill="#16236a" fill-opacity="0.6" filter="url(#b4)"/>
<circle cx="675.0" cy="246.0" r="0.86" fill="#2e46b0" fill-opacity="0.6" filter="url(#b4)"/>
<circle cx="674.6" cy="245.9" r="0.56" fill="#2e46b0" fill-opacity="0.6" filter="url(#b4)"/>
<circle cx="671.4" cy="244.2" r="0.67" fill="#16236a" fill-opacity="0.6" filter="url(#b4)"/>
<circle cx="672.4" cy="244.7" r="0.82" fill="#2e46b0" fill-opacity="0.6" filter="url(#b4)"/>
</g>
<g transform="rotate(6.1 591.6 250.6)">
<ellipse cx="591.6" cy="250.6" rx="4.0" ry="4.0" fill="#22338f" fill-opacity="0.55" filter="url(#b5)"/>
<circle cx="589.9" cy="249.9" r="0.57" fill="#16236a" fill-opacity="0.6" filter="url(#b4)"/>
<circle cx="592.3" cy="249.7" r="0.87" fill="#16236a" fill-opacity="0.6" filter="url(#b4)"/>
<circle cx="589.8" cy="251.8" r="1.17" fill="#16236a" fill-opacity="0.6" filter="url(#b4)"/>
<circle cx="591.4" cy="250.7" r="1.07" fill="#2e46b0" fill-opacity="0.6" filter="url(#b4)"/>
<circle cx="591.4" cy="248.2" r="0.87" fill="#2e46b0" fill-opacity="0.6" filter="url(#b4)"/>
<circle cx="592.5" cy="250.7" r="1.18" fill="#2e46b0" fill-opacity="0.6" filter="url(#b4)"/>
<circle cx="590.0" cy="248.5" r="0.79" fill="#2e46b0" fill-opacity="0.6" filter="url(#b4)"/>
</g>
<g transform="rotate(-14.2 611.3 249.5)">
<ellipse cx="611.3" cy="249.5" rx="4.8" ry="3.9" fill="#22338f" fill-opacity="0.55" filter="url(#b5)"/>
<circle cx="612.9" cy="250.2" r="1.14" fill="#2e46b0" fill-opacity="0.6" filter="url(#b4)"/>
<circle cx="610.2" cy="251.2" r="1.12" fill="#16236a" fill-opacity="0.6" filter="url(#b4)"/>
<circle cx="613.7" cy="248.8" r="1.13" fill="#16236a" fill-opacity="0.6" filter="url(#b4)"/>
<circle cx="609.9" cy="250.4" r="0.68" fill="#16236a" fill-opacity="0.6" filter="url(#b4)"/>
<circle cx="609.9" cy="250.8" r="0.75" fill="#2e46b0" fill-opacity="0.6" filter="url(#b4)"/>
<circle cx="609.3" cy="250.3" r="1.08" fill="#2e46b0" fill-opacity="0.6" filter="url(#b4)"/>
<circle cx="613.6" cy="250.3" r="0.78" fill="#16236a" fill-opacity="0.6" filter="url(#b4)"/>
<circle cx="611.5" cy="250.4" r="0.72" fill="#2e46b0" fill-opacity="0.6" filter="url(#b4)"/>
</g>
<g transform="rotate(-27.5 630.9 251.2)">
<ellipse cx="630.9" cy="251.2" rx="4.0" ry="3.6" fill="#22338f" fill-opacity="0.55" filter="url(#b5)"/>
<circle cx="629.6" cy="251.3" r="0.84" fill="#16236a" fill-opacity="0.6" filter="url(#b4)"/>
<circle cx="632.7" cy="251.3" r="0.50" fill="#16236a" fill-opacity="0.6" filter="url(#b4)"/>
<circle cx="628.7" cy="249.8" r="0.92" fill="#2e46b0" fill-opacity="0.6" filter="url(#b4)"/>
<circle cx="629.9" cy="252.2" r="0.91" fill="#16236a" fill-opacity="0.6" filter="url(#b4)"/>
<circle cx="630.2" cy="252.8" r="1.03" fill="#16236a" fill-opacity="0.6" filter="url(#b4)"/>
<circle cx="631.7" cy="251.4" r="0.69" fill="#2e46b0" fill-opacity="0.6" filter="url(#b4)"/>
</g>
<g transform="rotate(-13.6 647.1 251.2)">
<ellipse cx="647.1" cy="251.2" rx="4.7" ry="3.9" fill="#22338f" fill-opacity="0.55" filter="url(#b5)"/>
<circle cx="647.7" cy="249.5" r="0.78" fill="#16236a" fill-opacity="0.6" filter="url(#b4)"/>
<circle cx="646.5" cy="253.4" r="1.19" fill="#2e46b0" fill-opacity="0.6" filter="url(#b4)"/>
<circle cx="648.0" cy="249.8" r="1.07" fill="#2e46b0" fill-opacity="0.6" filter="url(#b4)"/>
<circle cx="647.7" cy="249.1" r="1.03" fill="#2e46b0" fill-opacity="0.6" filter="url(#b4)"/>
<circle cx="649.6" cy="251.9" r="1.15" fill="#16236a" fill-opacity="0.6" filter="url(#b4)"/>
<circle cx="646.8" cy="250.9" r="1.03" fill="#16236a" fill-opacity="0.6" filter="url(#b4)"/>
<circle cx="646.9" cy="251.1" r="0.79" fill="#16236a" fill-opacity="0.6" filter="url(#b4)"/>
<circle cx="645.7" cy="248.7" r="0.55" fill="#16236a" fill-opacity="0.6" filter="url(#b4)"/>
</g>
<g transform="rotate(-9.2 582.6 183.2)">
<ellipse cx="582.6" cy="183.2" rx="4.7" ry="3.9" fill="#22338f" fill-opacity="0.55" filter="url(#b5)"/>
<circle cx="583.0" cy="181.5" r="0.76" fill="#16236a" fill-opacity="0.6" filter="url(#b4)"/>
<circle cx="580.5" cy="183.8" r="0.72" fill="#2e46b0" fill-opacity="0.6" filter="url(#b4)"/>
<circle cx="582.5" cy="182.5" r="1.08" fill="#2e46b0" fill-opacity="0.6" filter="url(#b4)"/>
<circle cx="581.3" cy="181.5" r="0.58" fill="#2e46b0" fill-opacity="0.6" filter="url(#b4)"/>
<circle cx="581.4" cy="185.7" r="1.15" fill="#16236a" fill-opacity="0.6" filter="url(#b4)"/>
<circle cx="583.1" cy="185.0" r="1.09" fill="#16236a" fill-opacity="0.6" filter="url(#b4)"/>
<circle cx="584.8" cy="185.0" r="0.52" fill="#2e46b0" fill-opacity="0.6" filter="url(#b4)"/>
<circle cx="580.7" cy="183.9" r="1.15" fill="#16236a" fill-opacity="0.6" filter="url(#b4)"/>
</g>
<g transform="rotate(15.0 633.9 177.1)">
<ellipse cx="633.9" cy="177.1" rx="3.4" ry="3.6" fill="#22338f" fill-opacity="0.55" filter="url(#b5)"/>
<circle cx="631.9" cy="177.2" r="1.05" fill="#2e46b0" fill-opacity="0.6" filter="url(#b4)"/>
<circle cx="635.5" cy="178.4" r="0.91" fill="#2e46b0" fill-opacity="0.6" filter="url(#b4)"/>
<circle cx="634.3" cy="178.5" r="0.74" fill="#2e46b0" fill-opacity="0.6" filter="url(#b4)"/>
<circle cx="632.5" cy="176.1" r="0.90" fill="#2e46b0" fill-opacity="0.6" filter="url(#b4)"/>
<circle cx="634.7" cy="175.8" r="0.84" fill="#16236a" fill-opacity="0.6" filter="url(#b4)"/>
</g>
<g transform="rotate(-2.1 650.3 183.5)">
<ellipse cx="650.3" cy="183.5" rx="4.9" ry="3.1" fill="#22338f" fill-opacity="0.55" filter="url(#b5)"/>
<circle cx="652.3" cy="183.4" r="0.66" fill="#16236a" fill-opacity="0.6" filter="url(#b4)"/>
<circle cx="650.1" cy="185.4" r="0.68" fill="#16236a" fill-opacity="0.6" filter="url(#b4)"/>
<circle cx="653.2" cy="184.3" r="1.00" fill="#2e46b0" fill-opacity="0.6" filter="url(#b4)"/>
<circle cx="647.9" cy="184.2" r="1.18" fill="#16236a" fill-opacity="0.6" filter="url(#b4)"/>
<circle cx="652.3" cy="182.7" r="0.66" fill="#2e46b0" fill-opacity="0.6" filter="url(#b4)"/>
<circle cx="650.3" cy="182.8" r="1.09" fill="#2e46b0" fill-opacity="0.6" filter="url(#b4)"/>
<circle cx="653.1" cy="183.9" r="0.89" fill="#16236a" fill-opacity="0.6" filter="url(#b4)"/>
</g>
<g transform="rotate(-2.4 609.8 208.9)">
<ellipse cx="609.8" cy="208.9" rx="3.6" ry="3.2" fill="#22338f" fill-opacity="0.55" filter="url(#b5)"/>
<circle cx="609.3" cy="209.6" r="1.04" fill="#16236a" fill-opacity="0.6" filter="url(#b4)"/>
<circle cx="610.0" cy="208.2" r="0.65" fill="#16236a" fill-opacity="0.6" filter="url(#b4)"/>
<circle cx="610.3" cy="210.4" r="0.58" fill="#16236a" fill-opacity="0.6" filter="url(#b4)"/>
<circle cx="609.9" cy="207.2" r="1.15" fill="#16236a" fill-opacity="0.6" filter="url(#b4)"/>
<circle cx="609.2" cy="207.6" r="1.00" fill="#16236a" fill-opacity="0.6" filter="url(#b4)"/>
</g>
<g transform="rotate(4.8 627.8 218.2)">
<ellipse cx="627.8" cy="218.2" rx="3.4" ry="3.9" fill="#22338f" fill-opacity="0.55" filter="url(#b5)"/>
<circle cx="627.3" cy="220.7" r="0.69" fill="#16236a" fill-opacity="0.6" filter="url(#b4)"/>
<circle cx="627.8" cy="218.6" r="0.68" fill="#16236a" fill-opacity="0.6" filter="url(#b4)"/>
<circle cx="627.5" cy="219.5" r="0.84" fill="#2e46b0" fill-opacity="0.6" filter="url(#b4)"/>
<circle cx="627.6" cy="219.7" r="0.86" fill="#2e46b0" fill-opacity="0.6" filter="url(#b4)"/>
<circle cx="628.5" cy="217.4" r="1.10" fill="#16236a" fill-opacity="0.6" filter="url(#b4)"/>
<circle cx="626.5" cy="216.9" r="0.87" fill="#16236a" fill-opacity="0.6" filter="url(#b4)"/>
</g>
<g transform="rotate(5.4 584.1 227.9)">
<ellipse cx="584.1" cy="227.9" rx="4.8" ry="4.0" fill="#22338f" fill-opacity="0.55" filter="url(#b5)"/>
<circle cx="582.3" cy="225.6" r="0.68" fill="#16236a" fill-opacity="0.6" filter="url(#b4)"/>
<circle cx="587.1" cy="228.8" r="1.05" fill="#2e46b0" fill-opacity="0.6" filter="url(#b4)"/>
<circle cx="584.3" cy="229.8" r="1.01" fill="#2e46b0" fill-opacity="0.6" filter="url(#b4)"/>
<circle cx="586.3" cy="227.2" r="0.74" fill="#16236a" fill-opacity="0.6" filter="url(#b4)"/>
<circle cx="584.4" cy="230.7" r="1.16" fill="#2e46b0" fill-opacity="0.6" filter="url(#b4)"/>
<circle cx="583.6" cy="227.3" r="0.57" fill="#16236a" fill-opacity="0.6" filter="url(#b4)"/>
<circle cx="583.0" cy="227.5" r="0.72" fill="#16236a" fill-opacity="0.6" filter="url(#b4)"/>
<circle cx="584.6" cy="227.4" r="0.55" fill="#16236a" fill-opacity="0.6" filter="url(#b4)"/>
</g>
<g transform="rotate(-8.2 659.0 235.6)">
<ellipse cx="659.0" cy="235.6" rx="3.5" ry="3.1" fill="#22338f" fill-opacity="0.55" filter="url(#b5)"/>
<circle cx="660.9" cy="235.9" r="0.98" fill="#16236a" fill-opacity="0.6" filter="url(#b4)"/>
<circle cx="660.4" cy="234.1" r="0.55" fill="#16236a" fill-opacity="0.6" filter="url(#b4)"/>
<circle cx="658.0" cy="235.4" r="0.75" fill="#16236a" fill-opacity="0.6" filter="url(#b4)"/>
<circle cx="657.9" cy="235.6" r="0.79" fill="#16236a" fill-opacity="0.6" filter="url(#b4)"/>
<circle cx="658.3" cy="235.7" r="0.89" fill="#2e46b0" fill-opacity="0.6" filter="url(#b4)"/>
</g>
<g transform="rotate(-27.3 676.1 230.9)">
<ellipse cx="676.1" cy="230.9" rx="4.2" ry="3.4" fill="#22338f" fill-opacity="0.55" filter="url(#b5)"/>
<circle cx="678.2" cy="230.6" r="0.71" fill="#2e46b0" fill-opacity="0.6" filter="url(#b4)"/>
<circle cx="674.8" cy="232.6" r="1.18" fill="#16236a" fill-opacity="0.6" filter="url(#b4)"/>
<circle cx="678.8" cy="230.2" r="1.15" fill="#16236a" fill-opacity="0.6" filter="url(#b4)"/>
<circle cx="678.1" cy="231.2" r="0.98" fill="#16236a" fill-opacity="0.6" filter="url(#b4)"/>
<circle cx="674.3" cy="229.7" r="0.56" fill="#16236a" fill-opacity="0.6" filter="url(#b4)"/>
<circle cx="673.2" cy="230.7" r="0.58" fill="#2e46b0" fill-opacity="0.6" filter="url(#b4)"/>
</g>
<g transform="rotate(17.2 626.8 158.4)">
<ellipse cx="626.8" cy="158.4" rx="5.0" ry="3.3" fill="#22338f" fill-opacity="0.55" filter="url(#b5)"/>
<circle cx="629.1" cy="156.7" r="0.52" fill="#2e46b0" fill-opacity="0.6" filter="url(#b4)"/>
<circle cx="628.2" cy="156.7" r="0.91" fill="#16236a" fill-opacity="0.6" filter="url(#b4)"/>
<circle cx="627.0" cy="156.3" r="0.55" fill="#2e46b0" fill-opacity="0.6" filter="url(#b4)"/>
<circle cx="627.8" cy="156.2" r="0.79" fill="#16236a" fill-opacity="0.6" filter="url(#b4)"/>
<circle cx="625.8" cy="159.6" r="1.04" fill="#2e46b0" fill-opacity="0.6" filter="url(#b4)"/>
<circle cx="626.6" cy="160.2" r="0.73" fill="#16236a" fill-opacity="0.6" filter="url(#b4)"/>
<circle cx="625.7" cy="157.0" r="1.12" fill="#2e46b0" fill-opacity="0.6" filter="url(#b4)"/>
</g>
</g>
<polygon points="618.00,165.30 621.25,173.93 622.38,169.68 626.63,168.55" fill="#fff" stroke="none" stroke-width="1"/>
<polygon points="635.70,167.60 638.95,176.23 640.08,171.98 644.33,170.85" fill="#fff" stroke="none" stroke-width="1"/>
<polygon points="649.70,162.10 652.95,170.73 654.08,166.48 658.33,165.35" fill="#fff" stroke="none" stroke-width="1"/>
<polygon points="593.50,180.10 590.25,171.47 589.12,175.72 584.87,176.85" fill="#fff" stroke="none" stroke-width="1"/>
<polygon points="672.20,191.70 668.95,183.07 667.82,187.32 663.57,188.45" fill="#fff" stroke="none" stroke-width="1"/>
<polygon points="608.40,191.00 611.65,199.63 612.78,195.38 617.03,194.25" fill="#fff" stroke="none" stroke-width="1"/>
<polygon points="587.50,199.40 580.91,192.96 581.67,197.28 578.31,200.10" fill="#fff" stroke="none" stroke-width="1"/>
<polygon points="588.60,214.60 583.23,207.11 583.23,211.50 579.43,213.69" fill="#fff" stroke="none" stroke-width="1"/>
<polygon points="634.70,209.80 637.95,218.43 639.08,214.18 643.33,213.05" fill="#fff" stroke="none" stroke-width="1"/>
<polygon points="651.80,209.50 655.05,218.13 656.18,213.88 660.43,212.75" fill="#fff" stroke="none" stroke-width="1"/>
<polygon points="597.20,232.80 600.45,241.43 601.58,237.18 605.83,236.05" fill="#fff" stroke="none" stroke-width="1"/>
<polygon points="616.00,229.10 619.25,237.73 620.38,233.48 624.63,232.35" fill="#fff" stroke="none" stroke-width="1"/>
<text transform="translate(653.70,245.20) scale(1,1.05)" font-size="10.2" text-anchor="start" fill="#fff" >20μm</text>
<line x1="656.90" y1="248.80" x2="674.60" y2="248.80" stroke="#fff" stroke-width="1.6" />
<text transform="translate(552.20,206.60) scale(1,1.05)" font-size="11.5" text-anchor="start" fill="#231f20" >46-3</text>
<text x="584.8" y="264.5" font-size="11.5" fill="#1f9e48">IF: α-rat IgG<tspan fill="#231f20">/</tspan><tspan fill="#1f7ad0">DAPI</tspan></text>
<text transform="translate(12.20,236.70) scale(1,1.05)" font-size="18.3" text-anchor="start" fill="#231f20" stroke="#231f20" stroke-width="0.75" stroke-linejoin="round">D</text>
<text transform="translate(92.30,262.00) scale(1,1.05)" font-size="11.5" text-anchor="start" fill="#231f20" >143B-EGFP</text>
<line x1="49.90" y1="270.40" x2="49.90" y2="382.50" stroke="#231f20" stroke-width="1.3" />
<line x1="49.30" y1="381.90" x2="189.70" y2="381.90" stroke="#231f20" stroke-width="1.3" />
<line x1="46.30" y1="292.10" x2="49.90" y2="292.10" stroke="#231f20" stroke-width="1.2" />
<text transform="translate(45.50,296.10) scale(1,1.05)" font-size="11.5" text-anchor="end" fill="#231f20" >100</text>
<line x1="46.30" y1="337.00" x2="49.90" y2="337.00" stroke="#231f20" stroke-width="1.2" />
<text transform="translate(45.50,341.00) scale(1,1.05)" font-size="11.5" text-anchor="end" fill="#231f20" >50</text>
<line x1="46.30" y1="381.90" x2="49.90" y2="381.90" stroke="#231f20" stroke-width="1.2" />
<text transform="translate(45.50,385.90) scale(1,1.05)" font-size="11.5" text-anchor="end" fill="#231f20" >0</text>
<line x1="64.60" y1="381.90" x2="64.60" y2="385.50" stroke="#231f20" stroke-width="1.2" />
<text transform="translate(65.50,395.60) scale(1,1.05)" font-size="11.5" text-anchor="middle" fill="#231f20" >1</text>
<line x1="57.80" y1="391.50" x2="62.20" y2="391.50" stroke="#231f20" stroke-width="1.25" />
<line x1="102.95" y1="381.90" x2="102.95" y2="385.50" stroke="#231f20" stroke-width="1.2" />
<text transform="translate(102.95,395.60) scale(1,1.05)" font-size="11.5" text-anchor="middle" fill="#231f20" >0</text>
<line x1="141.30" y1="381.90" x2="141.30" y2="385.50" stroke="#231f20" stroke-width="1.2" />
<text transform="translate(141.30,395.60) scale(1,1.05)" font-size="11.5" text-anchor="middle" fill="#231f20" >1</text>
<line x1="179.65" y1="381.90" x2="179.65" y2="385.50" stroke="#231f20" stroke-width="1.2" />
<text transform="translate(179.65,395.60) scale(1,1.05)" font-size="11.5" text-anchor="middle" fill="#231f20" >2</text>
<text transform="translate(125.70,410.10) scale(1,1.05)" font-size="11.5" text-anchor="middle" fill="#231f20" >Log concentration (nM)</text>
<text x="0" y="0" font-size="11.5" text-anchor="middle" fill="#231f20" transform="translate(19.3,319.5) rotate(-90)">Cell viability percentage %</text>
<polyline points="53.09,294.35 54.15,294.35 55.20,294.35 56.26,294.35 57.31,294.35 58.37,294.35 59.42,294.35 60.48,294.35 61.53,294.35 62.59,294.35 63.64,294.35 64.70,294.35 65.75,294.35 66.81,294.35 67.86,294.35 68.91,294.35 69.97,294.35 71.02,294.35 72.08,294.35 73.13,294.35 74.19,294.35 75.24,294.35 76.30,294.35 77.35,294.35 78.41,294.35 79.46,294.35 80.52,294.35 81.57,294.35 82.62,294.35 83.68,294.35 84.73,294.35 85.79,294.35 86.84,294.35 87.90,294.35 88.95,294.35 90.01,294.35 91.06,294.35 92.12,294.35 93.17,294.35 94.23,294.35 95.28,294.35 96.33,294.35 97.39,294.35 98.44,294.35 99.50,294.35 100.55,294.35 101.61,294.35 102.66,294.35 103.72,294.35 104.77,294.35 105.83,294.35 106.88,294.35 107.94,294.35 108.99,294.35 110.04,294.35 111.10,294.35 112.15,294.35 113.21,294.35 114.26,294.35 115.32,294.35 116.37,294.35 117.43,294.35 118.48,294.35 119.54,294.35 120.59,294.35 121.65,294.35 122.70,294.35 123.75,294.35 124.81,294.35 125.86,294.35 126.92,294.35 127.97,294.35 129.03,294.35 130.08,294.35 131.14,294.35 132.19,294.35 133.25,294.35 134.30,294.35 135.36,294.35 136.41,294.35 137.47,294.35 138.52,294.35 139.57,294.35 140.63,294.35 141.68,294.35 142.74,294.35 143.79,294.35 144.85,294.35 145.90,294.35 146.96,294.35 148.01,294.35 149.07,294.35 150.12,294.35 151.18,294.35 152.23,294.35 153.28,294.35 154.34,294.35 155.39,294.35 156.45,294.35 157.50,294.35 158.56,294.35 159.61,294.35 160.67,294.35 161.72,294.35 162.78,294.35 163.83,294.35 164.89,294.35 165.94,294.35 166.99,294.35 168.05,294.35 169.10,294.35 170.16,294.35 171.21,294.35 172.27,294.35 173.32,294.35 174.38,294.35 175.43,294.35 176.49,294.35 177.54,294.35 178.60,294.35 179.65,294.35" fill="none" stroke="#f08a23" stroke-width="1.3" />
<polyline points="53.09,297.94 54.15,297.94 55.20,297.94 56.26,297.94 57.31,297.94 58.37,297.94 59.42,297.94 60.48,297.94 61.53,297.94 62.59,297.94 63.64,297.94 64.70,297.94 65.75,297.94 66.81,297.94 67.86,297.94 68.91,297.94 69.97,297.94 71.02,297.94 72.08,297.94 73.13,297.94 74.19,297.94 75.24,297.94 76.30,297.94 77.35,297.94 78.41,297.94 79.46,297.94 80.52,297.94 81.57,297.94 82.62,297.94 83.68,297.94 84.73,297.94 85.79,297.94 86.84,297.94 87.90,297.94 88.95,297.94 90.01,297.94 91.06,297.94 92.12,297.94 93.17,297.94 94.23,297.94 95.28,297.94 96.33,297.94 97.39,297.94 98.44,297.94 99.50,297.94 100.55,297.94 101.61,297.94 102.66,297.94 103.72,297.94 104.77,297.94 105.83,297.94 106.88,297.94 107.94,297.94 108.99,297.94 110.04,297.94 111.10,297.94 112.15,297.94 113.21,297.94 114.26,297.94 115.32,297.94 116.37,297.94 117.43,297.94 118.48,297.94 119.54,297.94 120.59,297.94 121.65,297.94 122.70,297.94 123.75,297.94 124.81,297.94 125.86,297.94 126.92,297.94 127.97,297.94 129.03,297.94 130.08,297.94 131.14,297.94 132.19,297.94 133.25,297.94 134.30,297.94 135.36,297.94 136.41,297.94 137.47,297.94 138.52,297.94 139.57,297.94 140.63,297.94 141.68,297.94 142.74,297.94 143.79,297.94 144.85,297.94 145.90,297.94 146.96,297.94 148.01,297.94 149.07,297.94 150.12,297.94 151.18,297.94 152.23,297.94 153.28,297.94 154.34,297.94 155.39,297.94 156.45,297.94 157.50,297.94 158.56,297.94 159.61,297.94 160.67,297.94 161.72,297.94 162.78,297.94 163.83,297.94 164.89,297.94 165.94,297.94 166.99,297.94 168.05,297.94 169.10,297.94 170.16,297.94 171.21,297.94 172.27,297.94 173.32,297.94 174.38,297.94 175.43,297.94 176.49,297.94 177.54,297.94 178.60,297.94 179.65,297.94" fill="none" stroke="#3ab54a" stroke-width="1.3" />
<polyline points="53.09,297.49 54.15,297.49 55.20,297.49 56.26,297.49 57.31,297.49 58.37,297.49 59.42,297.49 60.48,297.49 61.53,297.49 62.59,297.49 63.64,297.49 64.70,297.49 65.75,297.49 66.81,297.49 67.86,297.49 68.91,297.49 69.97,297.49 71.02,297.49 72.08,297.49 73.13,297.49 74.19,297.49 75.24,297.49 76.30,297.49 77.35,297.49 78.41,297.49 79.46,297.49 80.52,297.49 81.57,297.49 82.62,297.49 83.68,297.49 84.73,297.49 85.79,297.49 86.84,297.49 87.90,297.49 88.95,297.49 90.01,297.49 91.06,297.49 92.12,297.49 93.17,297.49 94.23,297.49 95.28,297.49 96.33,297.49 97.39,297.49 98.44,297.49 99.50,297.49 100.55,297.49 101.61,297.49 102.66,297.49 103.72,297.49 104.77,297.49 105.83,297.49 106.88,297.49 107.94,297.49 108.99,297.49 110.04,297.49 111.10,297.49 112.15,297.49 113.21,297.49 114.26,297.49 115.32,297.49 116.37,297.49 117.43,297.49 118.48,297.49 119.54,297.49 120.59,297.49 121.65,297.49 122.70,297.49 123.75,297.49 124.81,297.49 125.86,297.49 126.92,297.49 127.97,297.49 129.03,297.49 130.08,297.49 131.14,297.49 132.19,297.49 133.25,297.49 134.30,297.49 135.36,297.49 136.41,297.49 137.47,297.49 138.52,297.49 139.57,297.49 140.63,297.49 141.68,297.49 142.74,297.49 143.79,297.49 144.85,297.49 145.90,297.49 146.96,297.49 148.01,297.49 149.07,297.49 150.12,297.49 151.18,297.49 152.23,297.49 153.28,297.49 154.34,297.49 155.39,297.49 156.45,297.49 157.50,297.49 158.56,297.49 159.61,297.49 160.67,297.49 161.72,297.49 162.78,297.49 163.83,297.49 164.89,297.49 165.94,297.49 166.99,297.49 168.05,297.49 169.10,297.49 170.16,297.49 171.21,297.49 172.27,297.49 173.32,297.49 174.38,297.49 175.43,297.49 176.49,297.49 177.54,297.49 178.60,297.49 179.65,297.49" fill="none" stroke="#7e3f98" stroke-width="1.3" />
<polyline points="53.09,297.94 54.15,297.94 55.20,297.94 56.26,297.94 57.31,297.94 58.37,297.94 59.42,297.94 60.48,297.94 61.53,297.94 62.59,297.94 63.64,297.94 64.70,297.94 65.75,297.94 66.81,297.94 67.86,297.94 68.91,297.94 69.97,297.94 71.02,297.94 72.08,297.94 73.13,297.94 74.19,297.94 75.24,297.94 76.30,297.94 77.35,297.94 78.41,297.94 79.46,297.94 80.52,297.94 81.57,297.94 82.62,297.94 83.68,297.94 84.73,297.94 85.79,297.94 86.84,297.94 87.90,297.94 88.95,297.94 90.01,297.94 91.06,297.94 92.12,297.94 93.17,297.94 94.23,297.94 95.28,297.94 96.33,297.94 97.39,297.94 98.44,297.94 99.50,297.94 100.55,297.94 101.61,297.94 102.66,297.94 103.72,297.94 104.77,297.94 105.83,297.94 106.88,297.94 107.94,297.94 108.99,297.94 110.04,297.94 111.10,297.94 112.15,297.94 113.21,297.94 114.26,297.94 115.32,297.94 116.37,297.94 117.43,297.94 118.48,297.94 119.54,297.94 120.59,297.94 121.65,297.94 122.70,297.94 123.75,297.94 124.81,297.94 125.86,297.94 126.92,297.94 127.97,297.94 129.03,297.94 130.08,297.94 131.14,297.94 132.19,297.94 133.25,297.94 134.30,297.94 135.36,297.94 136.41,297.94 137.47,297.94 138.52,297.94 139.57,297.94 140.63,297.94 141.68,297.94 142.74,297.94 143.79,297.94 144.85,297.94 145.90,297.94 146.96,297.94 148.01,297.94 149.07,297.94 150.12,297.94 151.18,297.94 152.23,297.94 153.28,297.94 154.34,297.94 155.39,297.94 156.45,297.94 157.50,297.94 158.56,297.94 159.61,297.94 160.67,297.94 161.72,297.94 162.78,297.94 163.83,297.94 164.89,297.94 165.94,297.94 166.99,297.94 168.05,297.94 169.10,297.94 170.16,297.94 171.21,297.94 172.27,297.94 173.32,297.94 174.38,297.94 175.43,297.94 176.49,297.94 177.54,297.94 178.60,297.94 179.65,297.94" fill="none" stroke="#e41f26" stroke-width="1.3" />
<polyline points="53.09,296.59 54.15,296.59 55.20,296.59 56.26,296.59 57.31,296.59 58.37,296.59 59.42,296.59 60.48,296.59 61.53,296.59 62.59,296.59 63.64,296.59 64.70,296.59 65.75,296.59 66.81,296.59 67.86,296.59 68.91,296.59 69.97,296.59 71.02,296.59 72.08,296.59 73.13,296.59 74.19,296.59 75.24,296.59 76.30,296.59 77.35,296.59 78.41,296.59 79.46,296.59 80.52,296.59 81.57,296.59 82.62,296.59 83.68,296.59 84.73,296.59 85.79,296.59 86.84,296.59 87.90,296.59 88.95,296.59 90.01,296.59 91.06,296.59 92.12,296.59 93.17,296.59 94.23,296.59 95.28,296.59 96.33,296.59 97.39,296.59 98.44,296.59 99.50,296.59 100.55,296.59 101.61,296.59 102.66,296.59 103.72,296.59 104.77,296.59 105.83,296.59 106.88,296.59 107.94,296.59 108.99,296.59 110.04,296.59 111.10,296.59 112.15,296.59 113.21,296.59 114.26,296.59 115.32,296.59 116.37,296.59 117.43,296.59 118.48,296.59 119.54,296.59 120.59,296.59 121.65,296.59 122.70,296.59 123.75,296.59 124.81,296.59 125.86,296.59 126.92,296.59 127.97,296.59 129.03,296.59 130.08,296.59 131.14,296.59 132.19,296.59 133.25,296.59 134.30,296.59 135.36,296.59 136.41,296.59 137.47,296.59 138.52,296.59 139.57,296.59 140.63,296.59 141.68,296.59 142.74,296.59 143.79,296.59 144.85,296.59 145.90,296.59 146.96,296.59 148.01,296.59 149.07,296.59 150.12,296.59 151.18,296.59 152.23,296.59 153.28,296.59 154.34,296.59 155.39,296.59 156.45,296.59 157.50,296.59 158.56,297.26 159.61,297.63 160.67,298.00 161.72,298.37 162.78,298.75 163.83,299.12 164.89,299.49 165.94,299.86 166.99,300.23 168.05,300.60 169.10,300.97 170.16,301.34 171.21,301.71 172.27,302.08 173.32,302.45 174.38,302.82 175.43,303.19 176.49,303.56 177.54,303.93 178.60,304.30 179.65,304.67" fill="none" stroke="#1f4e9f" stroke-width="1.3" />
<polygon points="53.09,291.40 51.09,293.90 53.09,296.40 55.09,293.90" fill="#f08a23" stroke="none" stroke-width="1"/>
<polygon points="64.60,293.19 62.60,295.69 64.60,298.19 66.60,295.69" fill="#f08a23" stroke="none" stroke-width="1"/>
<polygon points="76.10,293.19 74.10,295.69 76.10,298.19 78.10,295.69" fill="#f08a23" stroke="none" stroke-width="1"/>
<line x1="87.61" y1="293.00" x2="87.61" y2="296.59" stroke="#f08a23" stroke-width="1.0" />
<line x1="85.41" y1="293.00" x2="89.81" y2="293.00" stroke="#f08a23" stroke-width="1.0" />
<line x1="85.41" y1="296.59" x2="89.81" y2="296.59" stroke="#f08a23" stroke-width="1.0" />
<polygon points="87.61,292.29 85.61,294.79 87.61,297.29 89.61,294.79" fill="#f08a23" stroke="none" stroke-width="1"/>
<line x1="99.11" y1="287.61" x2="99.11" y2="294.79" stroke="#f08a23" stroke-width="1.0" />
<line x1="96.91" y1="287.61" x2="101.31" y2="287.61" stroke="#f08a23" stroke-width="1.0" />
<line x1="96.91" y1="294.79" x2="101.31" y2="294.79" stroke="#f08a23" stroke-width="1.0" />
<polygon points="99.11,288.70 97.11,291.20 99.11,293.70 101.11,291.20" fill="#f08a23" stroke="none" stroke-width="1"/>
<line x1="110.62" y1="293.90" x2="110.62" y2="297.49" stroke="#f08a23" stroke-width="1.0" />
<line x1="108.42" y1="293.90" x2="112.82" y2="293.90" stroke="#f08a23" stroke-width="1.0" />
<line x1="108.42" y1="297.49" x2="112.82" y2="297.49" stroke="#f08a23" stroke-width="1.0" />
<polygon points="110.62,293.19 108.62,295.69 110.62,298.19 112.62,295.69" fill="#f08a23" stroke="none" stroke-width="1"/>
<line x1="122.12" y1="292.10" x2="122.12" y2="295.69" stroke="#f08a23" stroke-width="1.0" />
<line x1="119.92" y1="292.10" x2="124.32" y2="292.10" stroke="#f08a23" stroke-width="1.0" />
<line x1="119.92" y1="295.69" x2="124.32" y2="295.69" stroke="#f08a23" stroke-width="1.0" />
<polygon points="122.12,291.40 120.12,293.90 122.12,296.40 124.12,293.90" fill="#f08a23" stroke="none" stroke-width="1"/>
<polygon points="133.63,293.19 131.63,295.69 133.63,298.19 135.63,295.69" fill="#f08a23" stroke="none" stroke-width="1"/>
<line x1="145.13" y1="297.49" x2="145.13" y2="302.88" stroke="#f08a23" stroke-width="1.0" />
<line x1="142.94" y1="297.49" x2="147.33" y2="297.49" stroke="#f08a23" stroke-width="1.0" />
<line x1="142.94" y1="302.88" x2="147.33" y2="302.88" stroke="#f08a23" stroke-width="1.0" />
<polygon points="145.13,297.68 143.13,300.18 145.13,302.68 147.13,300.18" fill="#f08a23" stroke="none" stroke-width="1"/>
<line x1="156.64" y1="293.00" x2="156.64" y2="296.59" stroke="#f08a23" stroke-width="1.0" />
<line x1="154.44" y1="293.00" x2="158.84" y2="293.00" stroke="#f08a23" stroke-width="1.0" />
<line x1="154.44" y1="296.59" x2="158.84" y2="296.59" stroke="#f08a23" stroke-width="1.0" />
<polygon points="156.64,292.29 154.64,294.79 156.64,297.29 158.64,294.79" fill="#f08a23" stroke="none" stroke-width="1"/>
<polygon points="168.15,292.29 166.15,294.79 168.15,297.29 170.15,294.79" fill="#f08a23" stroke="none" stroke-width="1"/>
<line x1="179.65" y1="291.20" x2="179.65" y2="298.39" stroke="#f08a23" stroke-width="1.0" />
<line x1="177.45" y1="291.20" x2="181.85" y2="291.20" stroke="#f08a23" stroke-width="1.0" />
<line x1="177.45" y1="298.39" x2="181.85" y2="298.39" stroke="#f08a23" stroke-width="1.0" />
<polygon points="179.65,292.29 177.65,294.79 179.65,297.29 181.65,294.79" fill="#f08a23" stroke="none" stroke-width="1"/>
<polygon points="53.09,289.70 50.79,293.90 55.39,293.90" fill="#3ab54a" stroke="none" stroke-width="1"/>
<line x1="64.60" y1="300.18" x2="64.60" y2="303.77" stroke="#3ab54a" stroke-width="1.0" />
<line x1="62.40" y1="300.18" x2="66.80" y2="300.18" stroke="#3ab54a" stroke-width="1.0" />
<line x1="62.40" y1="303.77" x2="66.80" y2="303.77" stroke="#3ab54a" stroke-width="1.0" />
<polygon points="64.60,299.58 62.30,303.78 66.90,303.78" fill="#3ab54a" stroke="none" stroke-width="1"/>
<line x1="76.10" y1="297.49" x2="76.10" y2="301.08" stroke="#3ab54a" stroke-width="1.0" />
<line x1="73.90" y1="297.49" x2="78.30" y2="297.49" stroke="#3ab54a" stroke-width="1.0" />
<line x1="73.90" y1="301.08" x2="78.30" y2="301.08" stroke="#3ab54a" stroke-width="1.0" />
<polygon points="76.10,296.88 73.80,301.08 78.40,301.08" fill="#3ab54a" stroke="none" stroke-width="1"/>
<line x1="87.61" y1="296.59" x2="87.61" y2="300.18" stroke="#3ab54a" stroke-width="1.0" />
<line x1="85.41" y1="296.59" x2="89.81" y2="296.59" stroke="#3ab54a" stroke-width="1.0" />
<line x1="85.41" y1="300.18" x2="89.81" y2="300.18" stroke="#3ab54a" stroke-width="1.0" />
<polygon points="87.61,295.99 85.31,300.19 89.91,300.19" fill="#3ab54a" stroke="none" stroke-width="1"/>
<line x1="99.11" y1="296.59" x2="99.11" y2="300.18" stroke="#3ab54a" stroke-width="1.0" />
<line x1="96.91" y1="296.59" x2="101.31" y2="296.59" stroke="#3ab54a" stroke-width="1.0" />
<line x1="96.91" y1="300.18" x2="101.31" y2="300.18" stroke="#3ab54a" stroke-width="1.0" />
<polygon points="99.11,295.99 96.81,300.19 101.41,300.19" fill="#3ab54a" stroke="none" stroke-width="1"/>
<line x1="110.62" y1="296.59" x2="110.62" y2="300.18" stroke="#3ab54a" stroke-width="1.0" />
<line x1="108.42" y1="296.59" x2="112.82" y2="296.59" stroke="#3ab54a" stroke-width="1.0" />
<line x1="108.42" y1="300.18" x2="112.82" y2="300.18" stroke="#3ab54a" stroke-width="1.0" />
<polygon points="110.62,295.99 108.32,300.19 112.92,300.19" fill="#3ab54a" stroke="none" stroke-width="1"/>
<line x1="122.12" y1="294.79" x2="122.12" y2="298.39" stroke="#3ab54a" stroke-width="1.0" />
<line x1="119.92" y1="294.79" x2="124.32" y2="294.79" stroke="#3ab54a" stroke-width="1.0" />
<line x1="119.92" y1="298.39" x2="124.32" y2="298.39" stroke="#3ab54a" stroke-width="1.0" />
<polygon points="122.12,294.19 119.82,298.39 124.42,298.39" fill="#3ab54a" stroke="none" stroke-width="1"/>
<line x1="133.63" y1="288.51" x2="133.63" y2="293.90" stroke="#3ab54a" stroke-width="1.0" />
<line x1="131.43" y1="288.51" x2="135.83" y2="288.51" stroke="#3ab54a" stroke-width="1.0" />
<line x1="131.43" y1="293.90" x2="135.83" y2="293.90" stroke="#3ab54a" stroke-width="1.0" />
<polygon points="133.63,288.80 131.33,293.00 135.93,293.00" fill="#3ab54a" stroke="none" stroke-width="1"/>
<line x1="145.13" y1="284.92" x2="145.13" y2="290.30" stroke="#3ab54a" stroke-width="1.0" />
<line x1="142.94" y1="284.92" x2="147.33" y2="284.92" stroke="#3ab54a" stroke-width="1.0" />
<line x1="142.94" y1="290.30" x2="147.33" y2="290.30" stroke="#3ab54a" stroke-width="1.0" />
<polygon points="145.13,285.21 142.83,289.41 147.44,289.41" fill="#3ab54a" stroke="none" stroke-width="1"/>
<line x1="156.64" y1="294.79" x2="156.64" y2="298.39" stroke="#3ab54a" stroke-width="1.0" />
<line x1="154.44" y1="294.79" x2="158.84" y2="294.79" stroke="#3ab54a" stroke-width="1.0" />
<line x1="154.44" y1="298.39" x2="158.84" y2="298.39" stroke="#3ab54a" stroke-width="1.0" />
<polygon points="156.64,294.19 154.34,298.39 158.94,298.39" fill="#3ab54a" stroke="none" stroke-width="1"/>
<line x1="168.15" y1="294.79" x2="168.15" y2="301.98" stroke="#3ab54a" stroke-width="1.0" />
<line x1="165.95" y1="294.79" x2="170.34" y2="294.79" stroke="#3ab54a" stroke-width="1.0" />
<line x1="165.95" y1="301.98" x2="170.34" y2="301.98" stroke="#3ab54a" stroke-width="1.0" />
<polygon points="168.15,295.99 165.84,300.19 170.45,300.19" fill="#3ab54a" stroke="none" stroke-width="1"/>
<line x1="179.65" y1="299.28" x2="179.65" y2="304.67" stroke="#3ab54a" stroke-width="1.0" />
<line x1="177.45" y1="299.28" x2="181.85" y2="299.28" stroke="#3ab54a" stroke-width="1.0" />
<line x1="177.45" y1="304.67" x2="181.85" y2="304.67" stroke="#3ab54a" stroke-width="1.0" />
<polygon points="179.65,299.58 177.35,303.78 181.95,303.78" fill="#3ab54a" stroke="none" stroke-width="1"/>
<polygon points="53.09,294.50 50.79,290.30 55.39,290.30" fill="#7e3f98" stroke="none" stroke-width="1"/>
<line x1="64.60" y1="297.49" x2="64.60" y2="301.08" stroke="#7e3f98" stroke-width="1.0" />
<line x1="62.40" y1="297.49" x2="66.80" y2="297.49" stroke="#7e3f98" stroke-width="1.0" />
<line x1="62.40" y1="301.08" x2="66.80" y2="301.08" stroke="#7e3f98" stroke-width="1.0" />
<polygon points="64.60,301.68 62.30,297.48 66.90,297.48" fill="#7e3f98" stroke="none" stroke-width="1"/>
<line x1="76.10" y1="296.59" x2="76.10" y2="300.18" stroke="#7e3f98" stroke-width="1.0" />
<line x1="73.90" y1="296.59" x2="78.30" y2="296.59" stroke="#7e3f98" stroke-width="1.0" />
<line x1="73.90" y1="300.18" x2="78.30" y2="300.18" stroke="#7e3f98" stroke-width="1.0" />
<polygon points="76.10,300.79 73.80,296.59 78.40,296.59" fill="#7e3f98" stroke="none" stroke-width="1"/>
<line x1="87.61" y1="296.59" x2="87.61" y2="300.18" stroke="#7e3f98" stroke-width="1.0" />
<line x1="85.41" y1="296.59" x2="89.81" y2="296.59" stroke="#7e3f98" stroke-width="1.0" />
<line x1="85.41" y1="300.18" x2="89.81" y2="300.18" stroke="#7e3f98" stroke-width="1.0" />
<polygon points="87.61,300.79 85.31,296.59 89.91,296.59" fill="#7e3f98" stroke="none" stroke-width="1"/>
<line x1="99.11" y1="297.49" x2="99.11" y2="301.08" stroke="#7e3f98" stroke-width="1.0" />
<line x1="96.91" y1="297.49" x2="101.31" y2="297.49" stroke="#7e3f98" stroke-width="1.0" />
<line x1="96.91" y1="301.08" x2="101.31" y2="301.08" stroke="#7e3f98" stroke-width="1.0" />
<polygon points="99.11,301.68 96.81,297.48 101.41,297.48" fill="#7e3f98" stroke="none" stroke-width="1"/>
<line x1="110.62" y1="297.49" x2="110.62" y2="301.08" stroke="#7e3f98" stroke-width="1.0" />
<line x1="108.42" y1="297.49" x2="112.82" y2="297.49" stroke="#7e3f98" stroke-width="1.0" />
<line x1="108.42" y1="301.08" x2="112.82" y2="301.08" stroke="#7e3f98" stroke-width="1.0" />
<polygon points="110.62,301.68 108.32,297.48 112.92,297.48" fill="#7e3f98" stroke="none" stroke-width="1"/>
<line x1="122.12" y1="294.79" x2="122.12" y2="298.39" stroke="#7e3f98" stroke-width="1.0" />
<line x1="119.92" y1="294.79" x2="124.32" y2="294.79" stroke="#7e3f98" stroke-width="1.0" />
<line x1="119.92" y1="298.39" x2="124.32" y2="298.39" stroke="#7e3f98" stroke-width="1.0" />
<polygon points="122.12,298.99 119.82,294.79 124.42,294.79" fill="#7e3f98" stroke="none" stroke-width="1"/>
<line x1="133.63" y1="286.71" x2="133.63" y2="292.10" stroke="#7e3f98" stroke-width="1.0" />
<line x1="131.43" y1="286.71" x2="135.83" y2="286.71" stroke="#7e3f98" stroke-width="1.0" />
<line x1="131.43" y1="292.10" x2="135.83" y2="292.10" stroke="#7e3f98" stroke-width="1.0" />
<polygon points="133.63,291.81 131.33,287.61 135.93,287.61" fill="#7e3f98" stroke="none" stroke-width="1"/>
<line x1="145.13" y1="283.12" x2="145.13" y2="288.51" stroke="#7e3f98" stroke-width="1.0" />
<line x1="142.94" y1="283.12" x2="147.33" y2="283.12" stroke="#7e3f98" stroke-width="1.0" />
<line x1="142.94" y1="288.51" x2="147.33" y2="288.51" stroke="#7e3f98" stroke-width="1.0" />
<polygon points="145.13,288.21 142.83,284.01 147.44,284.01" fill="#7e3f98" stroke="none" stroke-width="1"/>
<line x1="156.64" y1="293.90" x2="156.64" y2="297.49" stroke="#7e3f98" stroke-width="1.0" />
<line x1="154.44" y1="293.90" x2="158.84" y2="293.90" stroke="#7e3f98" stroke-width="1.0" />
<line x1="154.44" y1="297.49" x2="158.84" y2="297.49" stroke="#7e3f98" stroke-width="1.0" />
<polygon points="156.64,298.09 154.34,293.89 158.94,293.89" fill="#7e3f98" stroke="none" stroke-width="1"/>
<line x1="168.15" y1="300.18" x2="168.15" y2="305.57" stroke="#7e3f98" stroke-width="1.0" />
<line x1="165.95" y1="300.18" x2="170.34" y2="300.18" stroke="#7e3f98" stroke-width="1.0" />
<line x1="165.95" y1="305.57" x2="170.34" y2="305.57" stroke="#7e3f98" stroke-width="1.0" />
<polygon points="168.15,305.28 165.84,301.08 170.45,301.08" fill="#7e3f98" stroke="none" stroke-width="1"/>
<line x1="179.65" y1="299.28" x2="179.65" y2="304.67" stroke="#7e3f98" stroke-width="1.0" />
<line x1="177.45" y1="299.28" x2="181.85" y2="299.28" stroke="#7e3f98" stroke-width="1.0" />
<line x1="177.45" y1="304.67" x2="181.85" y2="304.67" stroke="#7e3f98" stroke-width="1.0" />
<polygon points="179.65,304.38 177.35,300.18 181.95,300.18" fill="#7e3f98" stroke="none" stroke-width="1"/>
<rect x="51.09" y="290.10" width="4.00" height="4.00" fill="#e41f26" stroke="none" stroke-width="1" />
<line x1="64.60" y1="299.28" x2="64.60" y2="302.88" stroke="#e41f26" stroke-width="1.0" />
<line x1="62.40" y1="299.28" x2="66.80" y2="299.28" stroke="#e41f26" stroke-width="1.0" />
<line x1="62.40" y1="302.88" x2="66.80" y2="302.88" stroke="#e41f26" stroke-width="1.0" />
<rect x="62.60" y="299.08" width="4.00" height="4.00" fill="#e41f26" stroke="none" stroke-width="1" />
<line x1="76.10" y1="296.59" x2="76.10" y2="300.18" stroke="#e41f26" stroke-width="1.0" />
<line x1="73.90" y1="296.59" x2="78.30" y2="296.59" stroke="#e41f26" stroke-width="1.0" />
<line x1="73.90" y1="300.18" x2="78.30" y2="300.18" stroke="#e41f26" stroke-width="1.0" />
<rect x="74.10" y="296.39" width="4.00" height="4.00" fill="#e41f26" stroke="none" stroke-width="1" />
<line x1="87.61" y1="298.39" x2="87.61" y2="301.98" stroke="#e41f26" stroke-width="1.0" />
<line x1="85.41" y1="298.39" x2="89.81" y2="298.39" stroke="#e41f26" stroke-width="1.0" />
<line x1="85.41" y1="301.98" x2="89.81" y2="301.98" stroke="#e41f26" stroke-width="1.0" />
<rect x="85.61" y="298.18" width="4.00" height="4.00" fill="#e41f26" stroke="none" stroke-width="1" />
<line x1="99.11" y1="297.49" x2="99.11" y2="301.08" stroke="#e41f26" stroke-width="1.0" />
<line x1="96.91" y1="297.49" x2="101.31" y2="297.49" stroke="#e41f26" stroke-width="1.0" />
<line x1="96.91" y1="301.08" x2="101.31" y2="301.08" stroke="#e41f26" stroke-width="1.0" />
<rect x="97.11" y="297.28" width="4.00" height="4.00" fill="#e41f26" stroke="none" stroke-width="1" />
<line x1="110.62" y1="298.39" x2="110.62" y2="301.98" stroke="#e41f26" stroke-width="1.0" />
<line x1="108.42" y1="298.39" x2="112.82" y2="298.39" stroke="#e41f26" stroke-width="1.0" />
<line x1="108.42" y1="301.98" x2="112.82" y2="301.98" stroke="#e41f26" stroke-width="1.0" />
<rect x="108.62" y="298.18" width="4.00" height="4.00" fill="#e41f26" stroke="none" stroke-width="1" />
<line x1="122.12" y1="295.69" x2="122.12" y2="299.28" stroke="#e41f26" stroke-width="1.0" />
<line x1="119.92" y1="295.69" x2="124.32" y2="295.69" stroke="#e41f26" stroke-width="1.0" />
<line x1="119.92" y1="299.28" x2="124.32" y2="299.28" stroke="#e41f26" stroke-width="1.0" />
<rect x="120.12" y="295.49" width="4.00" height="4.00" fill="#e41f26" stroke="none" stroke-width="1" />
<line x1="133.63" y1="290.30" x2="133.63" y2="295.69" stroke="#e41f26" stroke-width="1.0" />
<line x1="131.43" y1="290.30" x2="135.83" y2="290.30" stroke="#e41f26" stroke-width="1.0" />
<line x1="131.43" y1="295.69" x2="135.83" y2="295.69" stroke="#e41f26" stroke-width="1.0" />
<rect x="131.63" y="291.00" width="4.00" height="4.00" fill="#e41f26" stroke="none" stroke-width="1" />
<line x1="145.13" y1="286.71" x2="145.13" y2="292.10" stroke="#e41f26" stroke-width="1.0" />
<line x1="142.94" y1="286.71" x2="147.33" y2="286.71" stroke="#e41f26" stroke-width="1.0" />
<line x1="142.94" y1="292.10" x2="147.33" y2="292.10" stroke="#e41f26" stroke-width="1.0" />
<rect x="143.13" y="287.41" width="4.00" height="4.00" fill="#e41f26" stroke="none" stroke-width="1" />
<line x1="156.64" y1="294.79" x2="156.64" y2="298.39" stroke="#e41f26" stroke-width="1.0" />
<line x1="154.44" y1="294.79" x2="158.84" y2="294.79" stroke="#e41f26" stroke-width="1.0" />
<line x1="154.44" y1="298.39" x2="158.84" y2="298.39" stroke="#e41f26" stroke-width="1.0" />
<rect x="154.64" y="294.59" width="4.00" height="4.00" fill="#e41f26" stroke="none" stroke-width="1" />
<line x1="168.15" y1="298.39" x2="168.15" y2="303.77" stroke="#e41f26" stroke-width="1.0" />
<line x1="165.95" y1="298.39" x2="170.34" y2="298.39" stroke="#e41f26" stroke-width="1.0" />
<line x1="165.95" y1="303.77" x2="170.34" y2="303.77" stroke="#e41f26" stroke-width="1.0" />
<rect x="166.15" y="299.08" width="4.00" height="4.00" fill="#e41f26" stroke="none" stroke-width="1" />
<line x1="179.65" y1="297.49" x2="179.65" y2="302.88" stroke="#e41f26" stroke-width="1.0" />
<line x1="177.45" y1="297.49" x2="181.85" y2="297.49" stroke="#e41f26" stroke-width="1.0" />
<line x1="177.45" y1="302.88" x2="181.85" y2="302.88" stroke="#e41f26" stroke-width="1.0" />
<rect x="177.65" y="298.18" width="4.00" height="4.00" fill="#e41f26" stroke="none" stroke-width="1" />
<rect x="51.09" y="290.10" width="4.00" height="4.00" fill="#1f4e9f" stroke="none" stroke-width="1" />
<line x1="64.60" y1="297.49" x2="64.60" y2="301.08" stroke="#1f4e9f" stroke-width="1.0" />
<line x1="62.40" y1="297.49" x2="66.80" y2="297.49" stroke="#1f4e9f" stroke-width="1.0" />
<line x1="62.40" y1="301.08" x2="66.80" y2="301.08" stroke="#1f4e9f" stroke-width="1.0" />
<rect x="62.60" y="297.28" width="4.00" height="4.00" fill="#1f4e9f" stroke="none" stroke-width="1" />
<line x1="76.10" y1="295.69" x2="76.10" y2="299.28" stroke="#1f4e9f" stroke-width="1.0" />
<line x1="73.90" y1="295.69" x2="78.30" y2="295.69" stroke="#1f4e9f" stroke-width="1.0" />
<line x1="73.90" y1="299.28" x2="78.30" y2="299.28" stroke="#1f4e9f" stroke-width="1.0" />
<rect x="74.10" y="295.49" width="4.00" height="4.00" fill="#1f4e9f" stroke="none" stroke-width="1" />
<line x1="87.61" y1="296.59" x2="87.61" y2="300.18" stroke="#1f4e9f" stroke-width="1.0" />
<line x1="85.41" y1="296.59" x2="89.81" y2="296.59" stroke="#1f4e9f" stroke-width="1.0" />
<line x1="85.41" y1="300.18" x2="89.81" y2="300.18" stroke="#1f4e9f" stroke-width="1.0" />
<rect x="85.61" y="296.39" width="4.00" height="4.00" fill="#1f4e9f" stroke="none" stroke-width="1" />
<line x1="99.11" y1="297.49" x2="99.11" y2="302.88" stroke="#1f4e9f" stroke-width="1.0" />
<line x1="96.91" y1="297.49" x2="101.31" y2="297.49" stroke="#1f4e9f" stroke-width="1.0" />
<line x1="96.91" y1="302.88" x2="101.31" y2="302.88" stroke="#1f4e9f" stroke-width="1.0" />
<rect x="97.11" y="298.18" width="4.00" height="4.00" fill="#1f4e9f" stroke="none" stroke-width="1" />
<line x1="110.62" y1="297.49" x2="110.62" y2="301.08" stroke="#1f4e9f" stroke-width="1.0" />
<line x1="108.42" y1="297.49" x2="112.82" y2="297.49" stroke="#1f4e9f" stroke-width="1.0" />
<line x1="108.42" y1="301.08" x2="112.82" y2="301.08" stroke="#1f4e9f" stroke-width="1.0" />
<rect x="108.62" y="297.28" width="4.00" height="4.00" fill="#1f4e9f" stroke="none" stroke-width="1" />
<line x1="122.12" y1="295.69" x2="122.12" y2="299.28" stroke="#1f4e9f" stroke-width="1.0" />
<line x1="119.92" y1="295.69" x2="124.32" y2="295.69" stroke="#1f4e9f" stroke-width="1.0" />
<line x1="119.92" y1="299.28" x2="124.32" y2="299.28" stroke="#1f4e9f" stroke-width="1.0" />
<rect x="120.12" y="295.49" width="4.00" height="4.00" fill="#1f4e9f" stroke="none" stroke-width="1" />
<line x1="133.63" y1="284.92" x2="133.63" y2="292.10" stroke="#1f4e9f" stroke-width="1.0" />
<line x1="131.43" y1="284.92" x2="135.83" y2="284.92" stroke="#1f4e9f" stroke-width="1.0" />
<line x1="131.43" y1="292.10" x2="135.83" y2="292.10" stroke="#1f4e9f" stroke-width="1.0" />
<rect x="131.63" y="286.51" width="4.00" height="4.00" fill="#1f4e9f" stroke="none" stroke-width="1" />
<line x1="145.13" y1="286.71" x2="145.13" y2="292.10" stroke="#1f4e9f" stroke-width="1.0" />
<line x1="142.94" y1="286.71" x2="147.33" y2="286.71" stroke="#1f4e9f" stroke-width="1.0" />
<line x1="142.94" y1="292.10" x2="147.33" y2="292.10" stroke="#1f4e9f" stroke-width="1.0" />
<rect x="143.13" y="287.41" width="4.00" height="4.00" fill="#1f4e9f" stroke="none" stroke-width="1" />
<line x1="156.64" y1="294.79" x2="156.64" y2="298.39" stroke="#1f4e9f" stroke-width="1.0" />
<line x1="154.44" y1="294.79" x2="158.84" y2="294.79" stroke="#1f4e9f" stroke-width="1.0" />
<line x1="154.44" y1="298.39" x2="158.84" y2="298.39" stroke="#1f4e9f" stroke-width="1.0" />
<rect x="154.64" y="294.59" width="4.00" height="4.00" fill="#1f4e9f" stroke="none" stroke-width="1" />
<line x1="168.15" y1="300.18" x2="168.15" y2="305.57" stroke="#1f4e9f" stroke-width="1.0" />
<line x1="165.95" y1="300.18" x2="170.34" y2="300.18" stroke="#1f4e9f" stroke-width="1.0" />
<line x1="165.95" y1="305.57" x2="170.34" y2="305.57" stroke="#1f4e9f" stroke-width="1.0" />
<rect x="166.15" y="300.88" width="4.00" height="4.00" fill="#1f4e9f" stroke="none" stroke-width="1" />
<line x1="179.65" y1="301.98" x2="179.65" y2="307.37" stroke="#1f4e9f" stroke-width="1.0" />
<line x1="177.45" y1="301.98" x2="181.85" y2="301.98" stroke="#1f4e9f" stroke-width="1.0" />
<line x1="177.45" y1="307.37" x2="181.85" y2="307.37" stroke="#1f4e9f" stroke-width="1.0" />
<rect x="177.65" y="302.67" width="4.00" height="4.00" fill="#1f4e9f" stroke="none" stroke-width="1" />
<text transform="translate(272.30,262.00) scale(1,1.05)" font-size="11.5" text-anchor="start" fill="#231f20" >143B-hMeflin</text>
<line x1="237.20" y1="268.70" x2="237.20" y2="383.50" stroke="#231f20" stroke-width="1.3" />
<line x1="236.60" y1="382.90" x2="379.70" y2="382.90" stroke="#231f20" stroke-width="1.3" />
<line x1="233.60" y1="290.90" x2="237.20" y2="290.90" stroke="#231f20" stroke-width="1.2" />
<text transform="translate(232.80,294.90) scale(1,1.05)" font-size="11.5" text-anchor="end" fill="#231f20" >100</text>
<line x1="233.60" y1="336.90" x2="237.20" y2="336.90" stroke="#231f20" stroke-width="1.2" />
<text transform="translate(232.80,340.90) scale(1,1.05)" font-size="11.5" text-anchor="end" fill="#231f20" >50</text>
<line x1="233.60" y1="382.90" x2="237.20" y2="382.90" stroke="#231f20" stroke-width="1.2" />
<text transform="translate(232.80,386.90) scale(1,1.05)" font-size="11.5" text-anchor="end" fill="#231f20" >0</text>
<line x1="251.60" y1="382.90" x2="251.60" y2="386.50" stroke="#231f20" stroke-width="1.2" />
<text transform="translate(252.50,396.60) scale(1,1.05)" font-size="11.5" text-anchor="middle" fill="#231f20" >1</text>
<line x1="244.80" y1="392.50" x2="249.20" y2="392.50" stroke="#231f20" stroke-width="1.25" />
<line x1="291.10" y1="382.90" x2="291.10" y2="386.50" stroke="#231f20" stroke-width="1.2" />
<text transform="translate(291.10,396.60) scale(1,1.05)" font-size="11.5" text-anchor="middle" fill="#231f20" >0</text>
<line x1="330.60" y1="382.90" x2="330.60" y2="386.50" stroke="#231f20" stroke-width="1.2" />
<text transform="translate(330.60,396.60) scale(1,1.05)" font-size="11.5" text-anchor="middle" fill="#231f20" >1</text>
<line x1="370.10" y1="382.90" x2="370.10" y2="386.50" stroke="#231f20" stroke-width="1.2" />
<text transform="translate(370.10,396.60) scale(1,1.05)" font-size="11.5" text-anchor="middle" fill="#231f20" >2</text>
<text transform="translate(316.00,411.00) scale(1,1.05)" font-size="11.5" text-anchor="middle" fill="#231f20" >Log concentration (nM)</text>
<text x="0" y="0" font-size="11.5" text-anchor="middle" fill="#231f20" transform="translate(206.6,319.5) rotate(-90)">Cell viability percentage %</text>
<polyline points="239.75,291.48 240.84,291.53 241.92,291.58 243.01,291.63 244.09,291.69 245.18,291.75 246.27,291.81 247.35,291.88 248.44,291.95 249.53,292.03 250.61,292.12 251.70,292.21 252.78,292.31 253.87,292.42 254.96,292.53 256.04,292.65 257.13,292.78 258.22,292.92 259.30,293.06 260.39,293.22 261.48,293.39 262.56,293.56 263.65,293.75 264.73,293.95 265.82,294.17 266.91,294.39 267.99,294.63 269.08,294.89 270.16,295.16 271.25,295.44 272.34,295.74 273.42,296.05 274.51,296.38 275.60,296.72 276.68,297.08 277.77,297.46 278.86,297.85 279.94,298.26 281.03,298.68 282.11,299.11 283.20,299.57 284.29,300.03 285.37,300.51 286.46,301.00 287.55,301.50 288.63,302.01 289.72,302.53 290.80,303.06 291.89,303.59 292.98,304.13 294.06,304.67 295.15,305.21 296.24,305.75 297.32,306.29 298.41,306.83 299.49,307.36 300.58,307.88 301.67,308.40 302.75,308.91 303.84,309.41 304.93,309.90 306.01,310.37 307.10,310.84 308.18,311.29 309.27,311.72 310.36,312.14 311.44,312.54 312.53,312.93 313.62,313.31 314.70,313.66 315.79,314.00 316.87,314.33 317.96,314.64 319.05,314.93 320.13,315.21 321.22,315.48 322.31,315.73 323.39,315.97 324.48,316.19 325.56,316.40 326.65,316.60 327.74,316.79 328.82,316.96 329.91,317.13 331.00,317.29 332.08,317.43 333.17,317.57 334.25,317.69 335.34,317.81 336.43,317.92 337.51,318.03 338.60,318.13 339.68,318.22 340.77,318.30 341.86,318.38 342.94,318.45 344.03,318.52 345.12,318.59 346.20,318.65 347.29,318.70 348.38,318.75 349.46,318.80 350.55,318.84 351.63,318.89 352.72,318.92 353.81,318.96 354.89,318.99 355.98,319.02 357.06,319.05 358.15,319.08 359.24,319.10 360.32,319.13 361.41,319.15 362.50,319.17 363.58,319.19 364.67,319.20 365.75,319.22 366.84,319.23 367.93,319.25 369.01,319.26 370.10,319.27" fill="none" stroke="#f08a23" stroke-width="1.3" />
<polyline points="239.75,294.12 240.84,294.12 241.92,294.12 243.01,294.12 244.09,294.12 245.18,294.12 246.27,294.12 247.35,294.12 248.44,294.12 249.53,294.12 250.61,294.12 251.70,294.12 252.78,294.12 253.87,294.12 254.96,294.12 256.04,294.12 257.13,294.12 258.22,294.12 259.30,294.12 260.39,294.12 261.48,294.12 262.56,294.12 263.65,294.12 264.73,294.12 265.82,294.12 266.91,294.12 267.99,294.12 269.08,294.12 270.16,294.12 271.25,294.12 272.34,294.12 273.42,294.12 274.51,294.12 275.60,294.12 276.68,294.12 277.77,294.12 278.86,294.12 279.94,294.12 281.03,294.12 282.11,294.12 283.20,294.12 284.29,294.12 285.37,294.12 286.46,294.12 287.55,294.12 288.63,294.12 289.72,294.12 290.80,294.12 291.89,294.12 292.98,294.12 294.06,294.12 295.15,294.12 296.24,294.12 297.32,294.12 298.41,294.12 299.49,294.12 300.58,294.12 301.67,294.12 302.75,294.12 303.84,294.12 304.93,294.12 306.01,294.12 307.10,294.12 308.18,294.12 309.27,294.12 310.36,294.12 311.44,294.12 312.53,294.12 313.62,294.12 314.70,294.12 315.79,294.12 316.87,294.12 317.96,294.12 319.05,294.12 320.13,294.12 321.22,294.12 322.31,294.12 323.39,294.12 324.48,294.12 325.56,294.12 326.65,294.12 327.74,294.12 328.82,294.12 329.91,294.12 331.00,294.12 332.08,294.12 333.17,294.12 334.25,294.12 335.34,294.12 336.43,294.12 337.51,294.12 338.60,294.12 339.68,294.12 340.77,294.12 341.86,294.12 342.94,294.12 344.03,294.12 345.12,294.12 346.20,294.12 347.29,294.64 348.38,295.27 349.46,295.90 350.55,296.53 351.63,297.17 352.72,297.80 353.81,298.43 354.89,299.06 355.98,299.70 357.06,300.33 358.15,300.96 359.24,301.59 360.32,302.23 361.41,302.86 362.50,303.49 363.58,304.12 364.67,304.76 365.75,305.39 366.84,306.02 367.93,306.65 369.01,307.29 370.10,307.92" fill="none" stroke="#3ab54a" stroke-width="1.3" />
<polyline points="239.75,293.66 240.84,293.66 241.92,293.66 243.01,293.66 244.09,293.66 245.18,293.66 246.27,293.66 247.35,293.66 248.44,293.66 249.53,293.66 250.61,293.66 251.70,293.66 252.78,293.66 253.87,293.66 254.96,293.66 256.04,293.66 257.13,293.66 258.22,293.66 259.30,293.66 260.39,293.66 261.48,293.66 262.56,293.66 263.65,293.66 264.73,293.66 265.82,293.66 266.91,293.66 267.99,293.66 269.08,293.66 270.16,293.66 271.25,293.66 272.34,293.66 273.42,293.66 274.51,293.66 275.60,293.66 276.68,293.66 277.77,293.66 278.86,293.66 279.94,293.66 281.03,293.66 282.11,293.66 283.20,293.66 284.29,293.66 285.37,293.66 286.46,293.66 287.55,293.66 288.63,293.66 289.72,293.66 290.80,293.66 291.89,293.66 292.98,293.66 294.06,293.66 295.15,293.66 296.24,293.66 297.32,293.66 298.41,293.66 299.49,293.66 300.58,293.66 301.67,293.66 302.75,293.66 303.84,293.66 304.93,293.66 306.01,293.66 307.10,293.66 308.18,293.66 309.27,293.66 310.36,293.66 311.44,293.66 312.53,293.66 313.62,293.66 314.70,293.66 315.79,293.66 316.87,293.66 317.96,293.66 319.05,293.66 320.13,293.66 321.22,293.66 322.31,293.66 323.39,293.66 324.48,293.66 325.56,293.66 326.65,293.66 327.74,293.66 328.82,293.66 329.91,293.66 331.00,293.66 332.08,293.66 333.17,293.66 334.25,293.66 335.34,293.66 336.43,293.66 337.51,293.66 338.60,293.66 339.68,293.66 340.77,293.66 341.86,293.66 342.94,293.66 344.03,293.66 345.12,293.66 346.20,293.66 347.29,293.66 348.38,293.66 349.46,293.66 350.55,293.66 351.63,293.66 352.72,293.66 353.81,293.66 354.89,293.66 355.98,293.66 357.06,293.66 358.15,293.66 359.24,293.66 360.32,293.66 361.41,293.66 362.50,293.66 363.58,293.66 364.67,293.66 365.75,293.66 366.84,293.66 367.93,293.66 369.01,293.66 370.10,293.66" fill="none" stroke="#7e3f98" stroke-width="1.3" />
<polyline points="239.75,293.66 240.84,293.66 241.92,293.66 243.01,293.66 244.09,293.66 245.18,293.66 246.27,293.66 247.35,293.66 248.44,293.66 249.53,293.66 250.61,293.66 251.70,293.66 252.78,293.66 253.87,293.66 254.96,293.66 256.04,293.66 257.13,293.66 258.22,293.66 259.30,293.66 260.39,293.66 261.48,293.66 262.56,293.66 263.65,293.66 264.73,293.66 265.82,293.66 266.91,293.66 267.99,293.66 269.08,293.66 270.16,293.66 271.25,293.66 272.34,293.66 273.42,293.66 274.51,293.66 275.60,293.66 276.68,293.66 277.77,293.66 278.86,293.66 279.94,293.66 281.03,293.66 282.11,293.66 283.20,293.66 284.29,293.66 285.37,293.66 286.46,293.66 287.55,293.66 288.63,293.66 289.72,293.66 290.80,293.66 291.89,293.66 292.98,293.66 294.06,293.66 295.15,293.66 296.24,293.66 297.32,293.66 298.41,293.66 299.49,293.66 300.58,293.66 301.67,293.66 302.75,293.66 303.84,293.66 304.93,293.66 306.01,293.66 307.10,293.66 308.18,293.66 309.27,293.66 310.36,293.66 311.44,293.66 312.53,293.66 313.62,293.66 314.70,293.66 315.79,293.66 316.87,293.66 317.96,293.66 319.05,293.66 320.13,293.66 321.22,293.66 322.31,293.66 323.39,293.66 324.48,293.66 325.56,293.66 326.65,293.66 327.74,293.66 328.82,293.66 329.91,293.66 331.00,293.66 332.08,293.66 333.17,293.66 334.25,293.66 335.34,293.66 336.43,293.66 337.51,293.66 338.60,293.66 339.68,293.66 340.77,293.66 341.86,293.66 342.94,293.66 344.03,293.66 345.12,293.66 346.20,293.66 347.29,293.66 348.38,293.66 349.46,293.66 350.55,293.66 351.63,293.66 352.72,293.66 353.81,293.66 354.89,293.66 355.98,293.66 357.06,293.66 358.15,293.66 359.24,293.66 360.32,293.66 361.41,293.66 362.50,293.66 363.58,293.66 364.67,293.66 365.75,293.66 366.84,293.66 367.93,293.66 369.01,293.66 370.10,293.66" fill="none" stroke="#e41f26" stroke-width="1.3" />
<polyline points="239.75,293.66 240.84,293.66 241.92,293.66 243.01,293.66 244.09,293.66 245.18,293.66 246.27,293.66 247.35,293.66 248.44,293.66 249.53,293.66 250.61,293.66 251.70,293.66 252.78,293.66 253.87,293.66 254.96,293.66 256.04,293.66 257.13,293.66 258.22,293.66 259.30,293.66 260.39,293.66 261.48,293.66 262.56,293.66 263.65,293.66 264.73,293.66 265.82,293.66 266.91,293.66 267.99,293.66 269.08,293.66 270.16,293.66 271.25,293.66 272.34,293.66 273.42,293.66 274.51,293.66 275.60,293.66 276.68,293.66 277.77,293.66 278.86,293.66 279.94,293.66 281.03,293.66 282.11,293.66 283.20,293.66 284.29,293.66 285.37,293.66 286.46,293.66 287.55,293.66 288.63,293.66 289.72,293.66 290.80,293.66 291.89,293.66 292.98,293.66 294.06,293.66 295.15,293.66 296.24,293.66 297.32,293.66 298.41,293.66 299.49,293.66 300.58,293.66 301.67,293.66 302.75,293.66 303.84,293.66 304.93,293.66 306.01,293.66 307.10,293.66 308.18,293.66 309.27,293.66 310.36,293.66 311.44,293.66 312.53,293.66 313.62,293.66 314.70,293.66 315.79,293.66 316.87,293.66 317.96,293.66 319.05,293.66 320.13,293.66 321.22,293.66 322.31,293.66 323.39,293.66 324.48,293.66 325.56,293.66 326.65,293.66 327.74,293.66 328.82,293.66 329.91,293.66 331.00,293.66 332.08,293.66 333.17,293.66 334.25,293.66 335.34,293.66 336.43,293.66 337.51,293.66 338.60,293.66 339.68,293.66 340.77,293.66 341.86,293.66 342.94,293.66 344.03,293.66 345.12,293.66 346.20,293.66 347.29,299.64 348.38,299.64 349.46,299.64 350.55,299.64 351.63,299.64 352.72,299.64 353.81,299.64 354.89,299.64 355.98,299.64 357.06,299.64 358.15,299.64 359.24,299.64 360.32,299.64 361.41,299.64 362.50,299.64 363.58,299.64 364.67,299.64 365.75,299.64 366.84,299.64 367.93,299.64 369.01,299.64 370.10,299.64" fill="none" stroke="#1f4e9f" stroke-width="1.3" />
<polygon points="239.75,289.32 237.75,291.82 239.75,294.32 241.75,291.82" fill="#f08a23" stroke="none" stroke-width="1"/>
<polygon points="251.60,292.08 249.60,294.58 251.60,297.08 253.60,294.58" fill="#f08a23" stroke="none" stroke-width="1"/>
<polygon points="263.45,294.84 261.45,297.34 263.45,299.84 265.45,297.34" fill="#f08a23" stroke="none" stroke-width="1"/>
<line x1="275.30" y1="299.18" x2="275.30" y2="302.86" stroke="#f08a23" stroke-width="1.0" />
<line x1="273.10" y1="299.18" x2="277.50" y2="299.18" stroke="#f08a23" stroke-width="1.0" />
<line x1="273.10" y1="302.86" x2="277.50" y2="302.86" stroke="#f08a23" stroke-width="1.0" />
<polygon points="275.30,298.52 273.30,301.02 275.30,303.52 277.30,301.02" fill="#f08a23" stroke="none" stroke-width="1"/>
<polygon points="287.15,303.12 285.15,305.62 287.15,308.12 289.15,305.62" fill="#f08a23" stroke="none" stroke-width="1"/>
<line x1="299.00" y1="307.46" x2="299.00" y2="311.14" stroke="#f08a23" stroke-width="1.0" />
<line x1="296.80" y1="307.46" x2="301.20" y2="307.46" stroke="#f08a23" stroke-width="1.0" />
<line x1="296.80" y1="311.14" x2="301.20" y2="311.14" stroke="#f08a23" stroke-width="1.0" />
<polygon points="299.00,306.80 297.00,309.30 299.00,311.80 301.00,309.30" fill="#f08a23" stroke="none" stroke-width="1"/>
<polygon points="310.85,310.94 308.85,313.44 310.85,315.94 312.85,313.44" fill="#f08a23" stroke="none" stroke-width="1"/>
<line x1="322.70" y1="313.72" x2="322.70" y2="319.24" stroke="#f08a23" stroke-width="1.0" />
<line x1="320.50" y1="313.72" x2="324.90" y2="313.72" stroke="#f08a23" stroke-width="1.0" />
<line x1="320.50" y1="319.24" x2="324.90" y2="319.24" stroke="#f08a23" stroke-width="1.0" />
<polygon points="322.70,313.98 320.70,316.48 322.70,318.98 324.70,316.48" fill="#f08a23" stroke="none" stroke-width="1"/>
<line x1="334.55" y1="315.56" x2="334.55" y2="321.08" stroke="#f08a23" stroke-width="1.0" />
<line x1="332.35" y1="315.56" x2="336.75" y2="315.56" stroke="#f08a23" stroke-width="1.0" />
<line x1="332.35" y1="321.08" x2="336.75" y2="321.08" stroke="#f08a23" stroke-width="1.0" />
<polygon points="334.55,315.82 332.55,318.32 334.55,320.82 336.55,318.32" fill="#f08a23" stroke="none" stroke-width="1"/>
<line x1="346.40" y1="316.66" x2="346.40" y2="322.18" stroke="#f08a23" stroke-width="1.0" />
<line x1="344.20" y1="316.66" x2="348.60" y2="316.66" stroke="#f08a23" stroke-width="1.0" />
<line x1="344.20" y1="322.18" x2="348.60" y2="322.18" stroke="#f08a23" stroke-width="1.0" />
<polygon points="346.40,316.92 344.40,319.42 346.40,321.92 348.40,319.42" fill="#f08a23" stroke="none" stroke-width="1"/>
<line x1="358.25" y1="317.30" x2="358.25" y2="322.82" stroke="#f08a23" stroke-width="1.0" />
<line x1="356.05" y1="317.30" x2="360.45" y2="317.30" stroke="#f08a23" stroke-width="1.0" />
<line x1="356.05" y1="322.82" x2="360.45" y2="322.82" stroke="#f08a23" stroke-width="1.0" />
<polygon points="358.25,317.56 356.25,320.06 358.25,322.56 360.25,320.06" fill="#f08a23" stroke="none" stroke-width="1"/>
<line x1="370.10" y1="312.98" x2="370.10" y2="318.50" stroke="#f08a23" stroke-width="1.0" />
<line x1="367.90" y1="312.98" x2="372.30" y2="312.98" stroke="#f08a23" stroke-width="1.0" />
<line x1="367.90" y1="318.50" x2="372.30" y2="318.50" stroke="#f08a23" stroke-width="1.0" />
<polygon points="370.10,313.24 368.10,315.74 370.10,318.24 372.10,315.74" fill="#f08a23" stroke="none" stroke-width="1"/>
<polygon points="239.75,288.50 237.45,292.70 242.05,292.70" fill="#3ab54a" stroke="none" stroke-width="1"/>
<line x1="251.60" y1="286.30" x2="251.60" y2="304.70" stroke="#3ab54a" stroke-width="1.0" />
<line x1="249.40" y1="286.30" x2="253.80" y2="286.30" stroke="#3ab54a" stroke-width="1.0" />
<line x1="249.40" y1="304.70" x2="253.80" y2="304.70" stroke="#3ab54a" stroke-width="1.0" />
<polygon points="251.60,293.10 249.30,297.30 253.90,297.30" fill="#3ab54a" stroke="none" stroke-width="1"/>
<line x1="263.45" y1="286.30" x2="263.45" y2="302.86" stroke="#3ab54a" stroke-width="1.0" />
<line x1="261.25" y1="286.30" x2="265.65" y2="286.30" stroke="#3ab54a" stroke-width="1.0" />
<line x1="261.25" y1="302.86" x2="265.65" y2="302.86" stroke="#3ab54a" stroke-width="1.0" />
<polygon points="263.45,292.18 261.15,296.38 265.75,296.38" fill="#3ab54a" stroke="none" stroke-width="1"/>
<line x1="275.30" y1="288.14" x2="275.30" y2="304.70" stroke="#3ab54a" stroke-width="1.0" />
<line x1="273.10" y1="288.14" x2="277.50" y2="288.14" stroke="#3ab54a" stroke-width="1.0" />
<line x1="273.10" y1="304.70" x2="277.50" y2="304.70" stroke="#3ab54a" stroke-width="1.0" />
<polygon points="275.30,294.02 273.00,298.22 277.60,298.22" fill="#3ab54a" stroke="none" stroke-width="1"/>
<line x1="287.15" y1="287.22" x2="287.15" y2="303.78" stroke="#3ab54a" stroke-width="1.0" />
<line x1="284.95" y1="287.22" x2="289.35" y2="287.22" stroke="#3ab54a" stroke-width="1.0" />
<line x1="284.95" y1="303.78" x2="289.35" y2="303.78" stroke="#3ab54a" stroke-width="1.0" />
<polygon points="287.15,293.10 284.85,297.30 289.45,297.30" fill="#3ab54a" stroke="none" stroke-width="1"/>
<line x1="299.00" y1="287.22" x2="299.00" y2="303.78" stroke="#3ab54a" stroke-width="1.0" />
<line x1="296.80" y1="287.22" x2="301.20" y2="287.22" stroke="#3ab54a" stroke-width="1.0" />
<line x1="296.80" y1="303.78" x2="301.20" y2="303.78" stroke="#3ab54a" stroke-width="1.0" />
<polygon points="299.00,293.10 296.70,297.30 301.30,297.30" fill="#3ab54a" stroke="none" stroke-width="1"/>
<line x1="310.85" y1="286.30" x2="310.85" y2="302.86" stroke="#3ab54a" stroke-width="1.0" />
<line x1="308.65" y1="286.30" x2="313.05" y2="286.30" stroke="#3ab54a" stroke-width="1.0" />
<line x1="308.65" y1="302.86" x2="313.05" y2="302.86" stroke="#3ab54a" stroke-width="1.0" />
<polygon points="310.85,292.18 308.55,296.38 313.15,296.38" fill="#3ab54a" stroke="none" stroke-width="1"/>
<line x1="322.70" y1="283.54" x2="322.70" y2="298.26" stroke="#3ab54a" stroke-width="1.0" />
<line x1="320.50" y1="283.54" x2="324.90" y2="283.54" stroke="#3ab54a" stroke-width="1.0" />
<line x1="320.50" y1="298.26" x2="324.90" y2="298.26" stroke="#3ab54a" stroke-width="1.0" />
<polygon points="322.70,288.50 320.40,292.70 325.00,292.70" fill="#3ab54a" stroke="none" stroke-width="1"/>
<line x1="334.55" y1="278.94" x2="334.55" y2="295.50" stroke="#3ab54a" stroke-width="1.0" />
<line x1="332.35" y1="278.94" x2="336.75" y2="278.94" stroke="#3ab54a" stroke-width="1.0" />
<line x1="332.35" y1="295.50" x2="336.75" y2="295.50" stroke="#3ab54a" stroke-width="1.0" />
<polygon points="334.55,284.82 332.25,289.02 336.85,289.02" fill="#3ab54a" stroke="none" stroke-width="1"/>
<line x1="346.40" y1="288.14" x2="346.40" y2="302.86" stroke="#3ab54a" stroke-width="1.0" />
<line x1="344.20" y1="288.14" x2="348.60" y2="288.14" stroke="#3ab54a" stroke-width="1.0" />
<line x1="344.20" y1="302.86" x2="348.60" y2="302.86" stroke="#3ab54a" stroke-width="1.0" />
<polygon points="346.40,293.10 344.10,297.30 348.70,297.30" fill="#3ab54a" stroke="none" stroke-width="1"/>
<line x1="358.25" y1="289.98" x2="358.25" y2="304.70" stroke="#3ab54a" stroke-width="1.0" />
<line x1="356.05" y1="289.98" x2="360.45" y2="289.98" stroke="#3ab54a" stroke-width="1.0" />
<line x1="356.05" y1="304.70" x2="360.45" y2="304.70" stroke="#3ab54a" stroke-width="1.0" />
<polygon points="358.25,294.94 355.95,299.14 360.55,299.14" fill="#3ab54a" stroke="none" stroke-width="1"/>
<line x1="370.10" y1="305.62" x2="370.10" y2="312.98" stroke="#3ab54a" stroke-width="1.0" />
<line x1="367.90" y1="305.62" x2="372.30" y2="305.62" stroke="#3ab54a" stroke-width="1.0" />
<line x1="367.90" y1="312.98" x2="372.30" y2="312.98" stroke="#3ab54a" stroke-width="1.0" />
<polygon points="370.10,306.90 367.80,311.10 372.40,311.10" fill="#3ab54a" stroke="none" stroke-width="1"/>
<polygon points="239.75,293.30 237.45,289.10 242.05,289.10" fill="#7e3f98" stroke="none" stroke-width="1"/>
<line x1="251.60" y1="293.66" x2="251.60" y2="297.34" stroke="#7e3f98" stroke-width="1.0" />
<line x1="249.40" y1="293.66" x2="253.80" y2="293.66" stroke="#7e3f98" stroke-width="1.0" />
<line x1="249.40" y1="297.34" x2="253.80" y2="297.34" stroke="#7e3f98" stroke-width="1.0" />
<polygon points="251.60,297.90 249.30,293.70 253.90,293.70" fill="#7e3f98" stroke="none" stroke-width="1"/>
<line x1="263.45" y1="293.66" x2="263.45" y2="297.34" stroke="#7e3f98" stroke-width="1.0" />
<line x1="261.25" y1="293.66" x2="265.65" y2="293.66" stroke="#7e3f98" stroke-width="1.0" />
<line x1="261.25" y1="297.34" x2="265.65" y2="297.34" stroke="#7e3f98" stroke-width="1.0" />
<polygon points="263.45,297.90 261.15,293.70 265.75,293.70" fill="#7e3f98" stroke="none" stroke-width="1"/>
<line x1="275.30" y1="293.66" x2="275.30" y2="297.34" stroke="#7e3f98" stroke-width="1.0" />
<line x1="273.10" y1="293.66" x2="277.50" y2="293.66" stroke="#7e3f98" stroke-width="1.0" />
<line x1="273.10" y1="297.34" x2="277.50" y2="297.34" stroke="#7e3f98" stroke-width="1.0" />
<polygon points="275.30,297.90 273.00,293.70 277.60,293.70" fill="#7e3f98" stroke="none" stroke-width="1"/>
<line x1="287.15" y1="293.66" x2="287.15" y2="297.34" stroke="#7e3f98" stroke-width="1.0" />
<line x1="284.95" y1="293.66" x2="289.35" y2="293.66" stroke="#7e3f98" stroke-width="1.0" />
<line x1="284.95" y1="297.34" x2="289.35" y2="297.34" stroke="#7e3f98" stroke-width="1.0" />
<polygon points="287.15,297.90 284.85,293.70 289.45,293.70" fill="#7e3f98" stroke="none" stroke-width="1"/>
<line x1="299.00" y1="293.66" x2="299.00" y2="297.34" stroke="#7e3f98" stroke-width="1.0" />
<line x1="296.80" y1="293.66" x2="301.20" y2="293.66" stroke="#7e3f98" stroke-width="1.0" />
<line x1="296.80" y1="297.34" x2="301.20" y2="297.34" stroke="#7e3f98" stroke-width="1.0" />
<polygon points="299.00,297.90 296.70,293.70 301.30,293.70" fill="#7e3f98" stroke="none" stroke-width="1"/>
<line x1="310.85" y1="291.82" x2="310.85" y2="295.50" stroke="#7e3f98" stroke-width="1.0" />
<line x1="308.65" y1="291.82" x2="313.05" y2="291.82" stroke="#7e3f98" stroke-width="1.0" />
<line x1="308.65" y1="295.50" x2="313.05" y2="295.50" stroke="#7e3f98" stroke-width="1.0" />
<polygon points="310.85,296.06 308.55,291.86 313.15,291.86" fill="#7e3f98" stroke="none" stroke-width="1"/>
<line x1="322.70" y1="282.62" x2="322.70" y2="288.14" stroke="#7e3f98" stroke-width="1.0" />
<line x1="320.50" y1="282.62" x2="324.90" y2="282.62" stroke="#7e3f98" stroke-width="1.0" />
<line x1="320.50" y1="288.14" x2="324.90" y2="288.14" stroke="#7e3f98" stroke-width="1.0" />
<polygon points="322.70,287.78 320.40,283.58 325.00,283.58" fill="#7e3f98" stroke="none" stroke-width="1"/>
<line x1="334.55" y1="278.94" x2="334.55" y2="284.46" stroke="#7e3f98" stroke-width="1.0" />
<line x1="332.35" y1="278.94" x2="336.75" y2="278.94" stroke="#7e3f98" stroke-width="1.0" />
<line x1="332.35" y1="284.46" x2="336.75" y2="284.46" stroke="#7e3f98" stroke-width="1.0" />
<polygon points="334.55,284.10 332.25,279.90 336.85,279.90" fill="#7e3f98" stroke="none" stroke-width="1"/>
<line x1="346.40" y1="291.82" x2="346.40" y2="295.50" stroke="#7e3f98" stroke-width="1.0" />
<line x1="344.20" y1="291.82" x2="348.60" y2="291.82" stroke="#7e3f98" stroke-width="1.0" />
<line x1="344.20" y1="295.50" x2="348.60" y2="295.50" stroke="#7e3f98" stroke-width="1.0" />
<polygon points="346.40,296.06 344.10,291.86 348.70,291.86" fill="#7e3f98" stroke="none" stroke-width="1"/>
<line x1="358.25" y1="293.66" x2="358.25" y2="297.34" stroke="#7e3f98" stroke-width="1.0" />
<line x1="356.05" y1="293.66" x2="360.45" y2="293.66" stroke="#7e3f98" stroke-width="1.0" />
<line x1="356.05" y1="297.34" x2="360.45" y2="297.34" stroke="#7e3f98" stroke-width="1.0" />
<polygon points="358.25,297.90 355.95,293.70 360.55,293.70" fill="#7e3f98" stroke="none" stroke-width="1"/>
<line x1="370.10" y1="296.42" x2="370.10" y2="300.10" stroke="#7e3f98" stroke-width="1.0" />
<line x1="367.90" y1="296.42" x2="372.30" y2="296.42" stroke="#7e3f98" stroke-width="1.0" />
<line x1="367.90" y1="300.10" x2="372.30" y2="300.10" stroke="#7e3f98" stroke-width="1.0" />
<polygon points="370.10,300.66 367.80,296.46 372.40,296.46" fill="#7e3f98" stroke="none" stroke-width="1"/>
<rect x="237.75" y="288.90" width="4.00" height="4.00" fill="#e41f26" stroke="none" stroke-width="1" />
<line x1="251.60" y1="291.82" x2="251.60" y2="295.50" stroke="#e41f26" stroke-width="1.0" />
<line x1="249.40" y1="291.82" x2="253.80" y2="291.82" stroke="#e41f26" stroke-width="1.0" />
<line x1="249.40" y1="295.50" x2="253.80" y2="295.50" stroke="#e41f26" stroke-width="1.0" />
<rect x="249.60" y="291.66" width="4.00" height="4.00" fill="#e41f26" stroke="none" stroke-width="1" />
<line x1="263.45" y1="291.82" x2="263.45" y2="295.50" stroke="#e41f26" stroke-width="1.0" />
<line x1="261.25" y1="291.82" x2="265.65" y2="291.82" stroke="#e41f26" stroke-width="1.0" />
<line x1="261.25" y1="295.50" x2="265.65" y2="295.50" stroke="#e41f26" stroke-width="1.0" />
<rect x="261.45" y="291.66" width="4.00" height="4.00" fill="#e41f26" stroke="none" stroke-width="1" />
<line x1="275.30" y1="293.66" x2="275.30" y2="297.34" stroke="#e41f26" stroke-width="1.0" />
<line x1="273.10" y1="293.66" x2="277.50" y2="293.66" stroke="#e41f26" stroke-width="1.0" />
<line x1="273.10" y1="297.34" x2="277.50" y2="297.34" stroke="#e41f26" stroke-width="1.0" />
<rect x="273.30" y="293.50" width="4.00" height="4.00" fill="#e41f26" stroke="none" stroke-width="1" />
<line x1="287.15" y1="293.66" x2="287.15" y2="297.34" stroke="#e41f26" stroke-width="1.0" />
<line x1="284.95" y1="293.66" x2="289.35" y2="293.66" stroke="#e41f26" stroke-width="1.0" />
<line x1="284.95" y1="297.34" x2="289.35" y2="297.34" stroke="#e41f26" stroke-width="1.0" />
<rect x="285.15" y="293.50" width="4.00" height="4.00" fill="#e41f26" stroke="none" stroke-width="1" />
<line x1="299.00" y1="293.66" x2="299.00" y2="297.34" stroke="#e41f26" stroke-width="1.0" />
<line x1="296.80" y1="293.66" x2="301.20" y2="293.66" stroke="#e41f26" stroke-width="1.0" />
<line x1="296.80" y1="297.34" x2="301.20" y2="297.34" stroke="#e41f26" stroke-width="1.0" />
<rect x="297.00" y="293.50" width="4.00" height="4.00" fill="#e41f26" stroke="none" stroke-width="1" />
<line x1="310.85" y1="291.82" x2="310.85" y2="295.50" stroke="#e41f26" stroke-width="1.0" />
<line x1="308.65" y1="291.82" x2="313.05" y2="291.82" stroke="#e41f26" stroke-width="1.0" />
<line x1="308.65" y1="295.50" x2="313.05" y2="295.50" stroke="#e41f26" stroke-width="1.0" />
<rect x="308.85" y="291.66" width="4.00" height="4.00" fill="#e41f26" stroke="none" stroke-width="1" />
<line x1="322.70" y1="285.38" x2="322.70" y2="290.90" stroke="#e41f26" stroke-width="1.0" />
<line x1="320.50" y1="285.38" x2="324.90" y2="285.38" stroke="#e41f26" stroke-width="1.0" />
<line x1="320.50" y1="290.90" x2="324.90" y2="290.90" stroke="#e41f26" stroke-width="1.0" />
<rect x="320.70" y="286.14" width="4.00" height="4.00" fill="#e41f26" stroke="none" stroke-width="1" />
<line x1="334.55" y1="279.86" x2="334.55" y2="285.38" stroke="#e41f26" stroke-width="1.0" />
<line x1="332.35" y1="279.86" x2="336.75" y2="279.86" stroke="#e41f26" stroke-width="1.0" />
<line x1="332.35" y1="285.38" x2="336.75" y2="285.38" stroke="#e41f26" stroke-width="1.0" />
<rect x="332.55" y="280.62" width="4.00" height="4.00" fill="#e41f26" stroke="none" stroke-width="1" />
<line x1="346.40" y1="291.82" x2="346.40" y2="295.50" stroke="#e41f26" stroke-width="1.0" />
<line x1="344.20" y1="291.82" x2="348.60" y2="291.82" stroke="#e41f26" stroke-width="1.0" />
<line x1="344.20" y1="295.50" x2="348.60" y2="295.50" stroke="#e41f26" stroke-width="1.0" />
<rect x="344.40" y="291.66" width="4.00" height="4.00" fill="#e41f26" stroke="none" stroke-width="1" />
<line x1="358.25" y1="291.82" x2="358.25" y2="295.50" stroke="#e41f26" stroke-width="1.0" />
<line x1="356.05" y1="291.82" x2="360.45" y2="291.82" stroke="#e41f26" stroke-width="1.0" />
<line x1="356.05" y1="295.50" x2="360.45" y2="295.50" stroke="#e41f26" stroke-width="1.0" />
<rect x="356.25" y="291.66" width="4.00" height="4.00" fill="#e41f26" stroke="none" stroke-width="1" />
<line x1="370.10" y1="296.42" x2="370.10" y2="300.10" stroke="#e41f26" stroke-width="1.0" />
<line x1="367.90" y1="296.42" x2="372.30" y2="296.42" stroke="#e41f26" stroke-width="1.0" />
<line x1="367.90" y1="300.10" x2="372.30" y2="300.10" stroke="#e41f26" stroke-width="1.0" />
<rect x="368.10" y="296.26" width="4.00" height="4.00" fill="#e41f26" stroke="none" stroke-width="1" />
<circle cx="239.75" cy="290.90" r="2.1" fill="#1f4e9f" stroke="none" stroke-width="1"/>
<line x1="251.60" y1="294.58" x2="251.60" y2="298.26" stroke="#1f4e9f" stroke-width="1.0" />
<line x1="249.40" y1="294.58" x2="253.80" y2="294.58" stroke="#1f4e9f" stroke-width="1.0" />
<line x1="249.40" y1="298.26" x2="253.80" y2="298.26" stroke="#1f4e9f" stroke-width="1.0" />
<circle cx="251.60" cy="296.42" r="2.1" fill="#1f4e9f" stroke="none" stroke-width="1"/>
<line x1="263.45" y1="296.42" x2="263.45" y2="300.10" stroke="#1f4e9f" stroke-width="1.0" />
<line x1="261.25" y1="296.42" x2="265.65" y2="296.42" stroke="#1f4e9f" stroke-width="1.0" />
<line x1="261.25" y1="300.10" x2="265.65" y2="300.10" stroke="#1f4e9f" stroke-width="1.0" />
<circle cx="263.45" cy="298.26" r="2.1" fill="#1f4e9f" stroke="none" stroke-width="1"/>
<line x1="275.30" y1="294.58" x2="275.30" y2="298.26" stroke="#1f4e9f" stroke-width="1.0" />
<line x1="273.10" y1="294.58" x2="277.50" y2="294.58" stroke="#1f4e9f" stroke-width="1.0" />
<line x1="273.10" y1="298.26" x2="277.50" y2="298.26" stroke="#1f4e9f" stroke-width="1.0" />
<circle cx="275.30" cy="296.42" r="2.1" fill="#1f4e9f" stroke="none" stroke-width="1"/>
<line x1="287.15" y1="295.50" x2="287.15" y2="299.18" stroke="#1f4e9f" stroke-width="1.0" />
<line x1="284.95" y1="295.50" x2="289.35" y2="295.50" stroke="#1f4e9f" stroke-width="1.0" />
<line x1="284.95" y1="299.18" x2="289.35" y2="299.18" stroke="#1f4e9f" stroke-width="1.0" />
<circle cx="287.15" cy="297.34" r="2.1" fill="#1f4e9f" stroke="none" stroke-width="1"/>
<line x1="299.00" y1="295.50" x2="299.00" y2="299.18" stroke="#1f4e9f" stroke-width="1.0" />
<line x1="296.80" y1="295.50" x2="301.20" y2="295.50" stroke="#1f4e9f" stroke-width="1.0" />
<line x1="296.80" y1="299.18" x2="301.20" y2="299.18" stroke="#1f4e9f" stroke-width="1.0" />
<circle cx="299.00" cy="297.34" r="2.1" fill="#1f4e9f" stroke="none" stroke-width="1"/>
<line x1="310.85" y1="292.74" x2="310.85" y2="296.42" stroke="#1f4e9f" stroke-width="1.0" />
<line x1="308.65" y1="292.74" x2="313.05" y2="292.74" stroke="#1f4e9f" stroke-width="1.0" />
<line x1="308.65" y1="296.42" x2="313.05" y2="296.42" stroke="#1f4e9f" stroke-width="1.0" />
<circle cx="310.85" cy="294.58" r="2.1" fill="#1f4e9f" stroke="none" stroke-width="1"/>
<line x1="322.70" y1="281.70" x2="322.70" y2="287.22" stroke="#1f4e9f" stroke-width="1.0" />
<line x1="320.50" y1="281.70" x2="324.90" y2="281.70" stroke="#1f4e9f" stroke-width="1.0" />
<line x1="320.50" y1="287.22" x2="324.90" y2="287.22" stroke="#1f4e9f" stroke-width="1.0" />
<circle cx="322.70" cy="284.46" r="2.1" fill="#1f4e9f" stroke="none" stroke-width="1"/>
<line x1="334.55" y1="284.46" x2="334.55" y2="289.98" stroke="#1f4e9f" stroke-width="1.0" />
<line x1="332.35" y1="284.46" x2="336.75" y2="284.46" stroke="#1f4e9f" stroke-width="1.0" />
<line x1="332.35" y1="289.98" x2="336.75" y2="289.98" stroke="#1f4e9f" stroke-width="1.0" />
<circle cx="334.55" cy="287.22" r="2.1" fill="#1f4e9f" stroke="none" stroke-width="1"/>
<line x1="346.40" y1="295.50" x2="346.40" y2="299.18" stroke="#1f4e9f" stroke-width="1.0" />
<line x1="344.20" y1="295.50" x2="348.60" y2="295.50" stroke="#1f4e9f" stroke-width="1.0" />
<line x1="344.20" y1="299.18" x2="348.60" y2="299.18" stroke="#1f4e9f" stroke-width="1.0" />
<circle cx="346.40" cy="297.34" r="2.1" fill="#1f4e9f" stroke="none" stroke-width="1"/>
<line x1="358.25" y1="297.34" x2="358.25" y2="301.02" stroke="#1f4e9f" stroke-width="1.0" />
<line x1="356.05" y1="297.34" x2="360.45" y2="297.34" stroke="#1f4e9f" stroke-width="1.0" />
<line x1="356.05" y1="301.02" x2="360.45" y2="301.02" stroke="#1f4e9f" stroke-width="1.0" />
<circle cx="358.25" cy="299.18" r="2.1" fill="#1f4e9f" stroke="none" stroke-width="1"/>
<line x1="370.10" y1="298.26" x2="370.10" y2="301.94" stroke="#1f4e9f" stroke-width="1.0" />
<line x1="367.90" y1="298.26" x2="372.30" y2="298.26" stroke="#1f4e9f" stroke-width="1.0" />
<line x1="367.90" y1="301.94" x2="372.30" y2="301.94" stroke="#1f4e9f" stroke-width="1.0" />
<circle cx="370.10" cy="300.10" r="2.1" fill="#1f4e9f" stroke="none" stroke-width="1"/>
<text transform="translate(471.30,262.00) scale(1,1.05)" font-size="11.5" text-anchor="start" fill="#231f20" >KYM-1</text>
<line x1="427.20" y1="265.90" x2="427.20" y2="384.90" stroke="#231f20" stroke-width="1.3" />
<line x1="426.60" y1="384.30" x2="567.00" y2="384.30" stroke="#231f20" stroke-width="1.3" />
<line x1="423.60" y1="290.40" x2="427.20" y2="290.40" stroke="#231f20" stroke-width="1.2" />
<text transform="translate(422.80,294.40) scale(1,1.05)" font-size="11.5" text-anchor="end" fill="#231f20" >100</text>
<line x1="423.60" y1="337.35" x2="427.20" y2="337.35" stroke="#231f20" stroke-width="1.2" />
<text transform="translate(422.80,341.35) scale(1,1.05)" font-size="11.5" text-anchor="end" fill="#231f20" >50</text>
<line x1="423.60" y1="384.30" x2="427.20" y2="384.30" stroke="#231f20" stroke-width="1.2" />
<text transform="translate(422.80,388.30) scale(1,1.05)" font-size="11.5" text-anchor="end" fill="#231f20" >0</text>
<line x1="443.00" y1="384.30" x2="443.00" y2="387.90" stroke="#231f20" stroke-width="1.2" />
<text transform="translate(443.90,398.00) scale(1,1.05)" font-size="11.5" text-anchor="middle" fill="#231f20" >1</text>
<line x1="436.20" y1="393.90" x2="440.60" y2="393.90" stroke="#231f20" stroke-width="1.25" />
<line x1="483.30" y1="384.30" x2="483.30" y2="387.90" stroke="#231f20" stroke-width="1.2" />
<text transform="translate(483.30,398.00) scale(1,1.05)" font-size="11.5" text-anchor="middle" fill="#231f20" >0</text>
<line x1="523.60" y1="384.30" x2="523.60" y2="387.90" stroke="#231f20" stroke-width="1.2" />
<text transform="translate(523.60,398.00) scale(1,1.05)" font-size="11.5" text-anchor="middle" fill="#231f20" >1</text>
<line x1="563.90" y1="384.30" x2="563.90" y2="387.90" stroke="#231f20" stroke-width="1.2" />
<text transform="translate(563.90,398.00) scale(1,1.05)" font-size="11.5" text-anchor="middle" fill="#231f20" >2</text>
<text transform="translate(506.90,410.70) scale(1,1.05)" font-size="11.5" text-anchor="middle" fill="#231f20" >Log concentration (nM)</text>
<text x="0" y="0" font-size="11.5" text-anchor="middle" fill="#231f20" transform="translate(389.5,319.5) rotate(-90)">Cell viability percentage %</text>
<polyline points="430.91,295.42 432.02,296.44 433.13,297.60 434.23,298.89 435.34,300.32 436.45,301.88 437.56,303.55 438.67,305.31 439.78,307.14 440.88,309.01 441.99,310.88 443.10,312.72 444.21,314.49 445.32,316.18 446.43,317.76 447.53,319.22 448.64,320.54 449.75,321.72 450.86,322.77 451.97,323.69 453.07,324.49 454.18,325.18 455.29,325.77 456.40,326.28 457.51,326.71 458.62,327.07 459.72,327.37 460.83,327.63 461.94,327.84 463.05,328.02 464.16,328.17 465.27,328.29 466.37,328.40 467.48,328.48 468.59,328.55 469.70,328.61 470.81,328.66 471.92,328.70 473.02,328.74 474.13,328.77 475.24,328.79 476.35,328.81 477.46,328.82 478.56,328.84 479.67,328.85 480.78,328.86 481.89,328.86 483.00,328.87 484.11,328.87 485.21,328.88 486.32,328.88 487.43,328.89 488.54,328.89 489.65,328.89 490.76,328.89 491.86,328.89 492.97,328.89 494.08,328.89 495.19,328.90 496.30,328.90 497.40,328.90 498.51,328.90 499.62,328.90 500.73,328.90 501.84,328.90 502.95,328.90 504.05,328.90 505.16,328.90 506.27,328.90 507.38,328.90 508.49,328.90 509.60,328.90 510.70,328.90 511.81,328.90 512.92,328.90 514.03,328.90 515.14,328.90 516.25,328.90 517.35,328.90 518.46,328.90 519.57,328.90 520.68,328.90 521.79,328.90 522.89,328.90 524.00,328.90 525.11,328.90 526.22,328.90 527.33,328.90 528.44,328.90 529.54,328.90 530.65,328.90 531.76,328.90 532.87,328.90 533.98,328.90 535.09,328.90 536.19,328.90 537.30,328.90 538.41,328.90 539.52,328.90 540.63,328.90 541.74,328.90 542.84,328.90 543.95,328.90 545.06,328.90 546.17,328.90 547.28,328.90 548.38,328.90 549.49,328.90 550.60,328.90 551.71,328.90 552.82,328.90 553.93,328.90 555.03,328.90 556.14,328.90 557.25,328.90 558.36,328.90 559.47,328.90 560.58,328.90 561.68,328.90 562.79,328.90 563.90,328.90" fill="none" stroke="#f08a23" stroke-width="1.3" />
<polyline points="430.91,291.53 432.02,291.53 433.13,291.53 434.23,291.53 435.34,291.53 436.45,291.53 437.56,291.53 438.67,291.53 439.78,291.53 440.88,291.53 441.99,291.53 443.10,291.53 444.21,291.53 445.32,291.53 446.43,291.53 447.53,291.53 448.64,291.53 449.75,291.53 450.86,291.53 451.97,291.53 453.07,291.53 454.18,291.53 455.29,291.53 456.40,291.53 457.51,291.53 458.62,291.53 459.72,291.53 460.83,291.53 461.94,291.53 463.05,291.53 464.16,291.53 465.27,291.53 466.37,291.53 467.48,291.53 468.59,291.53 469.70,291.53 470.81,291.53 471.92,291.53 473.02,291.53 474.13,291.53 475.24,291.53 476.35,291.53 477.46,291.53 478.56,291.53 479.67,291.53 480.78,291.53 481.89,291.53 483.00,291.53 484.11,291.53 485.21,291.53 486.32,291.53 487.43,291.53 488.54,291.53 489.65,291.53 490.76,291.53 491.86,291.53 492.97,291.53 494.08,291.53 495.19,291.53 496.30,291.53 497.40,291.53 498.51,291.53 499.62,291.53 500.73,291.53 501.84,291.53 502.95,291.54 504.05,291.54 505.16,291.54 506.27,291.54 507.38,291.55 508.49,291.55 509.60,291.56 510.70,291.57 511.81,291.58 512.92,291.59 514.03,291.61 515.14,291.63 516.25,291.65 517.35,291.68 518.46,291.72 519.57,291.77 520.68,291.83 521.79,291.90 522.89,291.99 524.00,292.11 525.11,292.25 526.22,292.43 527.33,292.65 528.44,292.92 529.54,293.25 530.65,293.65 531.76,294.15 532.87,294.76 533.98,295.49 535.09,296.37 536.19,297.42 537.30,298.65 538.41,300.09 539.52,301.74 540.63,303.60 541.74,305.68 542.84,307.93 543.95,310.33 545.06,312.83 546.17,315.36 547.28,317.87 548.38,320.31 549.49,322.60 550.60,324.73 551.71,326.65 552.82,328.36 553.93,329.86 555.03,331.14 556.14,332.24 557.25,333.16 558.36,333.93 559.47,334.57 560.58,335.10 561.68,335.53 562.79,335.88 563.90,336.16" fill="none" stroke="#3ab54a" stroke-width="1.3" />
<polyline points="430.91,293.22 432.02,293.22 433.13,293.22 434.23,293.22 435.34,293.22 436.45,293.22 437.56,293.22 438.67,293.22 439.78,293.22 440.88,293.22 441.99,293.22 443.10,293.22 444.21,293.22 445.32,293.22 446.43,293.22 447.53,293.22 448.64,293.22 449.75,293.22 450.86,293.22 451.97,293.22 453.07,293.22 454.18,293.22 455.29,293.22 456.40,293.22 457.51,293.22 458.62,293.22 459.72,293.22 460.83,293.22 461.94,293.22 463.05,293.22 464.16,293.22 465.27,293.22 466.37,293.22 467.48,293.22 468.59,293.22 469.70,293.22 470.81,293.22 471.92,293.22 473.02,293.22 474.13,293.22 475.24,293.22 476.35,293.22 477.46,293.22 478.56,293.22 479.67,293.22 480.78,293.22 481.89,293.22 483.00,293.22 484.11,293.22 485.21,293.22 486.32,293.22 487.43,293.22 488.54,293.22 489.65,293.22 490.76,293.22 491.86,293.22 492.97,293.22 494.08,293.22 495.19,293.22 496.30,293.22 497.40,293.22 498.51,293.22 499.62,293.22 500.73,293.22 501.84,293.22 502.95,293.22 504.05,293.22 505.16,293.22 506.27,293.22 507.38,293.22 508.49,293.22 509.60,293.22 510.70,293.22 511.81,293.22 512.92,293.22 514.03,293.22 515.14,293.22 516.25,293.22 517.35,293.22 518.46,293.22 519.57,293.22 520.68,293.22 521.79,293.23 522.89,293.23 524.00,293.23 525.11,293.24 526.22,293.25 527.33,293.26 528.44,293.27 529.54,293.29 530.65,293.31 531.76,293.34 532.87,293.38 533.98,293.44 535.09,293.51 536.19,293.61 537.30,293.73 538.41,293.90 539.52,294.12 540.63,294.41 541.74,294.78 542.84,295.27 543.95,295.90 545.06,296.70 546.17,297.70 547.28,298.95 548.38,300.47 549.49,302.27 550.60,304.35 551.71,306.67 552.82,309.17 553.93,311.76 555.03,314.35 556.14,316.83 557.25,319.11 558.36,321.14 559.47,322.88 560.58,324.35 561.68,325.55 562.79,326.52 563.90,327.28" fill="none" stroke="#7e3f98" stroke-width="1.3" />
<polyline points="430.91,292.75 432.02,292.75 433.13,292.75 434.23,292.75 435.34,292.75 436.45,292.75 437.56,292.75 438.67,292.75 439.78,292.75 440.88,292.75 441.99,292.75 443.10,292.75 444.21,292.75 445.32,292.75 446.43,292.75 447.53,292.75 448.64,292.75 449.75,292.75 450.86,292.75 451.97,292.75 453.07,292.75 454.18,292.75 455.29,292.75 456.40,292.75 457.51,292.75 458.62,292.75 459.72,292.75 460.83,292.75 461.94,292.75 463.05,292.75 464.16,292.75 465.27,292.75 466.37,292.75 467.48,292.75 468.59,292.75 469.70,292.75 470.81,292.75 471.92,292.75 473.02,292.75 474.13,292.75 475.24,292.75 476.35,292.75 477.46,292.75 478.56,292.75 479.67,292.75 480.78,292.75 481.89,292.75 483.00,292.75 484.11,292.75 485.21,292.75 486.32,292.75 487.43,292.75 488.54,292.75 489.65,292.75 490.76,292.75 491.86,292.75 492.97,292.75 494.08,292.75 495.19,292.75 496.30,292.75 497.40,292.75 498.51,292.75 499.62,292.75 500.73,292.75 501.84,292.75 502.95,292.75 504.05,292.75 505.16,292.75 506.27,292.75 507.38,292.75 508.49,292.75 509.60,292.75 510.70,292.75 511.81,292.75 512.92,292.75 514.03,292.75 515.14,292.75 516.25,292.75 517.35,292.76 518.46,292.76 519.57,292.77 520.68,292.77 521.79,292.78 522.89,292.79 524.00,292.81 525.11,292.83 526.22,292.86 527.33,292.91 528.44,292.96 529.54,293.04 530.65,293.14 531.76,293.27 532.87,293.44 533.98,293.66 535.09,293.93 536.19,294.25 537.30,294.63 538.41,295.04 539.52,295.48 540.63,295.93 541.74,296.35 542.84,296.74 543.95,297.09 545.06,297.37 546.17,297.61 547.28,297.80 548.38,297.94 549.49,298.06 550.60,298.14 551.71,298.20 552.82,298.25 553.93,298.29 555.03,298.31 556.14,298.33 557.25,298.34 558.36,298.35 559.47,298.36 560.58,298.37 561.68,298.37 562.79,298.37 563.90,298.38" fill="none" stroke="#e41f26" stroke-width="1.3" />
<polyline points="430.91,296.03 432.02,296.03 433.13,296.03 434.23,296.03 435.34,296.03 436.45,296.03 437.56,296.03 438.67,296.03 439.78,296.03 440.88,296.03 441.99,296.03 443.10,296.03 444.21,296.03 445.32,296.03 446.43,296.03 447.53,296.03 448.64,296.03 449.75,296.03 450.86,296.03 451.97,296.03 453.07,296.03 454.18,296.03 455.29,296.03 456.40,296.03 457.51,296.03 458.62,296.03 459.72,296.03 460.83,296.03 461.94,296.03 463.05,296.03 464.16,296.03 465.27,296.03 466.37,296.03 467.48,296.03 468.59,296.03 469.70,296.03 470.81,296.03 471.92,296.03 473.02,296.03 474.13,296.03 475.24,296.03 476.35,296.03 477.46,296.03 478.56,296.03 479.67,296.03 480.78,296.03 481.89,296.03 483.00,296.03 484.11,296.03 485.21,296.03 486.32,296.03 487.43,296.03 488.54,296.03 489.65,296.03 490.76,296.03 491.86,296.03 492.97,296.03 494.08,296.03 495.19,296.03 496.30,296.03 497.40,296.03 498.51,296.03 499.62,296.03 500.73,296.03 501.84,296.03 502.95,296.03 504.05,296.03 505.16,296.03 506.27,296.03 507.38,296.03 508.49,296.03 509.60,296.03 510.70,296.03 511.81,296.03 512.92,296.03 514.03,296.03 515.14,296.04 516.25,296.04 517.35,296.04 518.46,296.04 519.57,296.04 520.68,296.04 521.79,296.05 522.89,296.05 524.00,296.06 525.11,296.07 526.22,296.09 527.33,296.12 528.44,296.16 529.54,296.21 530.65,296.29 531.76,296.41 532.87,296.57 533.98,296.80 535.09,297.12 536.19,297.56 537.30,298.14 538.41,298.88 539.52,299.77 540.63,300.80 541.74,301.90 542.84,303.00 543.95,304.03 545.06,304.93 546.17,305.66 547.28,306.24 548.38,306.68 549.49,307.00 550.60,307.24 551.71,307.40 552.82,307.51 553.93,307.59 555.03,307.65 556.14,307.69 557.25,307.71 558.36,307.73 559.47,307.74 560.58,307.75 561.68,307.76 562.79,307.76 563.90,307.77" fill="none" stroke="#1f4e9f" stroke-width="1.3" />
<polygon points="430.91,287.90 428.91,290.40 430.91,292.90 432.91,290.40" fill="#f08a23" stroke="none" stroke-width="1"/>
<line x1="443.00" y1="310.12" x2="443.00" y2="313.87" stroke="#f08a23" stroke-width="1.0" />
<line x1="440.80" y1="310.12" x2="445.20" y2="310.12" stroke="#f08a23" stroke-width="1.0" />
<line x1="440.80" y1="313.87" x2="445.20" y2="313.87" stroke="#f08a23" stroke-width="1.0" />
<polygon points="443.00,309.50 441.00,312.00 443.00,314.50 445.00,312.00" fill="#f08a23" stroke="none" stroke-width="1"/>
<polygon points="455.09,322.64 453.09,325.14 455.09,327.64 457.09,325.14" fill="#f08a23" stroke="none" stroke-width="1"/>
<line x1="467.18" y1="328.43" x2="467.18" y2="332.19" stroke="#f08a23" stroke-width="1.0" />
<line x1="464.98" y1="328.43" x2="469.38" y2="328.43" stroke="#f08a23" stroke-width="1.0" />
<line x1="464.98" y1="332.19" x2="469.38" y2="332.19" stroke="#f08a23" stroke-width="1.0" />
<polygon points="467.18,327.81 465.18,330.31 467.18,332.81 469.18,330.31" fill="#f08a23" stroke="none" stroke-width="1"/>
<line x1="479.27" y1="328.43" x2="479.27" y2="332.19" stroke="#f08a23" stroke-width="1.0" />
<line x1="477.07" y1="328.43" x2="481.47" y2="328.43" stroke="#f08a23" stroke-width="1.0" />
<line x1="477.07" y1="332.19" x2="481.47" y2="332.19" stroke="#f08a23" stroke-width="1.0" />
<polygon points="479.27,327.81 477.27,330.31 479.27,332.81 481.27,330.31" fill="#f08a23" stroke="none" stroke-width="1"/>
<line x1="491.36" y1="328.43" x2="491.36" y2="332.19" stroke="#f08a23" stroke-width="1.0" />
<line x1="489.16" y1="328.43" x2="493.56" y2="328.43" stroke="#f08a23" stroke-width="1.0" />
<line x1="489.16" y1="332.19" x2="493.56" y2="332.19" stroke="#f08a23" stroke-width="1.0" />
<polygon points="491.36,327.81 489.36,330.31 491.36,332.81 493.36,330.31" fill="#f08a23" stroke="none" stroke-width="1"/>
<polygon points="503.45,325.46 501.45,327.96 503.45,330.46 505.45,327.96" fill="#f08a23" stroke="none" stroke-width="1"/>
<polygon points="515.54,319.36 513.54,321.86 515.54,324.36 517.54,321.86" fill="#f08a23" stroke="none" stroke-width="1"/>
<polygon points="527.63,329.69 525.63,332.19 527.63,334.69 529.63,332.19" fill="#f08a23" stroke="none" stroke-width="1"/>
<line x1="539.72" y1="328.43" x2="539.72" y2="332.19" stroke="#f08a23" stroke-width="1.0" />
<line x1="537.52" y1="328.43" x2="541.92" y2="328.43" stroke="#f08a23" stroke-width="1.0" />
<line x1="537.52" y1="332.19" x2="541.92" y2="332.19" stroke="#f08a23" stroke-width="1.0" />
<polygon points="539.72,327.81 537.72,330.31 539.72,332.81 541.72,330.31" fill="#f08a23" stroke="none" stroke-width="1"/>
<line x1="551.81" y1="328.43" x2="551.81" y2="332.19" stroke="#f08a23" stroke-width="1.0" />
<line x1="549.61" y1="328.43" x2="554.01" y2="328.43" stroke="#f08a23" stroke-width="1.0" />
<line x1="549.61" y1="332.19" x2="554.01" y2="332.19" stroke="#f08a23" stroke-width="1.0" />
<polygon points="551.81,327.81 549.81,330.31 551.81,332.81 553.81,330.31" fill="#f08a23" stroke="none" stroke-width="1"/>
<line x1="563.90" y1="322.33" x2="563.90" y2="327.96" stroke="#f08a23" stroke-width="1.0" />
<line x1="561.70" y1="322.33" x2="566.10" y2="322.33" stroke="#f08a23" stroke-width="1.0" />
<line x1="561.70" y1="327.96" x2="566.10" y2="327.96" stroke="#f08a23" stroke-width="1.0" />
<polygon points="563.90,322.64 561.90,325.14 563.90,327.64 565.90,325.14" fill="#f08a23" stroke="none" stroke-width="1"/>
<polygon points="430.91,288.00 428.61,292.20 433.21,292.20" fill="#3ab54a" stroke="none" stroke-width="1"/>
<line x1="443.00" y1="285.70" x2="443.00" y2="293.22" stroke="#3ab54a" stroke-width="1.0" />
<line x1="440.80" y1="285.70" x2="445.20" y2="285.70" stroke="#3ab54a" stroke-width="1.0" />
<line x1="440.80" y1="293.22" x2="445.20" y2="293.22" stroke="#3ab54a" stroke-width="1.0" />
<polygon points="443.00,287.06 440.70,291.26 445.30,291.26" fill="#3ab54a" stroke="none" stroke-width="1"/>
<line x1="455.09" y1="286.64" x2="455.09" y2="294.16" stroke="#3ab54a" stroke-width="1.0" />
<line x1="452.89" y1="286.64" x2="457.29" y2="286.64" stroke="#3ab54a" stroke-width="1.0" />
<line x1="452.89" y1="294.16" x2="457.29" y2="294.16" stroke="#3ab54a" stroke-width="1.0" />
<polygon points="455.09,288.00 452.79,292.20 457.39,292.20" fill="#3ab54a" stroke="none" stroke-width="1"/>
<line x1="467.18" y1="289.46" x2="467.18" y2="295.10" stroke="#3ab54a" stroke-width="1.0" />
<line x1="464.98" y1="289.46" x2="469.38" y2="289.46" stroke="#3ab54a" stroke-width="1.0" />
<line x1="464.98" y1="295.10" x2="469.38" y2="295.10" stroke="#3ab54a" stroke-width="1.0" />
<polygon points="467.18,289.88 464.88,294.08 469.48,294.08" fill="#3ab54a" stroke="none" stroke-width="1"/>
<line x1="479.27" y1="290.40" x2="479.27" y2="296.03" stroke="#3ab54a" stroke-width="1.0" />
<line x1="477.07" y1="290.40" x2="481.47" y2="290.40" stroke="#3ab54a" stroke-width="1.0" />
<line x1="477.07" y1="296.03" x2="481.47" y2="296.03" stroke="#3ab54a" stroke-width="1.0" />
<polygon points="479.27,290.82 476.97,295.02 481.57,295.02" fill="#3ab54a" stroke="none" stroke-width="1"/>
<line x1="491.36" y1="290.40" x2="491.36" y2="296.03" stroke="#3ab54a" stroke-width="1.0" />
<line x1="489.16" y1="290.40" x2="493.56" y2="290.40" stroke="#3ab54a" stroke-width="1.0" />
<line x1="489.16" y1="296.03" x2="493.56" y2="296.03" stroke="#3ab54a" stroke-width="1.0" />
<polygon points="491.36,290.82 489.06,295.02 493.66,295.02" fill="#3ab54a" stroke="none" stroke-width="1"/>
<line x1="503.45" y1="290.40" x2="503.45" y2="296.03" stroke="#3ab54a" stroke-width="1.0" />
<line x1="501.25" y1="290.40" x2="505.65" y2="290.40" stroke="#3ab54a" stroke-width="1.0" />
<line x1="501.25" y1="296.03" x2="505.65" y2="296.03" stroke="#3ab54a" stroke-width="1.0" />
<polygon points="503.45,290.82 501.15,295.02 505.75,295.02" fill="#3ab54a" stroke="none" stroke-width="1"/>
<line x1="515.54" y1="283.83" x2="515.54" y2="289.46" stroke="#3ab54a" stroke-width="1.0" />
<line x1="513.34" y1="283.83" x2="517.74" y2="283.83" stroke="#3ab54a" stroke-width="1.0" />
<line x1="513.34" y1="289.46" x2="517.74" y2="289.46" stroke="#3ab54a" stroke-width="1.0" />
<polygon points="515.54,284.24 513.24,288.44 517.84,288.44" fill="#3ab54a" stroke="none" stroke-width="1"/>
<line x1="527.63" y1="286.64" x2="527.63" y2="292.28" stroke="#3ab54a" stroke-width="1.0" />
<line x1="525.43" y1="286.64" x2="529.83" y2="286.64" stroke="#3ab54a" stroke-width="1.0" />
<line x1="525.43" y1="292.28" x2="529.83" y2="292.28" stroke="#3ab54a" stroke-width="1.0" />
<polygon points="527.63,287.06 525.33,291.26 529.93,291.26" fill="#3ab54a" stroke="none" stroke-width="1"/>
<line x1="539.72" y1="303.55" x2="539.72" y2="309.18" stroke="#3ab54a" stroke-width="1.0" />
<line x1="537.52" y1="303.55" x2="541.92" y2="303.55" stroke="#3ab54a" stroke-width="1.0" />
<line x1="537.52" y1="309.18" x2="541.92" y2="309.18" stroke="#3ab54a" stroke-width="1.0" />
<polygon points="539.72,303.96 537.42,308.16 542.02,308.16" fill="#3ab54a" stroke="none" stroke-width="1"/>
<line x1="551.81" y1="321.01" x2="551.81" y2="324.77" stroke="#3ab54a" stroke-width="1.0" />
<line x1="549.61" y1="321.01" x2="554.01" y2="321.01" stroke="#3ab54a" stroke-width="1.0" />
<line x1="549.61" y1="324.77" x2="554.01" y2="324.77" stroke="#3ab54a" stroke-width="1.0" />
<polygon points="551.81,320.49 549.51,324.69 554.11,324.69" fill="#3ab54a" stroke="none" stroke-width="1"/>
<line x1="563.90" y1="332.56" x2="563.90" y2="336.32" stroke="#3ab54a" stroke-width="1.0" />
<line x1="561.70" y1="332.56" x2="566.10" y2="332.56" stroke="#3ab54a" stroke-width="1.0" />
<line x1="561.70" y1="336.32" x2="566.10" y2="336.32" stroke="#3ab54a" stroke-width="1.0" />
<polygon points="563.90,332.04 561.60,336.24 566.20,336.24" fill="#3ab54a" stroke="none" stroke-width="1"/>
<polygon points="430.91,292.80 428.61,288.60 433.21,288.60" fill="#7e3f98" stroke="none" stroke-width="1"/>
<line x1="443.00" y1="293.22" x2="443.00" y2="296.97" stroke="#7e3f98" stroke-width="1.0" />
<line x1="440.80" y1="293.22" x2="445.20" y2="293.22" stroke="#7e3f98" stroke-width="1.0" />
<line x1="440.80" y1="296.97" x2="445.20" y2="296.97" stroke="#7e3f98" stroke-width="1.0" />
<polygon points="443.00,297.49 440.70,293.29 445.30,293.29" fill="#7e3f98" stroke="none" stroke-width="1"/>
<line x1="455.09" y1="292.28" x2="455.09" y2="296.03" stroke="#7e3f98" stroke-width="1.0" />
<line x1="452.89" y1="292.28" x2="457.29" y2="292.28" stroke="#7e3f98" stroke-width="1.0" />
<line x1="452.89" y1="296.03" x2="457.29" y2="296.03" stroke="#7e3f98" stroke-width="1.0" />
<polygon points="455.09,296.56 452.79,292.36 457.39,292.36" fill="#7e3f98" stroke="none" stroke-width="1"/>
<line x1="467.18" y1="293.22" x2="467.18" y2="296.97" stroke="#7e3f98" stroke-width="1.0" />
<line x1="464.98" y1="293.22" x2="469.38" y2="293.22" stroke="#7e3f98" stroke-width="1.0" />
<line x1="464.98" y1="296.97" x2="469.38" y2="296.97" stroke="#7e3f98" stroke-width="1.0" />
<polygon points="467.18,297.49 464.88,293.29 469.48,293.29" fill="#7e3f98" stroke="none" stroke-width="1"/>
<line x1="479.27" y1="294.16" x2="479.27" y2="297.91" stroke="#7e3f98" stroke-width="1.0" />
<line x1="477.07" y1="294.16" x2="481.47" y2="294.16" stroke="#7e3f98" stroke-width="1.0" />
<line x1="477.07" y1="297.91" x2="481.47" y2="297.91" stroke="#7e3f98" stroke-width="1.0" />
<polygon points="479.27,298.43 476.97,294.23 481.57,294.23" fill="#7e3f98" stroke="none" stroke-width="1"/>
<line x1="491.36" y1="295.09" x2="491.36" y2="298.85" stroke="#7e3f98" stroke-width="1.0" />
<line x1="489.16" y1="295.09" x2="493.56" y2="295.09" stroke="#7e3f98" stroke-width="1.0" />
<line x1="489.16" y1="298.85" x2="493.56" y2="298.85" stroke="#7e3f98" stroke-width="1.0" />
<polygon points="491.36,299.37 489.06,295.17 493.66,295.17" fill="#7e3f98" stroke="none" stroke-width="1"/>
<line x1="503.45" y1="293.22" x2="503.45" y2="296.97" stroke="#7e3f98" stroke-width="1.0" />
<line x1="501.25" y1="293.22" x2="505.65" y2="293.22" stroke="#7e3f98" stroke-width="1.0" />
<line x1="501.25" y1="296.97" x2="505.65" y2="296.97" stroke="#7e3f98" stroke-width="1.0" />
<polygon points="503.45,297.49 501.15,293.29 505.75,293.29" fill="#7e3f98" stroke="none" stroke-width="1"/>
<line x1="515.54" y1="281.01" x2="515.54" y2="286.64" stroke="#7e3f98" stroke-width="1.0" />
<line x1="513.34" y1="281.01" x2="517.74" y2="281.01" stroke="#7e3f98" stroke-width="1.0" />
<line x1="513.34" y1="286.64" x2="517.74" y2="286.64" stroke="#7e3f98" stroke-width="1.0" />
<polygon points="515.54,286.23 513.24,282.03 517.84,282.03" fill="#7e3f98" stroke="none" stroke-width="1"/>
<line x1="527.63" y1="284.77" x2="527.63" y2="290.40" stroke="#7e3f98" stroke-width="1.0" />
<line x1="525.43" y1="284.77" x2="529.83" y2="284.77" stroke="#7e3f98" stroke-width="1.0" />
<line x1="525.43" y1="290.40" x2="529.83" y2="290.40" stroke="#7e3f98" stroke-width="1.0" />
<polygon points="527.63,289.98 525.33,285.78 529.93,285.78" fill="#7e3f98" stroke="none" stroke-width="1"/>
<line x1="539.72" y1="296.03" x2="539.72" y2="299.79" stroke="#7e3f98" stroke-width="1.0" />
<line x1="537.52" y1="296.03" x2="541.92" y2="296.03" stroke="#7e3f98" stroke-width="1.0" />
<line x1="537.52" y1="299.79" x2="541.92" y2="299.79" stroke="#7e3f98" stroke-width="1.0" />
<polygon points="539.72,300.31 537.42,296.11 542.02,296.11" fill="#7e3f98" stroke="none" stroke-width="1"/>
<line x1="551.81" y1="311.62" x2="551.81" y2="315.38" stroke="#7e3f98" stroke-width="1.0" />
<line x1="549.61" y1="311.62" x2="554.01" y2="311.62" stroke="#7e3f98" stroke-width="1.0" />
<line x1="549.61" y1="315.38" x2="554.01" y2="315.38" stroke="#7e3f98" stroke-width="1.0" />
<polygon points="551.81,315.90 549.51,311.70 554.11,311.70" fill="#7e3f98" stroke="none" stroke-width="1"/>
<line x1="563.90" y1="324.67" x2="563.90" y2="328.43" stroke="#7e3f98" stroke-width="1.0" />
<line x1="561.70" y1="324.67" x2="566.10" y2="324.67" stroke="#7e3f98" stroke-width="1.0" />
<line x1="561.70" y1="328.43" x2="566.10" y2="328.43" stroke="#7e3f98" stroke-width="1.0" />
<polygon points="563.90,328.95 561.60,324.75 566.20,324.75" fill="#7e3f98" stroke="none" stroke-width="1"/>
<rect x="428.91" y="288.40" width="4.00" height="4.00" fill="#e41f26" stroke="none" stroke-width="1" />
<line x1="443.00" y1="295.09" x2="443.00" y2="298.85" stroke="#e41f26" stroke-width="1.0" />
<line x1="440.80" y1="295.09" x2="445.20" y2="295.09" stroke="#e41f26" stroke-width="1.0" />
<line x1="440.80" y1="298.85" x2="445.20" y2="298.85" stroke="#e41f26" stroke-width="1.0" />
<rect x="441.00" y="294.97" width="4.00" height="4.00" fill="#e41f26" stroke="none" stroke-width="1" />
<line x1="455.09" y1="296.03" x2="455.09" y2="299.79" stroke="#e41f26" stroke-width="1.0" />
<line x1="452.89" y1="296.03" x2="457.29" y2="296.03" stroke="#e41f26" stroke-width="1.0" />
<line x1="452.89" y1="299.79" x2="457.29" y2="299.79" stroke="#e41f26" stroke-width="1.0" />
<rect x="453.09" y="295.91" width="4.00" height="4.00" fill="#e41f26" stroke="none" stroke-width="1" />
<line x1="467.18" y1="295.09" x2="467.18" y2="298.85" stroke="#e41f26" stroke-width="1.0" />
<line x1="464.98" y1="295.09" x2="469.38" y2="295.09" stroke="#e41f26" stroke-width="1.0" />
<line x1="464.98" y1="298.85" x2="469.38" y2="298.85" stroke="#e41f26" stroke-width="1.0" />
<rect x="465.18" y="294.97" width="4.00" height="4.00" fill="#e41f26" stroke="none" stroke-width="1" />
<line x1="479.27" y1="296.03" x2="479.27" y2="299.79" stroke="#e41f26" stroke-width="1.0" />
<line x1="477.07" y1="296.03" x2="481.47" y2="296.03" stroke="#e41f26" stroke-width="1.0" />
<line x1="477.07" y1="299.79" x2="481.47" y2="299.79" stroke="#e41f26" stroke-width="1.0" />
<rect x="477.27" y="295.91" width="4.00" height="4.00" fill="#e41f26" stroke="none" stroke-width="1" />
<line x1="491.36" y1="295.09" x2="491.36" y2="300.73" stroke="#e41f26" stroke-width="1.0" />
<line x1="489.16" y1="295.09" x2="493.56" y2="295.09" stroke="#e41f26" stroke-width="1.0" />
<line x1="489.16" y1="300.73" x2="493.56" y2="300.73" stroke="#e41f26" stroke-width="1.0" />
<rect x="489.36" y="295.91" width="4.00" height="4.00" fill="#e41f26" stroke="none" stroke-width="1" />
<line x1="503.45" y1="294.16" x2="503.45" y2="297.91" stroke="#e41f26" stroke-width="1.0" />
<line x1="501.25" y1="294.16" x2="505.65" y2="294.16" stroke="#e41f26" stroke-width="1.0" />
<line x1="501.25" y1="297.91" x2="505.65" y2="297.91" stroke="#e41f26" stroke-width="1.0" />
<rect x="501.45" y="294.03" width="4.00" height="4.00" fill="#e41f26" stroke="none" stroke-width="1" />
<line x1="515.54" y1="284.77" x2="515.54" y2="290.40" stroke="#e41f26" stroke-width="1.0" />
<line x1="513.34" y1="284.77" x2="517.74" y2="284.77" stroke="#e41f26" stroke-width="1.0" />
<line x1="513.34" y1="290.40" x2="517.74" y2="290.40" stroke="#e41f26" stroke-width="1.0" />
<rect x="513.54" y="285.58" width="4.00" height="4.00" fill="#e41f26" stroke="none" stroke-width="1" />
<line x1="527.63" y1="284.77" x2="527.63" y2="290.40" stroke="#e41f26" stroke-width="1.0" />
<line x1="525.43" y1="284.77" x2="529.83" y2="284.77" stroke="#e41f26" stroke-width="1.0" />
<line x1="525.43" y1="290.40" x2="529.83" y2="290.40" stroke="#e41f26" stroke-width="1.0" />
<rect x="525.63" y="285.58" width="4.00" height="4.00" fill="#e41f26" stroke="none" stroke-width="1" />
<line x1="539.72" y1="296.03" x2="539.72" y2="299.79" stroke="#e41f26" stroke-width="1.0" />
<line x1="537.52" y1="296.03" x2="541.92" y2="296.03" stroke="#e41f26" stroke-width="1.0" />
<line x1="537.52" y1="299.79" x2="541.92" y2="299.79" stroke="#e41f26" stroke-width="1.0" />
<rect x="537.72" y="295.91" width="4.00" height="4.00" fill="#e41f26" stroke="none" stroke-width="1" />
<line x1="551.81" y1="296.50" x2="551.81" y2="300.26" stroke="#e41f26" stroke-width="1.0" />
<line x1="549.61" y1="296.50" x2="554.01" y2="296.50" stroke="#e41f26" stroke-width="1.0" />
<line x1="549.61" y1="300.26" x2="554.01" y2="300.26" stroke="#e41f26" stroke-width="1.0" />
<rect x="549.81" y="296.38" width="4.00" height="4.00" fill="#e41f26" stroke="none" stroke-width="1" />
<line x1="563.90" y1="296.60" x2="563.90" y2="300.35" stroke="#e41f26" stroke-width="1.0" />
<line x1="561.70" y1="296.60" x2="566.10" y2="296.60" stroke="#e41f26" stroke-width="1.0" />
<line x1="561.70" y1="300.35" x2="566.10" y2="300.35" stroke="#e41f26" stroke-width="1.0" />
<rect x="561.90" y="296.48" width="4.00" height="4.00" fill="#e41f26" stroke="none" stroke-width="1" />
<circle cx="430.91" cy="290.40" r="2.1" fill="#1f4e9f" stroke="none" stroke-width="1"/>
<line x1="443.00" y1="294.16" x2="443.00" y2="297.91" stroke="#1f4e9f" stroke-width="1.0" />
<line x1="440.80" y1="294.16" x2="445.20" y2="294.16" stroke="#1f4e9f" stroke-width="1.0" />
<line x1="440.80" y1="297.91" x2="445.20" y2="297.91" stroke="#1f4e9f" stroke-width="1.0" />
<circle cx="443.00" cy="296.03" r="2.1" fill="#1f4e9f" stroke="none" stroke-width="1"/>
<line x1="455.09" y1="295.09" x2="455.09" y2="298.85" stroke="#1f4e9f" stroke-width="1.0" />
<line x1="452.89" y1="295.09" x2="457.29" y2="295.09" stroke="#1f4e9f" stroke-width="1.0" />
<line x1="452.89" y1="298.85" x2="457.29" y2="298.85" stroke="#1f4e9f" stroke-width="1.0" />
<circle cx="455.09" cy="296.97" r="2.1" fill="#1f4e9f" stroke="none" stroke-width="1"/>
<line x1="467.18" y1="298.85" x2="467.18" y2="302.61" stroke="#1f4e9f" stroke-width="1.0" />
<line x1="464.98" y1="298.85" x2="469.38" y2="298.85" stroke="#1f4e9f" stroke-width="1.0" />
<line x1="464.98" y1="302.61" x2="469.38" y2="302.61" stroke="#1f4e9f" stroke-width="1.0" />
<circle cx="467.18" cy="300.73" r="2.1" fill="#1f4e9f" stroke="none" stroke-width="1"/>
<line x1="479.27" y1="296.97" x2="479.27" y2="302.61" stroke="#1f4e9f" stroke-width="1.0" />
<line x1="477.07" y1="296.97" x2="481.47" y2="296.97" stroke="#1f4e9f" stroke-width="1.0" />
<line x1="477.07" y1="302.61" x2="481.47" y2="302.61" stroke="#1f4e9f" stroke-width="1.0" />
<circle cx="479.27" cy="299.79" r="2.1" fill="#1f4e9f" stroke="none" stroke-width="1"/>
<line x1="491.36" y1="298.85" x2="491.36" y2="308.24" stroke="#1f4e9f" stroke-width="1.0" />
<line x1="489.16" y1="298.85" x2="493.56" y2="298.85" stroke="#1f4e9f" stroke-width="1.0" />
<line x1="489.16" y1="308.24" x2="493.56" y2="308.24" stroke="#1f4e9f" stroke-width="1.0" />
<circle cx="491.36" cy="303.55" r="2.1" fill="#1f4e9f" stroke="none" stroke-width="1"/>
<line x1="503.45" y1="295.09" x2="503.45" y2="300.73" stroke="#1f4e9f" stroke-width="1.0" />
<line x1="501.25" y1="295.09" x2="505.65" y2="295.09" stroke="#1f4e9f" stroke-width="1.0" />
<line x1="501.25" y1="300.73" x2="505.65" y2="300.73" stroke="#1f4e9f" stroke-width="1.0" />
<circle cx="503.45" cy="297.91" r="2.1" fill="#1f4e9f" stroke="none" stroke-width="1"/>
<line x1="515.54" y1="289.46" x2="515.54" y2="295.10" stroke="#1f4e9f" stroke-width="1.0" />
<line x1="513.34" y1="289.46" x2="517.74" y2="289.46" stroke="#1f4e9f" stroke-width="1.0" />
<line x1="513.34" y1="295.10" x2="517.74" y2="295.10" stroke="#1f4e9f" stroke-width="1.0" />
<circle cx="515.54" cy="292.28" r="2.1" fill="#1f4e9f" stroke="none" stroke-width="1"/>
<line x1="527.63" y1="293.22" x2="527.63" y2="298.85" stroke="#1f4e9f" stroke-width="1.0" />
<line x1="525.43" y1="293.22" x2="529.83" y2="293.22" stroke="#1f4e9f" stroke-width="1.0" />
<line x1="525.43" y1="298.85" x2="529.83" y2="298.85" stroke="#1f4e9f" stroke-width="1.0" />
<circle cx="527.63" cy="296.03" r="2.1" fill="#1f4e9f" stroke="none" stroke-width="1"/>
<line x1="539.72" y1="298.85" x2="539.72" y2="302.61" stroke="#1f4e9f" stroke-width="1.0" />
<line x1="537.52" y1="298.85" x2="541.92" y2="298.85" stroke="#1f4e9f" stroke-width="1.0" />
<line x1="537.52" y1="302.61" x2="541.92" y2="302.61" stroke="#1f4e9f" stroke-width="1.0" />
<circle cx="539.72" cy="300.73" r="2.1" fill="#1f4e9f" stroke="none" stroke-width="1"/>
<line x1="551.81" y1="303.92" x2="551.81" y2="307.68" stroke="#1f4e9f" stroke-width="1.0" />
<line x1="549.61" y1="303.92" x2="554.01" y2="303.92" stroke="#1f4e9f" stroke-width="1.0" />
<line x1="549.61" y1="307.68" x2="554.01" y2="307.68" stroke="#1f4e9f" stroke-width="1.0" />
<circle cx="551.81" cy="305.80" r="2.1" fill="#1f4e9f" stroke="none" stroke-width="1"/>
<line x1="563.90" y1="305.89" x2="563.90" y2="309.65" stroke="#1f4e9f" stroke-width="1.0" />
<line x1="561.70" y1="305.89" x2="566.10" y2="305.89" stroke="#1f4e9f" stroke-width="1.0" />
<line x1="561.70" y1="309.65" x2="566.10" y2="309.65" stroke="#1f4e9f" stroke-width="1.0" />
<circle cx="563.90" cy="307.77" r="2.1" fill="#1f4e9f" stroke="none" stroke-width="1"/>
<line x1="580.10" y1="289.60" x2="591.90" y2="289.60" stroke="#1f4e9f" stroke-width="1.3" />
<circle cx="585.90" cy="289.60" r="1.6800000000000002" fill="#1f4e9f" stroke="none" stroke-width="1"/>
<text transform="translate(596.70,293.40) scale(1,1.05)" font-size="11.5" text-anchor="start" fill="#231f20" >16-5</text>
<line x1="580.10" y1="302.25" x2="591.90" y2="302.25" stroke="#e41f26" stroke-width="1.3" />
<rect x="584.30" y="300.65" width="3.20" height="3.20" fill="#e41f26" stroke="none" stroke-width="1" />
<text transform="translate(596.70,306.05) scale(1,1.05)" font-size="11.5" text-anchor="start" fill="#231f20" >46-3</text>
<line x1="580.10" y1="314.90" x2="591.90" y2="314.90" stroke="#3ab54a" stroke-width="1.3" />
<polygon points="585.90,312.98 584.06,316.34 587.74,316.34" fill="#3ab54a" stroke="none" stroke-width="1"/>
<text transform="translate(596.70,318.70) scale(1,1.05)" font-size="11.5" text-anchor="start" fill="#231f20" >Isotype IgG ADC</text>
<line x1="580.10" y1="327.55" x2="591.90" y2="327.55" stroke="#7e3f98" stroke-width="1.3" />
<polygon points="585.90,329.47 584.06,326.11 587.74,326.11" fill="#7e3f98" stroke="none" stroke-width="1"/>
<text transform="translate(596.70,331.35) scale(1,1.05)" font-size="11.5" text-anchor="start" fill="#231f20" >16-5 ADC</text>
<line x1="580.10" y1="340.20" x2="591.90" y2="340.20" stroke="#f08a23" stroke-width="1.3" />
<polygon points="585.90,338.20 584.30,340.20 585.90,342.20 587.50,340.20" fill="#f08a23" stroke="none" stroke-width="1"/>
<text transform="translate(596.70,344.00) scale(1,1.05)" font-size="11.5" text-anchor="start" fill="#231f20" >46-3 ADC</text>
<text transform="translate(9.00,433.80) scale(1,1.05)" font-size="19" text-anchor="start" fill="#231f20" font-weight="bold">E</text>
<defs><linearGradient id="cbar" x1="0" y1="0" x2="0" y2="1"><stop offset="0" stop-color="#f6f24a"/><stop offset="0.25" stop-color="#f3a733"/><stop offset="0.5" stop-color="#e8312a"/><stop offset="0.75" stop-color="#b01018"/><stop offset="1" stop-color="#3a0508"/></linearGradient></defs>
<rect x="41.40" y="444.20" width="4.20" height="171.30" fill="url(#cbar)" stroke="none" stroke-width="1" />
<line x1="45.60" y1="444.20" x2="48.50" y2="444.20" stroke="#888" stroke-width="0.5" />
<line x1="45.60" y1="452.76" x2="47.30" y2="452.76" stroke="#888" stroke-width="0.5" />
<line x1="45.60" y1="461.33" x2="47.30" y2="461.33" stroke="#888" stroke-width="0.5" />
<line x1="45.60" y1="469.89" x2="47.30" y2="469.89" stroke="#888" stroke-width="0.5" />
<line x1="45.60" y1="478.46" x2="47.30" y2="478.46" stroke="#888" stroke-width="0.5" />
<line x1="45.60" y1="487.02" x2="48.50" y2="487.02" stroke="#888" stroke-width="0.5" />
<line x1="45.60" y1="495.59" x2="47.30" y2="495.59" stroke="#888" stroke-width="0.5" />
<line x1="45.60" y1="504.15" x2="47.30" y2="504.15" stroke="#888" stroke-width="0.5" />
<line x1="45.60" y1="512.72" x2="47.30" y2="512.72" stroke="#888" stroke-width="0.5" />
<line x1="45.60" y1="521.28" x2="47.30" y2="521.28" stroke="#888" stroke-width="0.5" />
<line x1="45.60" y1="529.85" x2="48.50" y2="529.85" stroke="#888" stroke-width="0.5" />
<line x1="45.60" y1="538.41" x2="47.30" y2="538.41" stroke="#888" stroke-width="0.5" />
<line x1="45.60" y1="546.98" x2="47.30" y2="546.98" stroke="#888" stroke-width="0.5" />
<line x1="45.60" y1="555.54" x2="47.30" y2="555.54" stroke="#888" stroke-width="0.5" />
<line x1="45.60" y1="564.11" x2="47.30" y2="564.11" stroke="#888" stroke-width="0.5" />
<line x1="45.60" y1="572.67" x2="48.50" y2="572.67" stroke="#888" stroke-width="0.5" />
<line x1="45.60" y1="581.24" x2="47.30" y2="581.24" stroke="#888" stroke-width="0.5" />
<line x1="45.60" y1="589.81" x2="47.30" y2="589.81" stroke="#888" stroke-width="0.5" />
<line x1="45.60" y1="598.37" x2="47.30" y2="598.37" stroke="#888" stroke-width="0.5" />
<line x1="45.60" y1="606.93" x2="47.30" y2="606.93" stroke="#888" stroke-width="0.5" />
<line x1="45.60" y1="615.50" x2="48.50" y2="615.50" stroke="#888" stroke-width="0.5" />
<text transform="translate(49.50,446.50) scale(1,1.05)" font-size="3.2" text-anchor="start" fill="#777" >3.0</text>
<text transform="translate(49.50,484.00) scale(1,1.05)" font-size="3.2" text-anchor="start" fill="#777" >2.2</text>
<text transform="translate(49.50,521.50) scale(1,1.05)" font-size="3.2" text-anchor="start" fill="#777" >1.6</text>
<text transform="translate(49.50,559.00) scale(1,1.05)" font-size="3.2" text-anchor="start" fill="#777" >1.4</text>
<text transform="translate(49.50,596.50) scale(1,1.05)" font-size="3.2" text-anchor="start" fill="#777" >1.0</text>
<text transform="translate(41.60,439.00) scale(1,1.05)" font-size="3.2" text-anchor="start" fill="#777" >Epi-fluorescence</text>
<text transform="translate(52.50,530.00) scale(1,1.05)" font-size="3.2" text-anchor="start" fill="#777" >×10⁹</text>
<text transform="translate(41.60,623.50) scale(1,1.05)" font-size="3.2" text-anchor="start" fill="#777" >Radiance</text>
<text transform="translate(41.60,627.80) scale(1,1.05)" font-size="3.2" text-anchor="start" fill="#777" >(p/sec/cm²/sr)</text>
<rect x="41.40" y="632.90" width="23.10" height="14.30" fill="#fff" stroke="#999" stroke-width="0.4" />
<text transform="translate(42.50,637.20) scale(1,1.05)" font-size="3.0" text-anchor="start" fill="#777" >Color Scale</text>
<text transform="translate(42.50,641.20) scale(1,1.05)" font-size="3.0" text-anchor="start" fill="#777" >Min = 7.00e8</text>
<text transform="translate(42.50,645.20) scale(1,1.05)" font-size="3.0" text-anchor="start" fill="#777" >Max = 3.00e9</text>
<text transform="translate(92.60,441.80) scale(1,1.05)" font-size="11.5" text-anchor="start" fill="#231f20" >24 hours</text>
<text transform="translate(86.00,460.40) scale(1,1.05)" font-size="11.5" text-anchor="start" fill="#231f20" >143B-EGFP</text>
<text transform="translate(84.10,562.90) scale(1,1.05)" font-size="11.5" text-anchor="start" fill="#231f20" >143B-hMeflin</text>
<rect x="82.20" y="470.20" width="20.90" height="73.10" fill="#3d3d3d" stroke="none" stroke-width="1" />
<clipPath id="cm1"><rect x="82.2" y="470.2" width="20.9" height="73.1"/></clipPath><g clip-path="url(#cm1)">
<rect x="82.3" y="470.2" width="0.7" height="73.1" fill="#555" fill-opacity="0.31"/>
<rect x="84.1" y="470.2" width="0.7" height="73.1" fill="#555" fill-opacity="0.16"/>
<rect x="85.4" y="470.2" width="0.7" height="73.1" fill="#555" fill-opacity="0.21"/>
<rect x="87.0" y="470.2" width="0.7" height="73.1" fill="#555" fill-opacity="0.30"/>
<rect x="88.2" y="470.2" width="0.7" height="73.1" fill="#555" fill-opacity="0.11"/>
<rect x="90.1" y="470.2" width="0.7" height="73.1" fill="#555" fill-opacity="0.21"/>
<rect x="91.6" y="470.2" width="0.7" height="73.1" fill="#555" fill-opacity="0.10"/>
<rect x="92.9" y="470.2" width="0.7" height="73.1" fill="#555" fill-opacity="0.28"/>
<rect x="94.3" y="470.2" width="0.7" height="73.1" fill="#555" fill-opacity="0.34"/>
<rect x="96.2" y="470.2" width="0.7" height="73.1" fill="#555" fill-opacity="0.11"/>
<rect x="97.2" y="470.2" width="0.7" height="73.1" fill="#555" fill-opacity="0.24"/>
<rect x="99.2" y="470.2" width="0.7" height="73.1" fill="#555" fill-opacity="0.20"/>
<rect x="100.3" y="470.2" width="0.7" height="73.1" fill="#555" fill-opacity="0.21"/>
<path d="M89.3,470.2 L96.0,470.2 C97.2,473.9 98.1,477.5 98.9,480.4 C101.4,488.5 101.8,499.4 101.4,510.4 C101.0,517.0 98.5,520.6 94.3,521.4 L91.0,521.4 C86.8,520.6 84.3,517.0 83.9,510.4 C83.5,499.4 83.9,488.5 86.4,480.4 C87.2,477.5 88.1,473.9 89.3,470.2 Z" fill="#c8c8c8" filter="url(#b4)"/>
<line x1="88.1" y1="482.6" x2="83.5" y2="484.1" stroke="#d4d4d4" stroke-width="2.3" stroke-linecap="round" filter="url(#b3)"/>
<line x1="97.2" y1="482.6" x2="101.8" y2="484.1" stroke="#d4d4d4" stroke-width="2.3" stroke-linecap="round" filter="url(#b3)"/>
<line x1="86.8" y1="515.5" x2="83.7" y2="523.6" stroke="#d4d4d4" stroke-width="2.3" stroke-linecap="round" filter="url(#b3)"/>
<line x1="98.5" y1="515.5" x2="101.6" y2="522.8" stroke="#d4d4d4" stroke-width="2.3" stroke-linecap="round" filter="url(#b3)"/>
<line x1="92.7" y1="517.0" x2="93.7" y2="544.8" stroke="#d0d0d0" stroke-width="1.6" filter="url(#b2)"/>
<ellipse cx="92.7" cy="496.5" rx="5.9" ry="17.5" fill="#e6e6e6" filter="url(#b15)"/>
<ellipse cx="92.7" cy="479.0" rx="3.1" ry="5.8" fill="#e8e8e8" filter="url(#b10)"/>
<circle cx="93.7" cy="511.9" r="3.2" fill="#6a6a6a" filter="url(#b8)"/>
</g>
<rect x="107.40" y="470.20" width="21.30" height="73.10" fill="#3d3d3d" stroke="none" stroke-width="1" />
<clipPath id="cm2"><rect x="107.4" y="470.2" width="21.3" height="73.1"/></clipPath><g clip-path="url(#cm2)">
<rect x="107.9" y="470.2" width="0.7" height="73.1" fill="#555" fill-opacity="0.34"/>
<rect x="108.9" y="470.2" width="0.7" height="73.1" fill="#555" fill-opacity="0.12"/>
<rect x="110.8" y="470.2" width="0.7" height="73.1" fill="#555" fill-opacity="0.28"/>
<rect x="112.2" y="470.2" width="0.7" height="73.1" fill="#555" fill-opacity="0.18"/>
<rect x="113.7" y="470.2" width="0.7" height="73.1" fill="#555" fill-opacity="0.25"/>
<rect x="115.2" y="470.2" width="0.7" height="73.1" fill="#555" fill-opacity="0.14"/>
<rect x="116.6" y="470.2" width="0.7" height="73.1" fill="#555" fill-opacity="0.20"/>
<rect x="118.3" y="470.2" width="0.7" height="73.1" fill="#555" fill-opacity="0.35"/>
<rect x="119.9" y="470.2" width="0.7" height="73.1" fill="#555" fill-opacity="0.24"/>
<rect x="121.1" y="470.2" width="0.7" height="73.1" fill="#555" fill-opacity="0.17"/>
<rect x="122.4" y="470.2" width="0.7" height="73.1" fill="#555" fill-opacity="0.11"/>
<rect x="124.1" y="470.2" width="0.7" height="73.1" fill="#555" fill-opacity="0.18"/>
<rect x="125.6" y="470.2" width="0.7" height="73.1" fill="#555" fill-opacity="0.32"/>
<rect x="127.2" y="470.2" width="0.7" height="73.1" fill="#555" fill-opacity="0.24"/>
<path d="M114.6,470.2 L121.5,470.2 C122.7,473.9 123.6,477.5 124.4,480.4 C127.0,488.5 127.4,499.4 127.0,510.4 C126.6,517.0 124.0,520.6 119.8,521.4 L116.3,521.4 C112.1,520.6 109.5,517.0 109.1,510.4 C108.7,499.4 109.1,488.5 111.7,480.4 C112.5,477.5 113.4,473.9 114.6,470.2 Z" fill="#c8c8c8" filter="url(#b4)"/>
<line x1="113.4" y1="482.6" x2="108.7" y2="484.1" stroke="#d4d4d4" stroke-width="2.3" stroke-linecap="round" filter="url(#b3)"/>
<line x1="122.7" y1="482.6" x2="127.4" y2="484.1" stroke="#d4d4d4" stroke-width="2.3" stroke-linecap="round" filter="url(#b3)"/>
<line x1="112.1" y1="515.5" x2="108.9" y2="523.6" stroke="#d4d4d4" stroke-width="2.3" stroke-linecap="round" filter="url(#b3)"/>
<line x1="124.0" y1="515.5" x2="127.2" y2="522.8" stroke="#d4d4d4" stroke-width="2.3" stroke-linecap="round" filter="url(#b3)"/>
<line x1="118.1" y1="517.0" x2="117.4" y2="544.8" stroke="#d0d0d0" stroke-width="1.6" filter="url(#b2)"/>
<ellipse cx="118.1" cy="496.5" rx="6.0" ry="17.5" fill="#e6e6e6" filter="url(#b15)"/>
<ellipse cx="118.1" cy="479.0" rx="3.2" ry="5.8" fill="#e8e8e8" filter="url(#b10)"/>
<ellipse cx="118.5" cy="508.9" rx="3.4000000000000004" ry="2.5" fill="#777" filter="url(#b8)"/>
<ellipse cx="118.5" cy="508.9" rx="2.2" ry="1.3" fill="#a80e14" filter="url(#b4)"/>
<ellipse cx="118.5" cy="508.9" rx="1.54" ry="0.91" fill="#cc121a" filter="url(#b5)"/>
</g>
<rect x="131.90" y="470.20" width="21.80" height="73.10" fill="#3d3d3d" stroke="none" stroke-width="1" />
<clipPath id="cm3"><rect x="131.9" y="470.2" width="21.8" height="73.1"/></clipPath><g clip-path="url(#cm3)">
<rect x="132.0" y="470.2" width="0.7" height="73.1" fill="#555" fill-opacity="0.24"/>
<rect x="133.6" y="470.2" width="0.7" height="73.1" fill="#555" fill-opacity="0.25"/>
<rect x="135.2" y="470.2" width="0.7" height="73.1" fill="#555" fill-opacity="0.12"/>
<rect x="136.4" y="470.2" width="0.7" height="73.1" fill="#555" fill-opacity="0.31"/>
<rect x="138.0" y="470.2" width="0.7" height="73.1" fill="#555" fill-opacity="0.16"/>
<rect x="139.9" y="470.2" width="0.7" height="73.1" fill="#555" fill-opacity="0.22"/>
<rect x="141.3" y="470.2" width="0.7" height="73.1" fill="#555" fill-opacity="0.22"/>
<rect x="142.7" y="470.2" width="0.7" height="73.1" fill="#555" fill-opacity="0.14"/>
<rect x="144.2" y="470.2" width="0.7" height="73.1" fill="#555" fill-opacity="0.32"/>
<rect x="145.7" y="470.2" width="0.7" height="73.1" fill="#555" fill-opacity="0.29"/>
<rect x="147.2" y="470.2" width="0.7" height="73.1" fill="#555" fill-opacity="0.12"/>
<rect x="148.8" y="470.2" width="0.7" height="73.1" fill="#555" fill-opacity="0.25"/>
<rect x="150.1" y="470.2" width="0.7" height="73.1" fill="#555" fill-opacity="0.11"/>
<rect x="151.8" y="470.2" width="0.7" height="73.1" fill="#555" fill-opacity="0.22"/>
<path d="M139.3,470.2 L146.3,470.2 C147.6,473.9 148.5,477.5 149.3,480.4 C152.0,488.5 152.4,499.4 152.0,510.4 C151.5,517.0 148.9,520.6 144.5,521.4 L141.1,521.4 C136.7,520.6 134.1,517.0 133.6,510.4 C133.2,499.4 133.6,488.5 136.3,480.4 C137.1,477.5 138.0,473.9 139.3,470.2 Z" fill="#c8c8c8" filter="url(#b4)"/>
<line x1="138.0" y1="482.6" x2="133.2" y2="484.1" stroke="#d4d4d4" stroke-width="2.4" stroke-linecap="round" filter="url(#b3)"/>
<line x1="147.6" y1="482.6" x2="152.4" y2="484.1" stroke="#d4d4d4" stroke-width="2.4" stroke-linecap="round" filter="url(#b3)"/>
<line x1="136.7" y1="515.5" x2="133.4" y2="523.6" stroke="#d4d4d4" stroke-width="2.4" stroke-linecap="round" filter="url(#b3)"/>
<line x1="148.9" y1="515.5" x2="152.2" y2="522.8" stroke="#d4d4d4" stroke-width="2.4" stroke-linecap="round" filter="url(#b3)"/>
<line x1="142.8" y1="517.0" x2="146.1" y2="544.8" stroke="#d0d0d0" stroke-width="1.6" filter="url(#b2)"/>
<ellipse cx="142.8" cy="496.5" rx="6.1" ry="17.5" fill="#e6e6e6" filter="url(#b15)"/>
<ellipse cx="142.8" cy="479.0" rx="3.3" ry="5.8" fill="#e8e8e8" filter="url(#b10)"/>
<ellipse cx="147.6" cy="504.6" rx="2.2" ry="2.2" fill="#777" filter="url(#b8)"/>
<ellipse cx="147.6" cy="504.6" rx="1.0" ry="1.0" fill="#a80e14" filter="url(#b4)"/>
<ellipse cx="147.6" cy="504.6" rx="0.70" ry="0.70" fill="#cc121a" filter="url(#b5)"/>
</g>
<rect x="82.20" y="571.30" width="21.20" height="73.00" fill="#3d3d3d" stroke="none" stroke-width="1" />
<clipPath id="cm4"><rect x="82.2" y="571.3" width="21.2" height="73.0"/></clipPath><g clip-path="url(#cm4)">
<rect x="82.3" y="571.3" width="0.7" height="73.0" fill="#555" fill-opacity="0.13"/>
<rect x="83.9" y="571.3" width="0.7" height="73.0" fill="#555" fill-opacity="0.14"/>
<rect x="85.2" y="571.3" width="0.7" height="73.0" fill="#555" fill-opacity="0.20"/>
<rect x="87.2" y="571.3" width="0.7" height="73.0" fill="#555" fill-opacity="0.30"/>
<rect x="88.6" y="571.3" width="0.7" height="73.0" fill="#555" fill-opacity="0.16"/>
<rect x="90.0" y="571.3" width="0.7" height="73.0" fill="#555" fill-opacity="0.17"/>
<rect x="91.3" y="571.3" width="0.7" height="73.0" fill="#555" fill-opacity="0.13"/>
<rect x="92.8" y="571.3" width="0.7" height="73.0" fill="#555" fill-opacity="0.33"/>
<rect x="94.6" y="571.3" width="0.7" height="73.0" fill="#555" fill-opacity="0.30"/>
<rect x="96.1" y="571.3" width="0.7" height="73.0" fill="#555" fill-opacity="0.15"/>
<rect x="97.4" y="571.3" width="0.7" height="73.0" fill="#555" fill-opacity="0.26"/>
<rect x="99.1" y="571.3" width="0.7" height="73.0" fill="#555" fill-opacity="0.31"/>
<rect x="100.6" y="571.3" width="0.7" height="73.0" fill="#555" fill-opacity="0.12"/>
<rect x="102.0" y="571.3" width="0.7" height="73.0" fill="#555" fill-opacity="0.27"/>
<path d="M89.4,571.3 L96.2,571.3 C97.5,574.9 98.3,578.6 99.2,581.5 C101.7,589.5 102.1,600.5 101.7,611.4 C101.3,618.0 98.7,621.7 94.5,622.4 L91.1,622.4 C86.9,621.7 84.3,618.0 83.9,611.4 C83.5,600.5 83.9,589.5 86.4,581.5 C87.3,578.6 88.1,574.9 89.4,571.3 Z" fill="#c8c8c8" filter="url(#b4)"/>
<line x1="88.1" y1="583.7" x2="83.5" y2="585.2" stroke="#d4d4d4" stroke-width="2.3" stroke-linecap="round" filter="url(#b3)"/>
<line x1="97.5" y1="583.7" x2="102.1" y2="585.2" stroke="#d4d4d4" stroke-width="2.3" stroke-linecap="round" filter="url(#b3)"/>
<line x1="86.9" y1="616.6" x2="83.7" y2="624.6" stroke="#d4d4d4" stroke-width="2.3" stroke-linecap="round" filter="url(#b3)"/>
<line x1="98.7" y1="616.6" x2="101.9" y2="623.9" stroke="#d4d4d4" stroke-width="2.3" stroke-linecap="round" filter="url(#b3)"/>
<line x1="92.8" y1="618.0" x2="93.9" y2="645.8" stroke="#d0d0d0" stroke-width="1.6" filter="url(#b2)"/>
<ellipse cx="92.8" cy="597.6" rx="5.9" ry="17.5" fill="#e6e6e6" filter="url(#b15)"/>
<ellipse cx="92.8" cy="580.1" rx="3.2" ry="5.8" fill="#e8e8e8" filter="url(#b10)"/>
<ellipse cx="91.3" cy="610.0" rx="4.2" ry="5.4" fill="#777" filter="url(#b8)"/>
<ellipse cx="91.3" cy="610.0" rx="3.0" ry="4.2" fill="#a80e14" filter="url(#b4)"/>
<ellipse cx="91.3" cy="610.0" rx="2.10" ry="2.94" fill="#cc121a" filter="url(#b5)"/>
</g>
<rect x="107.80" y="571.30" width="20.90" height="73.00" fill="#3d3d3d" stroke="none" stroke-width="1" />
<clipPath id="cm5"><rect x="107.8" y="571.3" width="20.9" height="73.0"/></clipPath><g clip-path="url(#cm5)">
<rect x="108.1" y="571.3" width="0.7" height="73.0" fill="#555" fill-opacity="0.29"/>
<rect x="109.7" y="571.3" width="0.7" height="73.0" fill="#555" fill-opacity="0.34"/>
<rect x="111.2" y="571.3" width="0.7" height="73.0" fill="#555" fill-opacity="0.33"/>
<rect x="112.3" y="571.3" width="0.7" height="73.0" fill="#555" fill-opacity="0.22"/>
<rect x="114.3" y="571.3" width="0.7" height="73.0" fill="#555" fill-opacity="0.26"/>
<rect x="115.8" y="571.3" width="0.7" height="73.0" fill="#555" fill-opacity="0.13"/>
<rect x="117.0" y="571.3" width="0.7" height="73.0" fill="#555" fill-opacity="0.16"/>
<rect x="118.6" y="571.3" width="0.7" height="73.0" fill="#555" fill-opacity="0.24"/>
<rect x="119.8" y="571.3" width="0.7" height="73.0" fill="#555" fill-opacity="0.15"/>
<rect x="121.4" y="571.3" width="0.7" height="73.0" fill="#555" fill-opacity="0.33"/>
<rect x="123.2" y="571.3" width="0.7" height="73.0" fill="#555" fill-opacity="0.14"/>
<rect x="124.7" y="571.3" width="0.7" height="73.0" fill="#555" fill-opacity="0.13"/>
<rect x="126.1" y="571.3" width="0.7" height="73.0" fill="#555" fill-opacity="0.13"/>
<path d="M114.9,571.3 L121.6,571.3 C122.8,574.9 123.7,578.6 124.5,581.5 C127.0,589.5 127.4,600.5 127.0,611.4 C126.6,618.0 124.1,621.7 119.9,622.4 L116.6,622.4 C112.4,621.7 109.9,618.0 109.5,611.4 C109.1,600.5 109.5,589.5 112.0,581.5 C112.8,578.6 113.7,574.9 114.9,571.3 Z" fill="#c8c8c8" filter="url(#b4)"/>
<line x1="113.7" y1="583.7" x2="109.1" y2="585.2" stroke="#d4d4d4" stroke-width="2.3" stroke-linecap="round" filter="url(#b3)"/>
<line x1="122.8" y1="583.7" x2="127.4" y2="585.2" stroke="#d4d4d4" stroke-width="2.3" stroke-linecap="round" filter="url(#b3)"/>
<line x1="112.4" y1="616.6" x2="109.3" y2="624.6" stroke="#d4d4d4" stroke-width="2.3" stroke-linecap="round" filter="url(#b3)"/>
<line x1="124.1" y1="616.6" x2="127.2" y2="623.9" stroke="#d4d4d4" stroke-width="2.3" stroke-linecap="round" filter="url(#b3)"/>
<line x1="118.2" y1="618.0" x2="118.7" y2="645.8" stroke="#d0d0d0" stroke-width="1.6" filter="url(#b2)"/>
<ellipse cx="118.2" cy="597.6" rx="5.9" ry="17.5" fill="#e6e6e6" filter="url(#b15)"/>
<ellipse cx="118.2" cy="580.1" rx="3.1" ry="5.8" fill="#e8e8e8" filter="url(#b10)"/>
<ellipse cx="115.1" cy="609.3" rx="3.8" ry="4.9" fill="#777" filter="url(#b8)"/>
<ellipse cx="115.1" cy="609.3" rx="2.6" ry="3.7" fill="#a80e14" filter="url(#b4)"/>
<ellipse cx="115.1" cy="609.3" rx="1.82" ry="2.59" fill="#cc121a" filter="url(#b5)"/>
</g>
<rect x="132.10" y="571.30" width="21.60" height="73.00" fill="#3d3d3d" stroke="none" stroke-width="1" />
<clipPath id="cm6"><rect x="132.1" y="571.3" width="21.6" height="73.0"/></clipPath><g clip-path="url(#cm6)">
<rect x="132.5" y="571.3" width="0.7" height="73.0" fill="#555" fill-opacity="0.31"/>
<rect x="133.8" y="571.3" width="0.7" height="73.0" fill="#555" fill-opacity="0.17"/>
<rect x="135.1" y="571.3" width="0.7" height="73.0" fill="#555" fill-opacity="0.27"/>
<rect x="136.8" y="571.3" width="0.7" height="73.0" fill="#555" fill-opacity="0.29"/>
<rect x="138.3" y="571.3" width="0.7" height="73.0" fill="#555" fill-opacity="0.29"/>
<rect x="139.7" y="571.3" width="0.7" height="73.0" fill="#555" fill-opacity="0.30"/>
<rect x="141.5" y="571.3" width="0.7" height="73.0" fill="#555" fill-opacity="0.20"/>
<rect x="142.9" y="571.3" width="0.7" height="73.0" fill="#555" fill-opacity="0.27"/>
<rect x="144.2" y="571.3" width="0.7" height="73.0" fill="#555" fill-opacity="0.24"/>
<rect x="146.0" y="571.3" width="0.7" height="73.0" fill="#555" fill-opacity="0.17"/>
<rect x="147.5" y="571.3" width="0.7" height="73.0" fill="#555" fill-opacity="0.27"/>
<rect x="149.0" y="571.3" width="0.7" height="73.0" fill="#555" fill-opacity="0.18"/>
<rect x="150.1" y="571.3" width="0.7" height="73.0" fill="#555" fill-opacity="0.30"/>
<rect x="152.0" y="571.3" width="0.7" height="73.0" fill="#555" fill-opacity="0.21"/>
<path d="M139.4,571.3 L146.4,571.3 C147.7,574.9 148.5,578.6 149.4,581.5 C152.0,589.5 152.4,600.5 152.0,611.4 C151.5,618.0 148.9,621.7 144.6,622.4 L141.2,622.4 C136.9,621.7 134.3,618.0 133.8,611.4 C133.4,600.5 133.8,589.5 136.4,581.5 C137.3,578.6 138.1,574.9 139.4,571.3 Z" fill="#c8c8c8" filter="url(#b4)"/>
<line x1="138.1" y1="583.7" x2="133.4" y2="585.2" stroke="#d4d4d4" stroke-width="2.4" stroke-linecap="round" filter="url(#b3)"/>
<line x1="147.7" y1="583.7" x2="152.4" y2="585.2" stroke="#d4d4d4" stroke-width="2.4" stroke-linecap="round" filter="url(#b3)"/>
<line x1="136.9" y1="616.6" x2="133.6" y2="624.6" stroke="#d4d4d4" stroke-width="2.4" stroke-linecap="round" filter="url(#b3)"/>
<line x1="148.9" y1="616.6" x2="152.2" y2="623.9" stroke="#d4d4d4" stroke-width="2.4" stroke-linecap="round" filter="url(#b3)"/>
<line x1="142.9" y1="618.0" x2="141.8" y2="645.8" stroke="#d0d0d0" stroke-width="1.6" filter="url(#b2)"/>
<ellipse cx="142.9" cy="597.6" rx="6.0" ry="17.5" fill="#e6e6e6" filter="url(#b15)"/>
<ellipse cx="142.9" cy="580.1" rx="3.2" ry="5.8" fill="#e8e8e8" filter="url(#b10)"/>
<ellipse cx="143.1" cy="610.0" rx="3.5999999999999996" ry="3.5999999999999996" fill="#777" filter="url(#b8)"/>
<ellipse cx="143.1" cy="610.0" rx="2.4" ry="2.4" fill="#a80e14" filter="url(#b4)"/>
<ellipse cx="143.1" cy="610.0" rx="1.68" ry="1.68" fill="#cc121a" filter="url(#b5)"/>
</g>
<line x1="232.40" y1="501.40" x2="232.40" y2="617.10" stroke="#231f20" stroke-width="1.3" />
<line x1="228.00" y1="616.50" x2="347.20" y2="616.50" stroke="#231f20" stroke-width="1.3" />
<line x1="227.80" y1="501.40" x2="232.40" y2="501.40" stroke="#231f20" stroke-width="1.2" />
<text transform="translate(217.60,506.40) scale(1,1.05)" font-size="11.2" text-anchor="end" fill="#231f20" >3 × 10</text>
<text transform="translate(217.80,502.60) scale(1,1.05)" font-size="7.0" text-anchor="start" fill="#231f20" >10</text>
<line x1="227.80" y1="539.77" x2="232.40" y2="539.77" stroke="#231f20" stroke-width="1.2" />
<text transform="translate(217.60,544.77) scale(1,1.05)" font-size="11.2" text-anchor="end" fill="#231f20" >2 × 10</text>
<text transform="translate(217.80,540.97) scale(1,1.05)" font-size="7.0" text-anchor="start" fill="#231f20" >10</text>
<line x1="227.80" y1="578.13" x2="232.40" y2="578.13" stroke="#231f20" stroke-width="1.2" />
<text transform="translate(217.60,583.13) scale(1,1.05)" font-size="11.2" text-anchor="end" fill="#231f20" >1 × 10</text>
<text transform="translate(217.80,579.33) scale(1,1.05)" font-size="7.0" text-anchor="start" fill="#231f20" >10</text>
<line x1="227.80" y1="616.50" x2="232.40" y2="616.50" stroke="#231f20" stroke-width="1.2" />
<text transform="translate(219.40,621.10) scale(1,1.05)" font-size="11.2" text-anchor="end" fill="#231f20" >0</text>
<text x="0" y="0" font-size="11.5" text-anchor="middle" fill="#231f20" transform="translate(175.3,545.0) rotate(-90)">Total Flux (p/s)</text>
<circle cx="257.00" cy="477.60" r="2.2" fill="#6cbf45" stroke="none" stroke-width="1"/>
<text transform="translate(266.00,481.20) scale(1,1.05)" font-size="11.5" text-anchor="start" fill="#231f20" >143B-EGFP</text>
<circle cx="257.00" cy="494.10" r="2.2" fill="#e3202c" stroke="none" stroke-width="1"/>
<text transform="translate(266.00,498.00) scale(1,1.05)" font-size="11.5" text-anchor="start" fill="#231f20" >143B-hMeflin</text>
<line x1="242.95" y1="536.40" x2="242.95" y2="557.30" stroke="#6cbf45" stroke-width="1.0" />
<path d="M239.00,616.5 V558.30 H246.90 V616.5" fill="none" stroke="#6cbf45" stroke-width="2.0"/>
<circle cx="242.95" cy="536.60" r="2.2" fill="#6cbf45" stroke="none" stroke-width="1"/>
<circle cx="242.95" cy="559.70" r="2.2" fill="#6cbf45" stroke="none" stroke-width="1"/>
<circle cx="242.95" cy="573.50" r="2.2" fill="#6cbf45" stroke="none" stroke-width="1"/>
<line x1="257.55" y1="514.10" x2="257.55" y2="526.90" stroke="#e3202c" stroke-width="1.0" />
<line x1="254.35" y1="514.10" x2="260.75" y2="514.10" stroke="#e3202c" stroke-width="1.0" />
<path d="M253.60,616.5 V527.90 H261.50 V616.5" fill="none" stroke="#e3202c" stroke-width="2.0"/>
<circle cx="257.55" cy="514.10" r="2.2" fill="#e3202c" stroke="none" stroke-width="1"/>
<circle cx="257.55" cy="523.40" r="2.2" fill="#e3202c" stroke="none" stroke-width="1"/>
<circle cx="257.55" cy="542.70" r="2.2" fill="#e3202c" stroke="none" stroke-width="1"/>
<line x1="283.00" y1="526.50" x2="283.00" y2="550.70" stroke="#6cbf45" stroke-width="1.0" />
<line x1="279.80" y1="526.50" x2="286.20" y2="526.50" stroke="#6cbf45" stroke-width="1.0" />
<path d="M279.20,616.5 V551.70 H286.80 V616.5" fill="none" stroke="#6cbf45" stroke-width="2.0"/>
<circle cx="283.00" cy="526.00" r="2.2" fill="#6cbf45" stroke="none" stroke-width="1"/>
<circle cx="283.00" cy="558.70" r="2.2" fill="#6cbf45" stroke="none" stroke-width="1"/>
<circle cx="283.00" cy="566.10" r="2.2" fill="#6cbf45" stroke="none" stroke-width="1"/>
<line x1="298.00" y1="514.00" x2="298.00" y2="532.40" stroke="#e3202c" stroke-width="1.0" />
<path d="M294.30,616.5 V533.40 H301.70 V616.5" fill="none" stroke="#e3202c" stroke-width="2.0"/>
<circle cx="298.00" cy="513.80" r="2.2" fill="#e3202c" stroke="none" stroke-width="1"/>
<circle cx="298.00" cy="529.80" r="2.2" fill="#e3202c" stroke="none" stroke-width="1"/>
<circle cx="298.00" cy="551.00" r="2.2" fill="#e3202c" stroke="none" stroke-width="1"/>
<line x1="322.75" y1="544.60" x2="322.75" y2="561.30" stroke="#6cbf45" stroke-width="1.0" />
<path d="M319.00,616.5 V562.30 H326.50 V616.5" fill="none" stroke="#6cbf45" stroke-width="2.0"/>
<circle cx="322.75" cy="544.60" r="2.2" fill="#6cbf45" stroke="none" stroke-width="1"/>
<circle cx="322.75" cy="564.50" r="2.2" fill="#6cbf45" stroke="none" stroke-width="1"/>
<circle cx="322.75" cy="574.80" r="2.2" fill="#6cbf45" stroke="none" stroke-width="1"/>
<line x1="338.00" y1="516.30" x2="338.00" y2="534.60" stroke="#e3202c" stroke-width="1.0" />
<line x1="334.80" y1="516.30" x2="341.20" y2="516.30" stroke="#e3202c" stroke-width="1.0" />
<path d="M334.40,616.5 V535.60 H341.60 V616.5" fill="none" stroke="#e3202c" stroke-width="2.0"/>
<circle cx="338.00" cy="522.10" r="2.2" fill="#e3202c" stroke="none" stroke-width="1"/>
<circle cx="338.00" cy="526.90" r="2.2" fill="#e3202c" stroke="none" stroke-width="1"/>
<circle cx="338.00" cy="553.90" r="2.2" fill="#e3202c" stroke="none" stroke-width="1"/>
<line x1="250.20" y1="616.50" x2="250.20" y2="620.50" stroke="#231f20" stroke-width="1.2" />
<line x1="290.40" y1="616.50" x2="290.40" y2="620.50" stroke="#231f20" stroke-width="1.2" />
<line x1="330.30" y1="616.50" x2="330.30" y2="620.50" stroke="#231f20" stroke-width="1.2" />
<text transform="translate(247.30,634.50) scale(1,1.05)" font-size="11.5" text-anchor="middle" fill="#231f20" >24</text>
<text transform="translate(287.80,634.50) scale(1,1.05)" font-size="11.5" text-anchor="middle" fill="#231f20" >48</text>
<text transform="translate(330.20,634.50) scale(1,1.05)" font-size="11.5" text-anchor="middle" fill="#231f20" >72</text>
<text transform="translate(288.50,651.90) scale(1,1.05)" font-size="11.5" text-anchor="middle" fill="#231f20" >hours</text>
<text transform="translate(373.50,432.60) scale(1,1.05)" font-size="18.3" text-anchor="start" fill="#231f20" stroke="#231f20" stroke-width="0.75" stroke-linejoin="round">F</text>
<text transform="translate(399.90,433.90) scale(1,1.05)" font-size="11.5" text-anchor="start" fill="#231f20" >143B Xenograft</text>
<line x1="432.80" y1="448.20" x2="432.80" y2="593.10" stroke="#231f20" stroke-width="1.3" />
<line x1="432.20" y1="592.50" x2="650.50" y2="592.50" stroke="#231f20" stroke-width="1.3" />
<line x1="427.20" y1="592.50" x2="432.80" y2="592.50" stroke="#231f20" stroke-width="1.2" />
<text transform="translate(422.20,597.10) scale(1,1.05)" font-size="11.7" text-anchor="end" fill="#231f20" >0</text>
<line x1="427.20" y1="563.64" x2="432.80" y2="563.64" stroke="#231f20" stroke-width="1.2" />
<text transform="translate(422.20,568.24) scale(1,1.05)" font-size="11.7" text-anchor="end" fill="#231f20" >500</text>
<line x1="427.20" y1="534.78" x2="432.80" y2="534.78" stroke="#231f20" stroke-width="1.2" />
<text transform="translate(422.20,539.38) scale(1,1.05)" font-size="11.7" text-anchor="end" fill="#231f20" >1000</text>
<line x1="427.20" y1="505.92" x2="432.80" y2="505.92" stroke="#231f20" stroke-width="1.2" />
<text transform="translate(422.20,510.52) scale(1,1.05)" font-size="11.7" text-anchor="end" fill="#231f20" >1500</text>
<line x1="427.20" y1="477.06" x2="432.80" y2="477.06" stroke="#231f20" stroke-width="1.2" />
<text transform="translate(422.20,481.66) scale(1,1.05)" font-size="11.7" text-anchor="end" fill="#231f20" >2000</text>
<line x1="427.20" y1="448.20" x2="432.80" y2="448.20" stroke="#231f20" stroke-width="1.2" />
<text transform="translate(422.20,452.80) scale(1,1.05)" font-size="11.7" text-anchor="end" fill="#231f20" >2500</text>
<line x1="432.80" y1="592.50" x2="432.80" y2="597.50" stroke="#231f20" stroke-width="1.2" />
<text transform="translate(432.80,610.00) scale(1,1.05)" font-size="11.5" text-anchor="middle" fill="#231f20" >0</text>
<line x1="454.43" y1="592.50" x2="454.43" y2="595.90" stroke="#231f20" stroke-width="1.2" />
<line x1="476.06" y1="592.50" x2="476.06" y2="597.50" stroke="#231f20" stroke-width="1.2" />
<text transform="translate(476.06,610.00) scale(1,1.05)" font-size="11.5" text-anchor="middle" fill="#231f20" >2</text>
<line x1="497.69" y1="592.50" x2="497.69" y2="595.90" stroke="#231f20" stroke-width="1.2" />
<line x1="519.32" y1="592.50" x2="519.32" y2="597.50" stroke="#231f20" stroke-width="1.2" />
<text transform="translate(519.32,610.00) scale(1,1.05)" font-size="11.5" text-anchor="middle" fill="#231f20" >4</text>
<line x1="540.95" y1="592.50" x2="540.95" y2="595.90" stroke="#231f20" stroke-width="1.2" />
<line x1="562.58" y1="592.50" x2="562.58" y2="597.50" stroke="#231f20" stroke-width="1.2" />
<text transform="translate(562.58,610.00) scale(1,1.05)" font-size="11.5" text-anchor="middle" fill="#231f20" >6</text>
<line x1="584.21" y1="592.50" x2="584.21" y2="595.90" stroke="#231f20" stroke-width="1.2" />
<line x1="605.84" y1="592.50" x2="605.84" y2="597.50" stroke="#231f20" stroke-width="1.2" />
<text transform="translate(605.84,610.00) scale(1,1.05)" font-size="11.5" text-anchor="middle" fill="#231f20" >8</text>
<line x1="627.47" y1="592.50" x2="627.47" y2="595.90" stroke="#231f20" stroke-width="1.2" />
<line x1="649.10" y1="592.50" x2="649.10" y2="597.50" stroke="#231f20" stroke-width="1.2" />
<text transform="translate(649.10,610.00) scale(1,1.05)" font-size="11.5" text-anchor="middle" fill="#231f20" >10</text>
<text transform="translate(543.80,627.00) scale(1,1.05)" font-size="11.5" text-anchor="middle" fill="#231f20" >Days</text>
<text x="0" y="0" font-size="11.5" text-anchor="middle" fill="#231f20" transform="translate(380.5,520.3) rotate(-90)">Volume (mm<tspan font-size="7" dy="-4">3</tspan><tspan dy="4">)</tspan></text>
<line x1="649.10" y1="562.72" x2="649.10" y2="553.54" stroke="#333" stroke-width="0.9" />
<line x1="646.80" y1="553.54" x2="651.40" y2="553.54" stroke="#333" stroke-width="0.9" />
<polyline points="432.80,585.00 476.06,582.17 519.32,580.55 562.58,579.80 605.84,574.49 649.10,562.72" fill="none" stroke="#231f20" stroke-width="1.0" />
<rect x="430.00" y="582.20" width="5.60" height="5.60" fill="#231f20" stroke="none" stroke-width="1" />
<rect x="473.26" y="579.37" width="5.60" height="5.60" fill="#231f20" stroke="none" stroke-width="1" />
<rect x="516.52" y="577.75" width="5.60" height="5.60" fill="#231f20" stroke="none" stroke-width="1" />
<rect x="559.78" y="577.00" width="5.60" height="5.60" fill="#231f20" stroke="none" stroke-width="1" />
<rect x="603.04" y="571.69" width="5.60" height="5.60" fill="#231f20" stroke="none" stroke-width="1" />
<rect x="646.30" y="559.92" width="5.60" height="5.60" fill="#231f20" stroke="none" stroke-width="1" />
<line x1="476.06" y1="577.49" x2="476.06" y2="572.59" stroke="#333" stroke-width="0.9" />
<line x1="473.76" y1="572.59" x2="478.36" y2="572.59" stroke="#333" stroke-width="0.9" />
<line x1="519.32" y1="572.36" x2="519.32" y2="565.83" stroke="#333" stroke-width="0.9" />
<line x1="517.02" y1="565.83" x2="521.62" y2="565.83" stroke="#333" stroke-width="0.9" />
<line x1="562.58" y1="557.64" x2="562.58" y2="546.44" stroke="#333" stroke-width="0.9" />
<line x1="560.28" y1="546.44" x2="564.88" y2="546.44" stroke="#333" stroke-width="0.9" />
<line x1="605.84" y1="535.07" x2="605.84" y2="519.14" stroke="#333" stroke-width="0.9" />
<line x1="603.54" y1="519.14" x2="608.14" y2="519.14" stroke="#333" stroke-width="0.9" />
<line x1="649.10" y1="494.78" x2="649.10" y2="458.30" stroke="#333" stroke-width="0.9" />
<line x1="646.80" y1="458.30" x2="651.40" y2="458.30" stroke="#333" stroke-width="0.9" />
<polyline points="432.80,584.71 476.06,577.49 519.32,572.36 562.58,557.64 605.84,535.07 649.10,494.78" fill="none" stroke="#231f20" stroke-width="1.0" />
<circle cx="432.80" cy="584.71" r="3.2" fill="#fff" stroke="#231f20" stroke-width="1.4"/>
<circle cx="476.06" cy="577.49" r="3.2" fill="#fff" stroke="#231f20" stroke-width="1.4"/>
<circle cx="519.32" cy="572.36" r="3.2" fill="#fff" stroke="#231f20" stroke-width="1.4"/>
<circle cx="562.58" cy="557.64" r="3.2" fill="#fff" stroke="#231f20" stroke-width="1.4"/>
<circle cx="605.84" cy="535.07" r="3.2" fill="#fff" stroke="#231f20" stroke-width="1.4"/>
<circle cx="649.10" cy="494.78" r="3.2" fill="#fff" stroke="#231f20" stroke-width="1.4"/>
<circle cx="432.80" cy="585.00" r="3.4" fill="#231f20" stroke="#231f20" stroke-width="1"/>
<line x1="451.70" y1="448.60" x2="468.00" y2="448.60" stroke="#231f20" stroke-width="1.0" />
<circle cx="459.90" cy="448.60" r="3.2" fill="#fff" stroke="#231f20" stroke-width="1.4"/>
<text transform="translate(473.50,451.60) scale(1,1.05)" font-size="11.5" text-anchor="start" fill="#231f20" >143B-EGFP</text>
<line x1="451.70" y1="469.00" x2="468.00" y2="469.00" stroke="#231f20" stroke-width="1.0" />
<rect x="457.20" y="466.30" width="5.40" height="5.40" fill="#231f20" stroke="none" stroke-width="1" />
<text transform="translate(473.50,472.70) scale(1,1.05)" font-size="11.5" text-anchor="start" fill="#231f20" >143B-hMeflin</text>
<line x1="663.10" y1="492.10" x2="663.10" y2="563.60" stroke="#3a2626" stroke-width="1.2" />
<text transform="translate(671.70,532.00) scale(1,1.05)" font-size="10.5" text-anchor="middle" fill="#231f20" >*</text>
<line x1="431.40" y1="617.60" x2="431.40" y2="623.90" stroke="#444" stroke-width="0.9" />
<polygon points="431.40,614.60 429.20,618.70 433.60,618.70" fill="#231f20" stroke="none" stroke-width="1"/>
<text transform="translate(432.00,633.20) scale(1,1.05)" font-size="10.2" text-anchor="middle" fill="#231f20" >I.V</text>
<line x1="424.10" y1="637.90" x2="442.70" y2="637.90" stroke="#231f20" stroke-width="1.1" />
<text transform="translate(387.60,651.90) scale(1,1.05)" font-size="11.5" text-anchor="start" fill="#231f20" >46-3 ADC 5.0 mg/kg</text>
<text transform="translate(8.20,685.90) scale(1,1.05)" font-size="18.8" text-anchor="start" fill="#231f20" stroke="#231f20" stroke-width="0.2">G</text>
<text transform="translate(33.70,683.80) scale(1,1.05)" font-size="11.5" text-anchor="start" fill="#231f20" >HS-Os-1 Xenograft</text>
<line x1="53.00" y1="714.30" x2="53.00" y2="869.20" stroke="#231f20" stroke-width="1.3" />
<line x1="52.40" y1="868.60" x2="284.30" y2="868.60" stroke="#231f20" stroke-width="1.3" />
<line x1="46.50" y1="868.60" x2="53.00" y2="868.60" stroke="#231f20" stroke-width="1.2" />
<text transform="translate(44.40,872.90) scale(1,1.05)" font-size="11.8" text-anchor="end" fill="#231f20" >0</text>
<line x1="46.50" y1="837.74" x2="53.00" y2="837.74" stroke="#231f20" stroke-width="1.2" />
<text transform="translate(44.40,842.04) scale(1,1.05)" font-size="11.8" text-anchor="end" fill="#231f20" >500</text>
<line x1="46.50" y1="806.88" x2="53.00" y2="806.88" stroke="#231f20" stroke-width="1.2" />
<text transform="translate(44.40,811.18) scale(1,1.05)" font-size="11.8" text-anchor="end" fill="#231f20" >1000</text>
<line x1="46.50" y1="776.02" x2="53.00" y2="776.02" stroke="#231f20" stroke-width="1.2" />
<text transform="translate(44.40,780.32) scale(1,1.05)" font-size="11.8" text-anchor="end" fill="#231f20" >1500</text>
<line x1="46.50" y1="745.16" x2="53.00" y2="745.16" stroke="#231f20" stroke-width="1.2" />
<text transform="translate(44.40,749.46) scale(1,1.05)" font-size="11.8" text-anchor="end" fill="#231f20" >2000</text>
<line x1="46.50" y1="714.30" x2="53.00" y2="714.30" stroke="#231f20" stroke-width="1.2" />
<text transform="translate(44.40,718.60) scale(1,1.05)" font-size="11.8" text-anchor="end" fill="#231f20" >2500</text>
<line x1="53.00" y1="868.60" x2="53.00" y2="874.90" stroke="#231f20" stroke-width="1.2" />
<text transform="translate(53.00,889.30) scale(1,1.05)" font-size="11.5" text-anchor="middle" fill="#231f20" >0</text>
<line x1="64.56" y1="868.60" x2="64.56" y2="872.90" stroke="#231f20" stroke-width="1.2" />
<line x1="76.12" y1="868.60" x2="76.12" y2="872.90" stroke="#231f20" stroke-width="1.2" />
<line x1="87.68" y1="868.60" x2="87.68" y2="872.90" stroke="#231f20" stroke-width="1.2" />
<line x1="99.24" y1="868.60" x2="99.24" y2="872.90" stroke="#231f20" stroke-width="1.2" />
<line x1="110.80" y1="868.60" x2="110.80" y2="874.90" stroke="#231f20" stroke-width="1.2" />
<text transform="translate(110.80,889.30) scale(1,1.05)" font-size="11.5" text-anchor="middle" fill="#231f20" >10</text>
<line x1="122.36" y1="868.60" x2="122.36" y2="872.90" stroke="#231f20" stroke-width="1.2" />
<line x1="133.92" y1="868.60" x2="133.92" y2="872.90" stroke="#231f20" stroke-width="1.2" />
<line x1="145.48" y1="868.60" x2="145.48" y2="872.90" stroke="#231f20" stroke-width="1.2" />
<line x1="157.04" y1="868.60" x2="157.04" y2="872.90" stroke="#231f20" stroke-width="1.2" />
<line x1="168.60" y1="868.60" x2="168.60" y2="874.90" stroke="#231f20" stroke-width="1.2" />
<text transform="translate(168.60,889.30) scale(1,1.05)" font-size="11.5" text-anchor="middle" fill="#231f20" >20</text>
<line x1="180.16" y1="868.60" x2="180.16" y2="872.90" stroke="#231f20" stroke-width="1.2" />
<line x1="191.72" y1="868.60" x2="191.72" y2="872.90" stroke="#231f20" stroke-width="1.2" />
<line x1="203.28" y1="868.60" x2="203.28" y2="872.90" stroke="#231f20" stroke-width="1.2" />
<line x1="214.84" y1="868.60" x2="214.84" y2="872.90" stroke="#231f20" stroke-width="1.2" />
<line x1="226.40" y1="868.60" x2="226.40" y2="874.90" stroke="#231f20" stroke-width="1.2" />
<text transform="translate(226.40,889.30) scale(1,1.05)" font-size="11.5" text-anchor="middle" fill="#231f20" >30</text>
<line x1="237.96" y1="868.60" x2="237.96" y2="872.90" stroke="#231f20" stroke-width="1.2" />
<line x1="249.52" y1="868.60" x2="249.52" y2="872.90" stroke="#231f20" stroke-width="1.2" />
<line x1="261.08" y1="868.60" x2="261.08" y2="872.90" stroke="#231f20" stroke-width="1.2" />
<line x1="272.64" y1="868.60" x2="272.64" y2="872.90" stroke="#231f20" stroke-width="1.2" />
<line x1="284.20" y1="868.60" x2="284.20" y2="874.90" stroke="#231f20" stroke-width="1.2" />
<text transform="translate(284.20,889.30) scale(1,1.05)" font-size="11.5" text-anchor="middle" fill="#231f20" >40</text>
<text transform="translate(153.80,901.70) scale(1,1.05)" font-size="11.5" text-anchor="middle" fill="#231f20" >Days</text>
<text x="0" y="0" font-size="11.5" text-anchor="middle" fill="#231f20" transform="translate(12.8,795.3) rotate(-90)">Volume (mm<tspan font-size="7" dy="-4">3</tspan><tspan dy="4">)</tspan></text>
<line x1="191.72" y1="859.40" x2="191.72" y2="855.76" stroke="#333" stroke-width="0.9" />
<line x1="189.42" y1="855.76" x2="194.02" y2="855.76" stroke="#333" stroke-width="0.9" />
<line x1="214.84" y1="858.79" x2="214.84" y2="853.29" stroke="#333" stroke-width="0.9" />
<line x1="212.54" y1="853.29" x2="217.14" y2="853.29" stroke="#333" stroke-width="0.9" />
<line x1="237.96" y1="853.29" x2="237.96" y2="846.07" stroke="#333" stroke-width="0.9" />
<line x1="235.66" y1="846.07" x2="240.26" y2="846.07" stroke="#333" stroke-width="0.9" />
<line x1="261.08" y1="849.78" x2="261.08" y2="838.60" stroke="#333" stroke-width="0.9" />
<line x1="258.78" y1="838.60" x2="263.38" y2="838.60" stroke="#333" stroke-width="0.9" />
<polyline points="53.00,864.28 76.12,865.08 99.24,865.51 122.36,865.08 145.48,862.86 168.60,862.86 191.72,859.40 214.84,858.79 237.96,853.29 261.08,849.78" fill="none" stroke="#231f20" stroke-width="1.0" />
<rect x="50.25" y="861.53" width="5.50" height="5.50" fill="#fff" stroke="#231f20" stroke-width="1.5" />
<rect x="73.37" y="862.33" width="5.50" height="5.50" fill="#fff" stroke="#231f20" stroke-width="1.5" />
<rect x="96.49" y="862.76" width="5.50" height="5.50" fill="#fff" stroke="#231f20" stroke-width="1.5" />
<rect x="119.61" y="862.33" width="5.50" height="5.50" fill="#fff" stroke="#231f20" stroke-width="1.5" />
<rect x="142.73" y="860.11" width="5.50" height="5.50" fill="#fff" stroke="#231f20" stroke-width="1.5" />
<rect x="165.85" y="860.11" width="5.50" height="5.50" fill="#fff" stroke="#231f20" stroke-width="1.5" />
<rect x="188.97" y="856.65" width="5.50" height="5.50" fill="#fff" stroke="#231f20" stroke-width="1.5" />
<rect x="212.09" y="856.04" width="5.50" height="5.50" fill="#fff" stroke="#231f20" stroke-width="1.5" />
<rect x="235.21" y="850.54" width="5.50" height="5.50" fill="#fff" stroke="#231f20" stroke-width="1.5" />
<rect x="258.33" y="847.03" width="5.50" height="5.50" fill="#fff" stroke="#231f20" stroke-width="1.5" />
<line x1="168.60" y1="852.31" x2="168.60" y2="848.60" stroke="#333" stroke-width="0.9" />
<line x1="166.30" y1="848.60" x2="170.90" y2="848.60" stroke="#333" stroke-width="0.9" />
<line x1="191.72" y1="846.07" x2="191.72" y2="843.91" stroke="#333" stroke-width="0.9" />
<line x1="189.42" y1="843.91" x2="194.02" y2="843.91" stroke="#333" stroke-width="0.9" />
<line x1="214.84" y1="838.36" x2="214.84" y2="834.04" stroke="#333" stroke-width="0.9" />
<line x1="212.54" y1="834.04" x2="217.14" y2="834.04" stroke="#333" stroke-width="0.9" />
<line x1="237.96" y1="828.11" x2="237.96" y2="800.58" stroke="#333" stroke-width="0.9" />
<line x1="235.66" y1="800.58" x2="240.26" y2="800.58" stroke="#333" stroke-width="0.9" />
<line x1="261.08" y1="800.58" x2="261.08" y2="753.80" stroke="#333" stroke-width="0.9" />
<line x1="258.78" y1="753.80" x2="263.38" y2="753.80" stroke="#333" stroke-width="0.9" />
<polyline points="53.00,863.66 76.12,862.74 99.24,862.49 122.36,861.50 145.48,857.37 168.60,852.31 191.72,846.07 214.84,838.36 237.96,828.11 261.08,800.58" fill="none" stroke="#231f20" stroke-width="1.0" />
<polygon points="53.00,860.69 49.62,865.82 56.38,865.82" fill="#231f20" stroke="none" stroke-width="1"/>
<polygon points="76.12,859.77 72.75,864.90 79.50,864.90" fill="#231f20" stroke="none" stroke-width="1"/>
<polygon points="99.24,859.52 95.87,864.65 102.62,864.65" fill="#231f20" stroke="none" stroke-width="1"/>
<polygon points="122.36,858.53 118.98,863.66 125.73,863.66" fill="#231f20" stroke="none" stroke-width="1"/>
<polygon points="145.48,854.40 142.11,859.53 148.86,859.53" fill="#231f20" stroke="none" stroke-width="1"/>
<polygon points="168.60,849.34 165.23,854.47 171.98,854.47" fill="#231f20" stroke="none" stroke-width="1"/>
<polygon points="191.72,843.10 188.34,848.23 195.09,848.23" fill="#231f20" stroke="none" stroke-width="1"/>
<polygon points="214.84,835.39 211.47,840.52 218.22,840.52" fill="#231f20" stroke="none" stroke-width="1"/>
<polygon points="237.96,825.14 234.59,830.27 241.34,830.27" fill="#231f20" stroke="none" stroke-width="1"/>
<polygon points="261.08,797.61 257.71,802.74 264.46,802.74" fill="#231f20" stroke="none" stroke-width="1"/>
<line x1="99.24" y1="858.42" x2="99.24" y2="853.29" stroke="#333" stroke-width="0.9" />
<line x1="96.94" y1="853.29" x2="101.54" y2="853.29" stroke="#333" stroke-width="0.9" />
<line x1="122.36" y1="856.32" x2="122.36" y2="849.59" stroke="#333" stroke-width="0.9" />
<line x1="120.06" y1="849.59" x2="124.66" y2="849.59" stroke="#333" stroke-width="0.9" />
<line x1="145.48" y1="851.69" x2="145.48" y2="839.59" stroke="#333" stroke-width="0.9" />
<line x1="143.18" y1="839.59" x2="147.78" y2="839.59" stroke="#333" stroke-width="0.9" />
<line x1="168.60" y1="842.80" x2="168.60" y2="825.27" stroke="#333" stroke-width="0.9" />
<line x1="166.30" y1="825.27" x2="170.90" y2="825.27" stroke="#333" stroke-width="0.9" />
<line x1="191.72" y1="835.52" x2="191.72" y2="812.43" stroke="#333" stroke-width="0.9" />
<line x1="189.42" y1="812.43" x2="194.02" y2="812.43" stroke="#333" stroke-width="0.9" />
<line x1="214.84" y1="824.72" x2="214.84" y2="794.97" stroke="#333" stroke-width="0.9" />
<line x1="212.54" y1="794.97" x2="217.14" y2="794.97" stroke="#333" stroke-width="0.9" />
<line x1="237.96" y1="812.37" x2="237.96" y2="773.18" stroke="#333" stroke-width="0.9" />
<line x1="235.66" y1="773.18" x2="240.26" y2="773.18" stroke="#333" stroke-width="0.9" />
<line x1="261.08" y1="783.36" x2="261.08" y2="720.35" stroke="#333" stroke-width="0.9" />
<line x1="258.78" y1="720.35" x2="263.38" y2="720.35" stroke="#333" stroke-width="0.9" />
<polyline points="53.00,863.48 76.12,861.93 99.24,858.42 122.36,856.32 145.48,851.69 168.60,842.80 191.72,835.52 214.84,824.72 237.96,812.37 261.08,783.36" fill="none" stroke="#231f20" stroke-width="1.0" />
<circle cx="53.00" cy="863.48" r="3.2" fill="#231f20" stroke="#231f20" stroke-width="1.0"/>
<circle cx="76.12" cy="861.93" r="3.2" fill="#231f20" stroke="#231f20" stroke-width="1.0"/>
<circle cx="99.24" cy="858.42" r="3.2" fill="#231f20" stroke="#231f20" stroke-width="1.0"/>
<circle cx="122.36" cy="856.32" r="3.2" fill="#231f20" stroke="#231f20" stroke-width="1.0"/>
<circle cx="145.48" cy="851.69" r="3.2" fill="#231f20" stroke="#231f20" stroke-width="1.0"/>
<circle cx="168.60" cy="842.80" r="3.2" fill="#231f20" stroke="#231f20" stroke-width="1.0"/>
<circle cx="191.72" cy="835.52" r="3.2" fill="#231f20" stroke="#231f20" stroke-width="1.0"/>
<circle cx="214.84" cy="824.72" r="3.2" fill="#231f20" stroke="#231f20" stroke-width="1.0"/>
<circle cx="237.96" cy="812.37" r="3.2" fill="#231f20" stroke="#231f20" stroke-width="1.0"/>
<circle cx="261.08" cy="783.36" r="3.2" fill="#231f20" stroke="#231f20" stroke-width="1.0"/>
<line x1="65.50" y1="720.00" x2="81.90" y2="720.00" stroke="#231f20" stroke-width="1.0" />
<circle cx="73.70" cy="720.00" r="3.2" fill="#231f20" stroke="#231f20" stroke-width="1.5"/>
<text transform="translate(88.40,723.60) scale(1,1.05)" font-size="11.2" text-anchor="start" fill="#231f20" >PBS</text>
<line x1="65.50" y1="736.75" x2="81.90" y2="736.75" stroke="#231f20" stroke-width="1.0" />
<polygon points="73.70,733.78 70.33,738.91 77.08,738.91" fill="#231f20" stroke="none" stroke-width="1"/>
<text transform="translate(88.40,740.35) scale(1,1.05)" font-size="11.2" text-anchor="start" fill="#231f20" >Cisplatin 2 mg/kg</text>
<line x1="65.50" y1="753.50" x2="81.90" y2="753.50" stroke="#231f20" stroke-width="1.0" />
<rect x="70.95" y="750.75" width="5.50" height="5.50" fill="#fff" stroke="#231f20" stroke-width="1.5" />
<text transform="translate(88.40,757.10) scale(1,1.05)" font-size="11.2" text-anchor="start" fill="#231f20" >46-3 ADC 5.0 mg/kg</text>
<line x1="53.40" y1="896.40" x2="53.40" y2="902.70" stroke="#444" stroke-width="0.9" />
<polygon points="53.40,893.40 50.75,898.00 56.05,898.00" fill="#231f20" stroke="none" stroke-width="1"/>
<text transform="translate(53.40,913.60) scale(1,1.05)" font-size="10.8" text-anchor="middle" fill="#231f20" >I.V</text>
<text transform="translate(372.80,686.60) scale(1,1.05)" font-size="18.8" text-anchor="start" fill="#231f20" stroke="#231f20" stroke-width="0.2">H</text>
<text transform="translate(401.70,683.00) scale(1,1.05)" font-size="11.5" text-anchor="start" fill="#231f20" >HS-Os-1 Xenograft</text>
<line x1="433.50" y1="720.60" x2="433.50" y2="870.30" stroke="#231f20" stroke-width="1.3" />
<line x1="432.90" y1="869.70" x2="658.20" y2="869.70" stroke="#231f20" stroke-width="1.3" />
<line x1="427.30" y1="869.70" x2="433.50" y2="869.70" stroke="#231f20" stroke-width="1.2" />
<text transform="translate(425.20,873.30) scale(1,1.05)" font-size="11.7" text-anchor="end" fill="#231f20" >0</text>
<line x1="430.10" y1="839.88" x2="433.50" y2="839.88" stroke="#231f20" stroke-width="1.2" />
<text transform="translate(425.20,843.48) scale(1,1.05)" font-size="11.7" text-anchor="end" fill="#231f20" >500</text>
<line x1="427.30" y1="810.06" x2="433.50" y2="810.06" stroke="#231f20" stroke-width="1.2" />
<text transform="translate(425.20,813.66) scale(1,1.05)" font-size="11.7" text-anchor="end" fill="#231f20" >1000</text>
<line x1="430.10" y1="780.24" x2="433.50" y2="780.24" stroke="#231f20" stroke-width="1.2" />
<text transform="translate(425.20,783.84) scale(1,1.05)" font-size="11.7" text-anchor="end" fill="#231f20" >1500</text>
<line x1="427.30" y1="750.42" x2="433.50" y2="750.42" stroke="#231f20" stroke-width="1.2" />
<text transform="translate(425.20,754.02) scale(1,1.05)" font-size="11.7" text-anchor="end" fill="#231f20" >2000</text>
<line x1="430.10" y1="720.60" x2="433.50" y2="720.60" stroke="#231f20" stroke-width="1.2" />
<text transform="translate(425.20,724.20) scale(1,1.05)" font-size="11.7" text-anchor="end" fill="#231f20" >2500</text>
<line x1="433.60" y1="869.70" x2="433.60" y2="875.70" stroke="#231f20" stroke-width="1.2" />
<text transform="translate(433.60,888.60) scale(1,1.05)" font-size="11.5" text-anchor="middle" fill="#231f20" >0</text>
<line x1="442.58" y1="869.70" x2="442.58" y2="874.20" stroke="#231f20" stroke-width="1.2" />
<line x1="451.56" y1="869.70" x2="451.56" y2="874.20" stroke="#231f20" stroke-width="1.2" />
<line x1="460.54" y1="869.70" x2="460.54" y2="874.20" stroke="#231f20" stroke-width="1.2" />
<line x1="469.52" y1="869.70" x2="469.52" y2="874.20" stroke="#231f20" stroke-width="1.2" />
<line x1="478.50" y1="869.70" x2="478.50" y2="875.70" stroke="#231f20" stroke-width="1.2" />
<text transform="translate(478.50,888.60) scale(1,1.05)" font-size="11.5" text-anchor="middle" fill="#231f20" >10</text>
<line x1="487.48" y1="869.70" x2="487.48" y2="874.20" stroke="#231f20" stroke-width="1.2" />
<line x1="496.46" y1="869.70" x2="496.46" y2="874.20" stroke="#231f20" stroke-width="1.2" />
<line x1="505.44" y1="869.70" x2="505.44" y2="874.20" stroke="#231f20" stroke-width="1.2" />
<line x1="514.42" y1="869.70" x2="514.42" y2="874.20" stroke="#231f20" stroke-width="1.2" />
<line x1="523.40" y1="869.70" x2="523.40" y2="875.70" stroke="#231f20" stroke-width="1.2" />
<text transform="translate(523.40,888.60) scale(1,1.05)" font-size="11.5" text-anchor="middle" fill="#231f20" >20</text>
<line x1="532.38" y1="869.70" x2="532.38" y2="874.20" stroke="#231f20" stroke-width="1.2" />
<line x1="541.36" y1="869.70" x2="541.36" y2="874.20" stroke="#231f20" stroke-width="1.2" />
<line x1="550.34" y1="869.70" x2="550.34" y2="874.20" stroke="#231f20" stroke-width="1.2" />
<line x1="559.32" y1="869.70" x2="559.32" y2="874.20" stroke="#231f20" stroke-width="1.2" />
<line x1="568.30" y1="869.70" x2="568.30" y2="875.70" stroke="#231f20" stroke-width="1.2" />
<text transform="translate(568.30,888.60) scale(1,1.05)" font-size="11.5" text-anchor="middle" fill="#231f20" >30</text>
<line x1="577.28" y1="869.70" x2="577.28" y2="874.20" stroke="#231f20" stroke-width="1.2" />
<line x1="586.26" y1="869.70" x2="586.26" y2="874.20" stroke="#231f20" stroke-width="1.2" />
<line x1="595.24" y1="869.70" x2="595.24" y2="874.20" stroke="#231f20" stroke-width="1.2" />
<line x1="604.22" y1="869.70" x2="604.22" y2="874.20" stroke="#231f20" stroke-width="1.2" />
<line x1="613.20" y1="869.70" x2="613.20" y2="875.70" stroke="#231f20" stroke-width="1.2" />
<text transform="translate(613.20,888.60) scale(1,1.05)" font-size="11.5" text-anchor="middle" fill="#231f20" >40</text>
<line x1="622.18" y1="869.70" x2="622.18" y2="874.20" stroke="#231f20" stroke-width="1.2" />
<line x1="631.16" y1="869.70" x2="631.16" y2="874.20" stroke="#231f20" stroke-width="1.2" />
<line x1="640.14" y1="869.70" x2="640.14" y2="874.20" stroke="#231f20" stroke-width="1.2" />
<line x1="649.12" y1="869.70" x2="649.12" y2="874.20" stroke="#231f20" stroke-width="1.2" />
<line x1="658.10" y1="869.70" x2="658.10" y2="875.70" stroke="#231f20" stroke-width="1.2" />
<text transform="translate(658.10,888.60) scale(1,1.05)" font-size="11.5" text-anchor="middle" fill="#231f20" >50</text>
<text transform="translate(549.00,901.70) scale(1,1.05)" font-size="11.5" text-anchor="middle" fill="#231f20" >Days</text>
<text x="0" y="0" font-size="11.5" text-anchor="middle" fill="#231f20" transform="translate(387.8,796.0) rotate(-90)">Volume (mm<tspan font-size="7" dy="-4">3</tspan><tspan dy="4">)</tspan></text>
<line x1="532.38" y1="855.86" x2="532.38" y2="854.19" stroke="#333" stroke-width="0.9" />
<line x1="530.08" y1="854.19" x2="534.68" y2="854.19" stroke="#333" stroke-width="0.9" />
<line x1="541.36" y1="854.79" x2="541.36" y2="853.00" stroke="#333" stroke-width="0.9" />
<line x1="539.06" y1="853.00" x2="543.66" y2="853.00" stroke="#333" stroke-width="0.9" />
<line x1="550.34" y1="852.11" x2="550.34" y2="845.43" stroke="#333" stroke-width="0.9" />
<line x1="548.04" y1="845.43" x2="552.64" y2="845.43" stroke="#333" stroke-width="0.9" />
<line x1="559.32" y1="847.34" x2="559.32" y2="838.81" stroke="#333" stroke-width="0.9" />
<line x1="557.02" y1="838.81" x2="561.62" y2="838.81" stroke="#333" stroke-width="0.9" />
<line x1="568.30" y1="842.86" x2="568.30" y2="827.65" stroke="#333" stroke-width="0.9" />
<line x1="566.00" y1="827.65" x2="570.60" y2="827.65" stroke="#333" stroke-width="0.9" />
<line x1="577.28" y1="839.58" x2="577.28" y2="825.33" stroke="#333" stroke-width="0.9" />
<line x1="574.98" y1="825.33" x2="579.58" y2="825.33" stroke="#333" stroke-width="0.9" />
<line x1="586.26" y1="834.69" x2="586.26" y2="818.83" stroke="#333" stroke-width="0.9" />
<line x1="583.96" y1="818.83" x2="588.56" y2="818.83" stroke="#333" stroke-width="0.9" />
<line x1="595.24" y1="825.92" x2="595.24" y2="805.53" stroke="#333" stroke-width="0.9" />
<line x1="592.94" y1="805.53" x2="597.54" y2="805.53" stroke="#333" stroke-width="0.9" />
<line x1="604.22" y1="814.12" x2="604.22" y2="783.46" stroke="#333" stroke-width="0.9" />
<line x1="601.92" y1="783.46" x2="606.52" y2="783.46" stroke="#333" stroke-width="0.9" />
<line x1="613.20" y1="795.75" x2="613.20" y2="760.56" stroke="#333" stroke-width="0.9" />
<line x1="610.90" y1="760.56" x2="615.50" y2="760.56" stroke="#333" stroke-width="0.9" />
<polyline points="433.60,858.37 442.58,858.49 451.56,857.53 460.54,857.53 469.52,858.73 478.50,859.02 487.48,859.02 496.46,859.92 505.44,859.50 514.42,857.53 523.40,857.53 532.38,855.86 541.36,854.79 550.34,852.11 559.32,847.34 568.30,842.86 577.28,839.58 586.26,834.69 595.24,825.92 604.22,814.12 613.20,795.75" fill="none" stroke="#231f20" stroke-width="1.0" />
<circle cx="433.60" cy="858.37" r="2.8" fill="#fff" stroke="#231f20" stroke-width="1.35"/>
<circle cx="442.58" cy="858.49" r="2.8" fill="#fff" stroke="#231f20" stroke-width="1.35"/>
<circle cx="451.56" cy="857.53" r="2.8" fill="#fff" stroke="#231f20" stroke-width="1.35"/>
<circle cx="460.54" cy="857.53" r="2.8" fill="#fff" stroke="#231f20" stroke-width="1.35"/>
<circle cx="469.52" cy="858.73" r="2.8" fill="#fff" stroke="#231f20" stroke-width="1.35"/>
<circle cx="478.50" cy="859.02" r="2.8" fill="#fff" stroke="#231f20" stroke-width="1.35"/>
<circle cx="487.48" cy="859.02" r="2.8" fill="#fff" stroke="#231f20" stroke-width="1.35"/>
<circle cx="496.46" cy="859.92" r="2.8" fill="#fff" stroke="#231f20" stroke-width="1.35"/>
<circle cx="505.44" cy="859.50" r="2.8" fill="#fff" stroke="#231f20" stroke-width="1.35"/>
<circle cx="514.42" cy="857.53" r="2.8" fill="#fff" stroke="#231f20" stroke-width="1.35"/>
<circle cx="523.40" cy="857.53" r="2.8" fill="#fff" stroke="#231f20" stroke-width="1.35"/>
<circle cx="532.38" cy="855.86" r="2.8" fill="#fff" stroke="#231f20" stroke-width="1.35"/>
<circle cx="541.36" cy="854.79" r="2.8" fill="#fff" stroke="#231f20" stroke-width="1.35"/>
<circle cx="550.34" cy="852.11" r="2.8" fill="#fff" stroke="#231f20" stroke-width="1.35"/>
<circle cx="559.32" cy="847.34" r="2.8" fill="#fff" stroke="#231f20" stroke-width="1.35"/>
<circle cx="568.30" cy="842.86" r="2.8" fill="#fff" stroke="#231f20" stroke-width="1.35"/>
<circle cx="577.28" cy="839.58" r="2.8" fill="#fff" stroke="#231f20" stroke-width="1.35"/>
<circle cx="586.26" cy="834.69" r="2.8" fill="#fff" stroke="#231f20" stroke-width="1.35"/>
<circle cx="595.24" cy="825.92" r="2.8" fill="#fff" stroke="#231f20" stroke-width="1.35"/>
<circle cx="604.22" cy="814.12" r="2.8" fill="#fff" stroke="#231f20" stroke-width="1.35"/>
<circle cx="613.20" cy="795.75" r="2.8" fill="#fff" stroke="#231f20" stroke-width="1.35"/>
<line x1="586.26" y1="846.02" x2="586.26" y2="828.43" stroke="#333" stroke-width="0.9" />
<line x1="583.96" y1="828.43" x2="588.56" y2="828.43" stroke="#333" stroke-width="0.9" />
<line x1="604.22" y1="829.44" x2="604.22" y2="801.05" stroke="#333" stroke-width="0.9" />
<line x1="601.92" y1="801.05" x2="606.52" y2="801.05" stroke="#333" stroke-width="0.9" />
<line x1="613.20" y1="811.07" x2="613.20" y2="765.69" stroke="#333" stroke-width="0.9" />
<line x1="610.90" y1="765.69" x2="615.50" y2="765.69" stroke="#333" stroke-width="0.9" />
<polyline points="433.60,857.77 442.58,858.67 451.56,858.96 460.54,859.26 469.52,859.56 478.50,859.86 487.48,860.16 496.46,860.28 505.44,860.75 514.42,861.35 523.40,861.35 532.38,860.16 541.36,858.61 550.34,857.00 559.32,857.00 568.30,853.90 577.28,851.93 586.26,846.02 595.24,843.76 604.22,829.44 613.20,811.07" fill="none" stroke="#231f20" stroke-width="1.0" />
<polygon points="433.60,854.26 430.63,857.77 433.60,861.28 436.57,857.77" fill="#fff" stroke="#231f20" stroke-width="1.35"/>
<polygon points="442.58,855.16 439.61,858.67 442.58,862.18 445.55,858.67" fill="#fff" stroke="#231f20" stroke-width="1.35"/>
<polygon points="451.56,855.45 448.59,858.96 451.56,862.47 454.53,858.96" fill="#fff" stroke="#231f20" stroke-width="1.35"/>
<polygon points="460.54,855.75 457.57,859.26 460.54,862.77 463.51,859.26" fill="#fff" stroke="#231f20" stroke-width="1.35"/>
<polygon points="469.52,856.05 466.55,859.56 469.52,863.07 472.49,859.56" fill="#fff" stroke="#231f20" stroke-width="1.35"/>
<polygon points="478.50,856.35 475.53,859.86 478.50,863.37 481.47,859.86" fill="#fff" stroke="#231f20" stroke-width="1.35"/>
<polygon points="487.48,856.65 484.51,860.16 487.48,863.67 490.45,860.16" fill="#fff" stroke="#231f20" stroke-width="1.35"/>
<polygon points="496.46,856.77 493.49,860.28 496.46,863.79 499.43,860.28" fill="#fff" stroke="#231f20" stroke-width="1.35"/>
<polygon points="505.44,857.24 502.47,860.75 505.44,864.26 508.41,860.75" fill="#fff" stroke="#231f20" stroke-width="1.35"/>
<polygon points="514.42,857.84 511.45,861.35 514.42,864.86 517.39,861.35" fill="#fff" stroke="#231f20" stroke-width="1.35"/>
<polygon points="523.40,857.84 520.43,861.35 523.40,864.86 526.37,861.35" fill="#fff" stroke="#231f20" stroke-width="1.35"/>
<polygon points="532.38,856.65 529.41,860.16 532.38,863.67 535.35,860.16" fill="#fff" stroke="#231f20" stroke-width="1.35"/>
<polygon points="541.36,855.10 538.39,858.61 541.36,862.12 544.33,858.61" fill="#fff" stroke="#231f20" stroke-width="1.35"/>
<polygon points="550.34,853.49 547.37,857.00 550.34,860.51 553.31,857.00" fill="#fff" stroke="#231f20" stroke-width="1.35"/>
<polygon points="559.32,853.49 556.35,857.00 559.32,860.51 562.29,857.00" fill="#fff" stroke="#231f20" stroke-width="1.35"/>
<polygon points="568.30,850.39 565.33,853.90 568.30,857.41 571.27,853.90" fill="#fff" stroke="#231f20" stroke-width="1.35"/>
<polygon points="577.28,848.42 574.31,851.93 577.28,855.44 580.25,851.93" fill="#fff" stroke="#231f20" stroke-width="1.35"/>
<polygon points="586.26,842.51 583.29,846.02 586.26,849.53 589.23,846.02" fill="#fff" stroke="#231f20" stroke-width="1.35"/>
<polygon points="595.24,840.25 592.27,843.76 595.24,847.27 598.21,843.76" fill="#fff" stroke="#231f20" stroke-width="1.35"/>
<polygon points="604.22,825.93 601.25,829.44 604.22,832.95 607.19,829.44" fill="#fff" stroke="#231f20" stroke-width="1.35"/>
<polygon points="613.20,807.56 610.23,811.07 613.20,814.58 616.17,811.07" fill="#fff" stroke="#231f20" stroke-width="1.35"/>
<line x1="451.56" y1="848.83" x2="451.56" y2="844.65" stroke="#333" stroke-width="0.9" />
<line x1="449.26" y1="844.65" x2="453.86" y2="844.65" stroke="#333" stroke-width="0.9" />
<line x1="460.54" y1="844.65" x2="460.54" y2="838.09" stroke="#333" stroke-width="0.9" />
<line x1="458.24" y1="838.09" x2="462.84" y2="838.09" stroke="#333" stroke-width="0.9" />
<line x1="469.52" y1="845.25" x2="469.52" y2="838.09" stroke="#333" stroke-width="0.9" />
<line x1="467.22" y1="838.09" x2="471.82" y2="838.09" stroke="#333" stroke-width="0.9" />
<line x1="478.50" y1="845.84" x2="478.50" y2="836.30" stroke="#333" stroke-width="0.9" />
<line x1="476.20" y1="836.30" x2="480.80" y2="836.30" stroke="#333" stroke-width="0.9" />
<line x1="487.48" y1="842.86" x2="487.48" y2="832.72" stroke="#333" stroke-width="0.9" />
<line x1="485.18" y1="832.72" x2="489.78" y2="832.72" stroke="#333" stroke-width="0.9" />
<line x1="496.46" y1="841.67" x2="496.46" y2="830.34" stroke="#333" stroke-width="0.9" />
<line x1="494.16" y1="830.34" x2="498.76" y2="830.34" stroke="#333" stroke-width="0.9" />
<line x1="505.44" y1="838.69" x2="505.44" y2="819.01" stroke="#333" stroke-width="0.9" />
<line x1="503.14" y1="819.01" x2="507.74" y2="819.01" stroke="#333" stroke-width="0.9" />
<line x1="514.42" y1="835.05" x2="514.42" y2="807.08" stroke="#333" stroke-width="0.9" />
<line x1="512.12" y1="807.08" x2="516.72" y2="807.08" stroke="#333" stroke-width="0.9" />
<line x1="523.40" y1="815.67" x2="523.40" y2="807.50" stroke="#333" stroke-width="0.9" />
<line x1="521.10" y1="807.50" x2="525.70" y2="807.50" stroke="#333" stroke-width="0.9" />
<polyline points="433.60,856.88 442.58,851.81 451.56,848.83 460.54,844.65 469.52,845.25 478.50,845.84 487.48,842.86 496.46,841.67 505.44,838.69 514.42,835.05 523.40,815.67" fill="none" stroke="#231f20" stroke-width="1.0" />
<polygon points="433.60,853.76 430.48,859.22 436.72,859.22" fill="#fff" stroke="#231f20" stroke-width="1.35"/>
<polygon points="442.58,848.69 439.46,854.15 445.70,854.15" fill="#fff" stroke="#231f20" stroke-width="1.35"/>
<polygon points="451.56,845.71 448.44,851.17 454.68,851.17" fill="#fff" stroke="#231f20" stroke-width="1.35"/>
<polygon points="460.54,841.53 457.42,846.99 463.66,846.99" fill="#fff" stroke="#231f20" stroke-width="1.35"/>
<polygon points="469.52,842.13 466.40,847.59 472.64,847.59" fill="#fff" stroke="#231f20" stroke-width="1.35"/>
<polygon points="478.50,842.72 475.38,848.18 481.62,848.18" fill="#fff" stroke="#231f20" stroke-width="1.35"/>
<polygon points="487.48,839.74 484.36,845.20 490.60,845.20" fill="#fff" stroke="#231f20" stroke-width="1.35"/>
<polygon points="496.46,838.55 493.34,844.01 499.58,844.01" fill="#fff" stroke="#231f20" stroke-width="1.35"/>
<polygon points="505.44,835.57 502.32,841.03 508.56,841.03" fill="#fff" stroke="#231f20" stroke-width="1.35"/>
<polygon points="514.42,831.93 511.30,837.39 517.54,837.39" fill="#fff" stroke="#231f20" stroke-width="1.35"/>
<polygon points="523.40,812.55 520.28,818.01 526.52,818.01" fill="#fff" stroke="#231f20" stroke-width="1.35"/>
<line x1="505.44" y1="839.70" x2="505.44" y2="819.78" stroke="#333" stroke-width="0.9" />
<line x1="503.14" y1="819.78" x2="507.74" y2="819.78" stroke="#333" stroke-width="0.9" />
<line x1="514.42" y1="833.62" x2="514.42" y2="801.41" stroke="#333" stroke-width="0.9" />
<line x1="512.12" y1="801.41" x2="516.72" y2="801.41" stroke="#333" stroke-width="0.9" />
<line x1="523.40" y1="827.83" x2="523.40" y2="768.73" stroke="#333" stroke-width="0.9" />
<line x1="521.10" y1="768.73" x2="525.70" y2="768.73" stroke="#333" stroke-width="0.9" />
<line x1="532.38" y1="818.65" x2="532.38" y2="790.08" stroke="#333" stroke-width="0.9" />
<line x1="530.08" y1="790.08" x2="534.68" y2="790.08" stroke="#333" stroke-width="0.9" />
<line x1="541.36" y1="808.03" x2="541.36" y2="770.70" stroke="#333" stroke-width="0.9" />
<line x1="539.06" y1="770.70" x2="543.66" y2="770.70" stroke="#333" stroke-width="0.9" />
<polyline points="433.60,857.00 442.58,855.39 451.56,853.12 460.54,850.02 469.52,851.39 478.50,848.23 487.48,844.11 496.46,844.83 505.44,839.70 514.42,833.62 523.40,827.83 532.38,818.65 541.36,808.03" fill="none" stroke="#231f20" stroke-width="1.0" />
<rect x="430.60" y="854.00" width="6.00" height="6.00" fill="#231f20" stroke="none" stroke-width="1" />
<rect x="439.58" y="852.39" width="6.00" height="6.00" fill="#231f20" stroke="none" stroke-width="1" />
<rect x="448.56" y="850.12" width="6.00" height="6.00" fill="#231f20" stroke="none" stroke-width="1" />
<rect x="457.54" y="847.02" width="6.00" height="6.00" fill="#231f20" stroke="none" stroke-width="1" />
<rect x="466.52" y="848.39" width="6.00" height="6.00" fill="#231f20" stroke="none" stroke-width="1" />
<rect x="475.50" y="845.23" width="6.00" height="6.00" fill="#231f20" stroke="none" stroke-width="1" />
<rect x="484.48" y="841.11" width="6.00" height="6.00" fill="#231f20" stroke="none" stroke-width="1" />
<rect x="493.46" y="841.83" width="6.00" height="6.00" fill="#231f20" stroke="none" stroke-width="1" />
<rect x="502.44" y="836.70" width="6.00" height="6.00" fill="#231f20" stroke="none" stroke-width="1" />
<rect x="511.42" y="830.62" width="6.00" height="6.00" fill="#231f20" stroke="none" stroke-width="1" />
<rect x="520.40" y="824.83" width="6.00" height="6.00" fill="#231f20" stroke="none" stroke-width="1" />
<rect x="529.38" y="815.65" width="6.00" height="6.00" fill="#231f20" stroke="none" stroke-width="1" />
<rect x="538.36" y="805.03" width="6.00" height="6.00" fill="#231f20" stroke="none" stroke-width="1" />
<line x1="442.58" y1="848.53" x2="442.58" y2="839.34" stroke="#333" stroke-width="0.9" />
<line x1="440.28" y1="839.34" x2="444.88" y2="839.34" stroke="#333" stroke-width="0.9" />
<line x1="451.56" y1="841.97" x2="451.56" y2="828.31" stroke="#333" stroke-width="0.9" />
<line x1="449.26" y1="828.31" x2="453.86" y2="828.31" stroke="#333" stroke-width="0.9" />
<line x1="460.54" y1="831.05" x2="460.54" y2="808.87" stroke="#333" stroke-width="0.9" />
<line x1="458.24" y1="808.87" x2="462.84" y2="808.87" stroke="#333" stroke-width="0.9" />
<line x1="469.52" y1="823.42" x2="469.52" y2="798.67" stroke="#333" stroke-width="0.9" />
<line x1="467.22" y1="798.67" x2="471.82" y2="798.67" stroke="#333" stroke-width="0.9" />
<line x1="478.50" y1="812.33" x2="478.50" y2="776.78" stroke="#333" stroke-width="0.9" />
<line x1="476.20" y1="776.78" x2="480.80" y2="776.78" stroke="#333" stroke-width="0.9" />
<line x1="487.48" y1="801.53" x2="487.48" y2="762.47" stroke="#333" stroke-width="0.9" />
<line x1="485.18" y1="762.47" x2="489.78" y2="762.47" stroke="#333" stroke-width="0.9" />
<line x1="496.46" y1="784.06" x2="496.46" y2="725.67" stroke="#333" stroke-width="0.9" />
<line x1="494.16" y1="725.67" x2="498.76" y2="725.67" stroke="#333" stroke-width="0.9" />
<polyline points="433.60,856.52 442.58,848.53 451.56,841.97 460.54,831.05 469.52,823.42 478.50,812.33 487.48,801.53 496.46,784.06" fill="none" stroke="#231f20" stroke-width="1.0" />
<rect x="431.15" y="854.07" width="4.90" height="4.90" fill="#fff" stroke="#231f20" stroke-width="1.45" />
<rect x="440.13" y="846.08" width="4.90" height="4.90" fill="#fff" stroke="#231f20" stroke-width="1.45" />
<rect x="449.11" y="839.52" width="4.90" height="4.90" fill="#fff" stroke="#231f20" stroke-width="1.45" />
<rect x="458.09" y="828.60" width="4.90" height="4.90" fill="#fff" stroke="#231f20" stroke-width="1.45" />
<rect x="467.07" y="820.97" width="4.90" height="4.90" fill="#fff" stroke="#231f20" stroke-width="1.45" />
<rect x="476.05" y="809.88" width="4.90" height="4.90" fill="#fff" stroke="#231f20" stroke-width="1.45" />
<rect x="485.03" y="799.08" width="4.90" height="4.90" fill="#fff" stroke="#231f20" stroke-width="1.45" />
<rect x="494.01" y="781.61" width="4.90" height="4.90" fill="#fff" stroke="#231f20" stroke-width="1.45" />
<line x1="514.00" y1="679.80" x2="530.50" y2="679.80" stroke="#231f20" stroke-width="1.0" />
<rect x="520.00" y="676.80" width="6.00" height="6.00" fill="#231f20" stroke="none" stroke-width="1" />
<text transform="translate(533.40,683.00) scale(1,1.05)" font-size="11.5" text-anchor="start" fill="#231f20" >Isotype IgG ADC 15.0 mg/kg</text>
<line x1="514.00" y1="697.75" x2="530.50" y2="697.75" stroke="#231f20" stroke-width="1.0" />
<rect x="520.55" y="695.30" width="4.90" height="4.90" fill="#fff" stroke="#231f20" stroke-width="1.4" />
<text transform="translate(532.00,699.85) scale(1,1.05)" font-size="11.5" text-anchor="start" fill="#231f20" >46-3 ADC 0.1 mg/kg</text>
<line x1="514.00" y1="714.60" x2="530.50" y2="714.60" stroke="#231f20" stroke-width="1.0" />
<polygon points="523.00,711.48 519.88,716.94 526.12,716.94" fill="#fff" stroke="#231f20" stroke-width="1.4"/>
<text transform="translate(532.00,716.70) scale(1,1.05)" font-size="11.5" text-anchor="start" fill="#231f20" >46-3 ADC 1.0 mg/kg</text>
<line x1="514.00" y1="731.45" x2="530.50" y2="731.45" stroke="#231f20" stroke-width="1.0" />
<circle cx="523.00" cy="731.45" r="2.8" fill="#fff" stroke="#231f20" stroke-width="1.4"/>
<text transform="translate(532.00,733.55) scale(1,1.05)" font-size="11.5" text-anchor="start" fill="#231f20" >46-3 ADC 5.0 mg/kg</text>
<line x1="514.00" y1="748.30" x2="530.50" y2="748.30" stroke="#231f20" stroke-width="1.0" />
<polygon points="523.00,744.79 520.03,748.30 523.00,751.81 525.97,748.30" fill="#fff" stroke="#231f20" stroke-width="1.4"/>
<text transform="translate(532.00,750.40) scale(1,1.05)" font-size="11.5" text-anchor="start" fill="#231f20" >46-3 ADC 15.0 mg/kg</text>
<line x1="433.60" y1="895.70" x2="433.60" y2="901.70" stroke="#444" stroke-width="0.9" />
<polygon points="433.60,892.70 431.05,897.10 436.15,897.10" fill="#231f20" stroke="none" stroke-width="1"/>
<text transform="translate(433.60,910.10) scale(1,1.05)" font-size="9.6" text-anchor="middle" fill="#231f20" >I.V</text>
<line x1="451.50" y1="895.70" x2="451.50" y2="901.70" stroke="#444" stroke-width="0.9" />
<polygon points="451.50,892.70 448.95,897.10 454.05,897.10" fill="#231f20" stroke="none" stroke-width="1"/>
<text transform="translate(451.50,910.10) scale(1,1.05)" font-size="9.6" text-anchor="middle" fill="#231f20" >I.V</text>
<line x1="469.40" y1="895.70" x2="469.40" y2="901.70" stroke="#444" stroke-width="0.9" />
<polygon points="469.40,892.70 466.85,897.10 471.95,897.10" fill="#231f20" stroke="none" stroke-width="1"/>
<text transform="translate(469.40,910.10) scale(1,1.05)" font-size="9.6" text-anchor="middle" fill="#231f20" >I.V</text>
</svg>
</body></html>
